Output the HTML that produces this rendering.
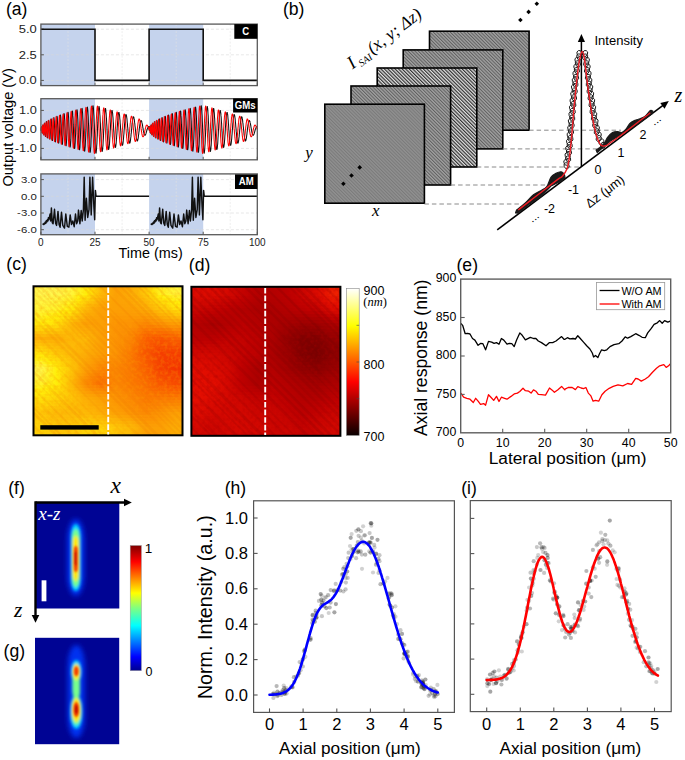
<!DOCTYPE html><html><head><meta charset="utf-8"><style>html,body{margin:0;padding:0;background:#fff;}svg{display:block;}</style></head><body><svg width="685" height="760" viewBox="0 0 685 760"><text x="5.9" y="15.3" font-size="17.6" font-family="Liberation Sans, sans-serif">(a)</text>
<rect x="40.9" y="24.1" width="54.1" height="61.5" fill="#c5d3ed"/>
<rect x="149.1" y="24.1" width="54.1" height="61.5" fill="#c5d3ed"/>
<line x1="68" y1="24.1" x2="68" y2="85.6" stroke="#e2e2e2" stroke-width="0.6" stroke-dasharray="2,1.5"/>
<line x1="122.1" y1="24.1" x2="122.1" y2="85.6" stroke="#e2e2e2" stroke-width="0.6" stroke-dasharray="2,1.5"/>
<line x1="176.2" y1="24.1" x2="176.2" y2="85.6" stroke="#e2e2e2" stroke-width="0.6" stroke-dasharray="2,1.5"/>
<line x1="230.2" y1="24.1" x2="230.2" y2="85.6" stroke="#e2e2e2" stroke-width="0.6" stroke-dasharray="2,1.5"/>
<line x1="40.9" y1="29.2" x2="257.3" y2="29.2" stroke="#d6d6d6" stroke-width="0.6" stroke-dasharray="3,2"/>
<line x1="40.9" y1="29.2" x2="43.9" y2="29.2" stroke="#555" stroke-width="1"/>
<text transform="translate(36.8,29.2) scale(1.1,0.96)" y="4.2" font-size="11.8" text-anchor="end" font-family="Liberation Sans, sans-serif" fill="#222">5.0</text>
<line x1="40.9" y1="54.8" x2="257.3" y2="54.8" stroke="#d6d6d6" stroke-width="0.6" stroke-dasharray="3,2"/>
<line x1="40.9" y1="54.8" x2="43.9" y2="54.8" stroke="#555" stroke-width="1"/>
<text transform="translate(36.8,54.8) scale(1.1,0.96)" y="4.2" font-size="11.8" text-anchor="end" font-family="Liberation Sans, sans-serif" fill="#222">2.5</text>
<line x1="40.9" y1="80.4" x2="257.3" y2="80.4" stroke="#d6d6d6" stroke-width="0.6" stroke-dasharray="3,2"/>
<line x1="40.9" y1="80.4" x2="43.9" y2="80.4" stroke="#555" stroke-width="1"/>
<text transform="translate(36.8,80.4) scale(1.1,0.96)" y="4.2" font-size="11.8" text-anchor="end" font-family="Liberation Sans, sans-serif" fill="#222">0.0</text>
<polyline points="40.9,29.2 95,29.2 95,80.4 149.1,80.4 149.1,29.2 203.2,29.2 203.2,80.4 257.3,80.4" fill="none" stroke="#111" stroke-width="1.6"/>
<rect x="40.9" y="24.1" width="216.4" height="61.5" fill="none" stroke="#5a5a5a" stroke-width="1.3"/>
<line x1="40.9" y1="85.6" x2="40.9" y2="82.6" stroke="#555" stroke-width="1"/>
<line x1="95" y1="85.6" x2="95" y2="82.6" stroke="#555" stroke-width="1"/>
<line x1="149.1" y1="85.6" x2="149.1" y2="82.6" stroke="#555" stroke-width="1"/>
<line x1="203.2" y1="85.6" x2="203.2" y2="82.6" stroke="#555" stroke-width="1"/>
<line x1="257.3" y1="85.6" x2="257.3" y2="82.6" stroke="#555" stroke-width="1"/>
<rect x="234.3" y="24.1" width="23" height="14.7" fill="#000"/>
<text transform="translate(245.8,30.8) scale(1,1.17)" y="3.5" font-size="9.6" font-weight="bold" fill="#fff" text-anchor="middle" font-family="Liberation Sans, sans-serif">C</text>
<rect x="40.9" y="98.7" width="54.1" height="61.1" fill="#c5d3ed"/>
<rect x="149.1" y="98.7" width="54.1" height="61.1" fill="#c5d3ed"/>
<line x1="68" y1="98.7" x2="68" y2="159.8" stroke="#e2e2e2" stroke-width="0.6" stroke-dasharray="2,1.5"/>
<line x1="122.1" y1="98.7" x2="122.1" y2="159.8" stroke="#e2e2e2" stroke-width="0.6" stroke-dasharray="2,1.5"/>
<line x1="176.2" y1="98.7" x2="176.2" y2="159.8" stroke="#e2e2e2" stroke-width="0.6" stroke-dasharray="2,1.5"/>
<line x1="230.2" y1="98.7" x2="230.2" y2="159.8" stroke="#e2e2e2" stroke-width="0.6" stroke-dasharray="2,1.5"/>
<line x1="40.9" y1="110.4" x2="257.3" y2="110.4" stroke="#d6d6d6" stroke-width="0.6" stroke-dasharray="3,2"/>
<line x1="40.9" y1="110.4" x2="43.9" y2="110.4" stroke="#555" stroke-width="1"/>
<text transform="translate(36.8,110.4) scale(1.08,0.92)" y="4.2" font-size="11.8" text-anchor="end" font-family="Liberation Sans, sans-serif" fill="#222">1.0</text>
<line x1="40.9" y1="129.4" x2="257.3" y2="129.4" stroke="#d6d6d6" stroke-width="0.6" stroke-dasharray="3,2"/>
<line x1="40.9" y1="129.4" x2="43.9" y2="129.4" stroke="#555" stroke-width="1"/>
<text transform="translate(36.8,129.4) scale(1.08,0.92)" y="4.2" font-size="11.8" text-anchor="end" font-family="Liberation Sans, sans-serif" fill="#222">0.0</text>
<line x1="40.9" y1="148.4" x2="257.3" y2="148.4" stroke="#d6d6d6" stroke-width="0.6" stroke-dasharray="3,2"/>
<line x1="40.9" y1="148.4" x2="43.9" y2="148.4" stroke="#555" stroke-width="1"/>
<text transform="translate(36.8,148.4) scale(1.08,0.92)" y="4.2" font-size="11.8" text-anchor="end" font-family="Liberation Sans, sans-serif" fill="#222">-1.0</text>
<polyline points="40.9,129.4 41,130.4 41.2,129.9 41.3,128.8 41.4,127.6 41.5,126.8 41.7,126.9 41.8,128 41.9,129.8 42.1,131.6 42.2,132.9 42.3,133.2 42.5,132.3 42.6,130.4 42.7,128.1 42.8,126 43,124.8 43.1,124.8 43.2,126 43.4,128.2 43.5,130.8 43.6,133.2 43.8,134.7 43.9,135 44,133.9 44.1,131.7 44.3,129 44.4,126.2 44.5,124.1 44.7,123.1 44.8,123.4 44.9,124.9 45.1,127.5 45.2,130.4 45.3,133.3 45.4,135.4 45.6,136.5 45.7,136.2 45.8,134.7 46,132.2 46.1,129.1 46.2,126.1 46.4,123.5 46.5,122 46.6,121.6 46.7,122.5 46.9,124.6 47,127.4 47.1,130.6 47.3,133.6 47.4,136.1 47.5,137.6 47.7,137.9 47.8,136.9 47.9,134.9 48,132.1 48.2,128.9 48.3,125.7 48.4,123 48.6,121.1 48.7,120.3 48.8,120.6 49,122 49.1,124.4 49.2,127.4 49.3,130.7 49.5,133.8 49.6,136.5 49.7,138.4 49.9,139.2 50,138.9 50.1,137.6 50.2,135.4 50.4,132.5 50.5,129.2 50.6,125.9 50.8,123 50.9,120.7 51,119.3 51.2,118.9 51.3,119.5 51.4,121.1 51.5,123.5 51.7,126.5 51.8,129.8 51.9,133.1 52.1,136 52.2,138.4 52.3,139.9 52.5,140.5 52.6,140.2 52.7,138.9 52.8,136.8 53,134.1 53.1,130.9 53.2,127.6 53.4,124.5 53.5,121.7 53.6,119.5 53.8,118.1 53.9,117.6 54,118 54.1,119.2 54.3,121.3 54.4,123.9 54.5,127 54.7,130.3 54.8,133.5 54.9,136.4 55.1,138.9 55.2,140.7 55.3,141.7 55.4,141.9 55.6,141.2 55.7,139.7 55.8,137.6 56,134.8 56.1,131.8 56.2,128.5 56.4,125.3 56.5,122.4 56.6,119.9 56.7,117.9 56.9,116.7 57,116.2 57.1,116.6 57.3,117.7 57.4,119.5 57.5,121.9 57.6,124.8 57.8,127.9 57.9,131.2 58,134.4 58.2,137.3 58.3,139.7 58.4,141.6 58.6,142.8 58.7,143.2 58.8,142.9 58.9,141.8 59.1,139.9 59.2,137.5 59.3,134.7 59.5,131.5 59.6,128.2 59.7,124.9 59.9,121.9 60,119.3 60.1,117.2 60.2,115.7 60.4,115 60.5,115 60.6,115.8 60.8,117.3 60.9,119.4 61,122.1 61.2,125.2 61.3,128.5 61.4,131.8 61.5,135 61.7,138 61.8,140.5 61.9,142.5 62.1,143.9 62.2,144.5 62.3,144.4 62.5,143.5 62.6,142 62.7,139.8 62.8,137.2 63,134.1 63.1,130.8 63.2,127.4 63.4,124.2 63.5,121.1 63.6,118.4 63.8,116.3 63.9,114.7 64,113.8 64.1,113.6 64.3,114.2 64.4,115.4 64.5,117.3 64.7,119.7 64.8,122.6 64.9,125.8 65.1,129.2 65.2,132.6 65.3,135.8 65.4,138.8 65.6,141.4 65.7,143.5 65.8,144.9 66,145.7 66.1,145.8 66.2,145.2 66.3,143.9 66.5,142 66.6,139.6 66.7,136.7 66.9,133.5 67,130.2 67.1,126.7 67.3,123.4 67.4,120.4 67.5,117.7 67.6,115.4 67.8,113.7 67.9,112.7 68,112.3 68.2,112.6 68.3,113.6 68.4,115.2 68.6,117.3 68.7,120 68.8,123 68.9,126.2 69.1,129.6 69.2,133 69.3,136.3 69.5,139.3 69.6,141.9 69.7,144.1 69.9,145.7 70,146.7 70.1,147.1 70.2,146.9 70.4,146 70.5,144.5 70.6,142.5 70.8,139.9 70.9,137.1 71,133.9 71.2,130.6 71.3,127.2 71.4,123.9 71.5,120.8 71.7,117.9 71.8,115.5 71.9,113.5 72.1,112.1 72.2,111.3 72.3,111 72.5,111.4 72.6,112.4 72.7,113.9 72.8,115.9 73,118.4 73.1,121.3 73.2,124.4 73.4,127.7 73.5,131 73.6,134.3 73.7,137.5 73.9,140.4 74,142.9 74.1,145.1 74.3,146.7 74.4,147.8 74.5,148.4 74.7,148.4 74.8,147.7 74.9,146.6 75,144.9 75.2,142.8 75.3,140.2 75.4,137.3 75.6,134.2 75.7,131 75.8,127.7 76,124.4 76.1,121.3 76.2,118.4 76.3,115.8 76.5,113.6 76.6,111.9 76.7,110.6 76.9,109.9 77,109.7 77.1,110.1 77.3,111 77.4,112.4 77.5,114.3 77.6,116.6 77.8,119.2 77.9,122.2 78,125.3 78.2,128.6 78.3,131.9 78.4,135.1 78.6,138.2 78.7,141 78.8,143.6 78.9,145.8 79.1,147.5 79.2,148.8 79.3,149.5 79.5,149.8 79.6,149.5 79.7,148.6 79.9,147.3 80,145.5 80.1,143.3 80.2,140.7 80.4,137.8 80.5,134.7 80.6,131.4 80.8,128.1 80.9,124.9 81,121.7 81.2,118.7 81.3,116 81.4,113.6 81.5,111.6 81.7,110.1 81.8,109 81.9,108.5 82.1,108.4 82.2,108.9 82.3,109.9 82.4,111.4 82.6,113.3 82.7,115.6 82.8,118.3 83,121.2 83.1,124.4 83.2,127.6 83.4,131 83.5,134.2 83.6,137.4 83.7,140.4 83.9,143.1 84,145.6 84.1,147.6 84.3,149.2 84.4,150.3 84.5,150.9 84.7,151.1 84.8,150.7 84.9,149.8 85,148.5 85.2,146.7 85.3,144.5 85.4,141.9 85.6,139 85.7,136 85.8,132.7 86,129.4 86.1,126.1 86.2,122.8 86.3,119.7 86.5,116.8 86.6,114.2 86.7,111.9 86.9,110.1 87,108.6 87.1,107.6 87.3,107.1 87.4,107.1 87.5,107.6 87.6,108.6 87.8,110 87.9,111.9 88,114.1 88.2,116.7 88.3,119.6 88.4,122.6 88.6,125.9 88.7,129.2 88.8,132.5 88.9,135.8 89.1,138.9 89.2,141.8 89.3,144.5 89.5,146.8 89.6,148.8 89.7,150.4 89.8,151.5 90,152.2 90.1,152.4 90.2,152.1 90.4,151.4 90.5,150.2 90.6,148.6 90.8,146.6 90.9,144.2 91,141.5 91.1,138.6 91.3,135.5 91.4,132.2 91.5,128.9 91.7,125.7 91.8,122.4 91.9,119.3 92.1,116.5 92.2,113.8 92.3,111.5 92.4,109.5 92.6,107.9 92.7,106.7 92.8,106 93,105.7 93.1,105.9 93.2,106.5 93.4,107.6 93.5,109.1 93.6,111 93.7,113.2 93.9,115.7 94,118.5 94.1,121.5 94.3,124.7 94.4,127.9 94.5,131.2 94.7,134.5 94.8,137.6 94.9,140.6 95,143.4 95.2,145.9 95.3,148.1 95.4,149.9 95.6,151.4 95.7,152.4 95.8,153 96,153.2 96.1,153 96.2,152.4 96.3,151.3 96.5,149.8 96.6,148 96.7,145.9 96.9,143.5 97,140.9 97.1,138 97.3,135.1 97.4,132 97.5,128.9 97.6,125.9 97.8,122.9 97.9,120 98,117.3 98.2,114.8 98.3,112.6 98.4,110.7 98.5,109.1 98.7,107.9 98.8,107 98.9,106.6 99.1,106.5 99.2,106.8 99.3,107.5 99.5,108.6 99.6,110 99.7,111.7 99.8,113.7 100,116 100.1,118.5 100.2,121.2 100.4,124 100.5,126.9 100.6,129.8 100.8,132.7 100.9,135.5 101,138.2 101.1,140.8 101.3,143.1 101.4,145.2 101.5,147.1 101.7,148.6 101.8,149.8 101.9,150.7 102.1,151.2 102.2,151.4 102.3,151.2 102.4,150.6 102.6,149.7 102.7,148.5 102.8,146.9 103,145.1 103.1,143 103.2,140.8 103.4,138.3 103.5,135.7 103.6,133 103.7,130.3 103.9,127.6 104,124.9 104.1,122.3 104.3,119.8 104.4,117.5 104.5,115.4 104.7,113.5 104.8,111.9 104.9,110.5 105,109.5 105.2,108.8 105.3,108.4 105.4,108.4 105.6,108.7 105.7,109.3 105.8,110.2 105.9,111.5 106.1,113 106.2,114.7 106.3,116.7 106.5,118.9 106.6,121.2 106.7,123.7 106.9,126.2 107,128.7 107.1,131.3 107.2,133.8 107.4,136.2 107.5,138.6 107.6,140.7 107.8,142.7 107.9,144.5 108,146 108.2,147.3 108.3,148.3 108.4,149 108.5,149.4 108.7,149.4 108.8,149.2 108.9,148.7 109.1,147.9 109.2,146.8 109.3,145.5 109.5,143.9 109.6,142.1 109.7,140.1 109.8,138 110,135.8 110.1,133.4 110.2,131 110.4,128.7 110.5,126.3 110.6,124 110.8,121.8 110.9,119.7 111,117.7 111.1,116 111.3,114.4 111.4,113.1 111.5,112 111.7,111.2 111.8,110.6 111.9,110.4 112.1,110.4 112.2,110.7 112.3,111.2 112.4,112.1 112.6,113.1 112.7,114.4 112.8,115.9 113,117.6 113.1,119.5 113.2,121.5 113.4,123.6 113.5,125.8 113.6,128 113.7,130.2 113.9,132.4 114,134.6 114.1,136.6 114.3,138.6 114.4,140.4 114.5,142 114.6,143.5 114.8,144.7 114.9,145.8 115,146.6 115.2,147.1 115.3,147.4 115.4,147.4 115.6,147.2 115.7,146.7 115.8,146 115.9,145.1 116.1,144 116.2,142.6 116.3,141.1 116.5,139.4 116.6,137.6 116.7,135.7 116.9,133.7 117,131.7 117.1,129.6 117.2,127.5 117.4,125.5 117.5,123.6 117.6,121.7 117.8,120 117.9,118.4 118,116.9 118.2,115.6 118.3,114.6 118.4,113.7 118.5,113 118.7,112.6 118.8,112.4 118.9,112.4 119.1,112.7 119.2,113.2 119.3,113.9 119.5,114.8 119.6,115.9 119.7,117.2 119.8,118.6 120,120.1 120.1,121.8 120.2,123.6 120.4,125.4 120.5,127.3 120.6,129.2 120.8,131.1 120.9,133 121,134.8 121.1,136.5 121.3,138.1 121.4,139.6 121.5,140.9 121.7,142.1 121.8,143.2 121.9,144 122,144.6 122.2,145.1 122.3,145.3 122.4,145.3 122.6,145.2 122.7,144.8 122.8,144.2 123,143.4 123.1,142.5 123.2,141.4 123.3,140.1 123.5,138.7 123.6,137.2 123.7,135.6 123.9,134 124,132.3 124.1,130.5 124.3,128.8 124.4,127.1 124.5,125.4 124.6,123.8 124.8,122.2 124.9,120.8 125,119.4 125.2,118.3 125.3,117.2 125.4,116.3 125.6,115.6 125.7,115.1 125.8,114.7 125.9,114.5 126.1,114.6 126.2,114.8 126.3,115.1 126.5,115.7 126.6,116.4 126.7,117.3 126.9,118.3 127,119.5 127.1,120.7 127.2,122.1 127.4,123.6 127.5,125.1 127.6,126.6 127.8,128.2 127.9,129.8 128,131.4 128.2,132.9 128.3,134.4 128.4,135.8 128.5,137.1 128.7,138.4 128.8,139.5 128.9,140.5 129.1,141.3 129.2,142 129.3,142.5 129.5,142.9 129.6,143.1 129.7,143.2 129.8,143 130,142.8 130.1,142.3 130.2,141.7 130.4,141 130.5,140.1 130.6,139.1 130.7,138 130.9,136.9 131,135.6 131.1,134.2 131.3,132.9 131.4,131.4 131.5,130 131.7,128.6 131.8,127.2 131.9,125.8 132,124.5 132.2,123.2 132.3,122 132.4,120.9 132.6,120 132.7,119.1 132.8,118.4 133,117.7 133.1,117.3 133.2,117 133.3,116.8 133.5,116.8 133.6,116.9 133.7,117.1 133.9,117.5 134,118.1 134.1,118.7 134.3,119.5 134.4,120.4 134.5,121.4 134.6,122.4 134.8,123.6 134.9,124.7 135,126 135.2,127.3 135.3,128.5 135.4,129.8 135.6,131.1 135.7,132.3 135.8,133.5 135.9,134.7 136.1,135.8 136.2,136.8 136.3,137.7 136.5,138.5 136.6,139.2 136.7,139.8 136.9,140.2 137,140.6 137.1,140.8 137.2,140.9 137.4,140.9 137.5,140.7 137.6,140.4 137.8,140 137.9,139.5 138,138.9 138.2,138.1 138.3,137.3 138.4,136.4 138.5,135.4 138.7,134.3 138.8,133.3 138.9,132.2 139.1,131.1 139.2,129.9 139.3,128.9 139.4,127.8 139.6,126.8 139.7,125.8 139.8,124.9 140,124 140.1,123.3 140.2,122.6 140.4,122 140.5,121.5 140.6,121.1 140.7,120.8 140.9,120.6 141,120.5 141.1,120.5 141.3,120.6 141.4,120.7 141.5,121 141.7,121.4 141.8,121.8 141.9,122.4 142,122.9 142.2,123.6 142.3,124.3 142.4,125 142.6,125.7 142.7,126.5 142.8,127.3 143,128.1 143.1,128.8 143.2,129.6 143.3,130.4 143.5,131.1 143.6,131.7 143.7,132.4 143.9,132.9 144,133.4 144.1,133.9 144.3,134.3 144.4,134.6 144.5,134.9 144.6,135.1 144.8,135.2 144.9,135.3 145,135.2 145.2,135.2 145.3,135 145.4,134.8 145.6,134.6 145.7,134.3 145.8,134 145.9,133.6 146.1,133.2 146.2,132.7 146.3,132.3 146.5,131.8 146.6,131.4 146.7,130.9 146.8,130.4 147,130 147.1,129.5 147.2,129.1 147.4,128.7 147.5,128.3 147.6,128 147.8,127.7 147.9,127.4 148,127.2 148.1,127 148.3,126.8 148.4,126.7 148.5,126.6 148.7,126.6 148.8,126.6 148.9,126.6 149.1,126.7 149.1,129.4 149.2,130.4 149.4,129.9 149.5,128.8 149.6,127.6 149.7,126.8 149.9,126.9 150,128 150.1,129.8 150.3,131.6 150.4,132.9 150.5,133.2 150.7,132.3 150.8,130.4 150.9,128.1 151,126 151.2,124.8 151.3,124.8 151.4,126 151.6,128.2 151.7,130.8 151.8,133.2 152,134.7 152.1,135 152.2,133.9 152.3,131.7 152.5,129 152.6,126.2 152.7,124.1 152.9,123.1 153,123.4 153.1,124.9 153.3,127.5 153.4,130.4 153.5,133.3 153.6,135.4 153.8,136.5 153.9,136.2 154,134.7 154.2,132.2 154.3,129.1 154.4,126.1 154.6,123.5 154.7,122 154.8,121.6 154.9,122.5 155.1,124.6 155.2,127.4 155.3,130.6 155.5,133.6 155.6,136.1 155.7,137.6 155.9,137.9 156,136.9 156.1,134.9 156.2,132.1 156.4,128.9 156.5,125.7 156.6,123 156.8,121.1 156.9,120.3 157,120.6 157.2,122 157.3,124.4 157.4,127.4 157.5,130.7 157.7,133.8 157.8,136.5 157.9,138.4 158.1,139.2 158.2,138.9 158.3,137.6 158.4,135.4 158.6,132.5 158.7,129.2 158.8,125.9 159,123 159.1,120.7 159.2,119.3 159.4,118.9 159.5,119.5 159.6,121.1 159.7,123.5 159.9,126.5 160,129.8 160.1,133.1 160.3,136 160.4,138.4 160.5,139.9 160.7,140.5 160.8,140.2 160.9,138.9 161,136.8 161.2,134.1 161.3,130.9 161.4,127.6 161.6,124.5 161.7,121.7 161.8,119.5 162,118.1 162.1,117.6 162.2,118 162.3,119.2 162.5,121.3 162.6,123.9 162.7,127 162.9,130.3 163,133.5 163.1,136.4 163.3,138.9 163.4,140.7 163.5,141.7 163.6,141.9 163.8,141.2 163.9,139.7 164,137.6 164.2,134.8 164.3,131.8 164.4,128.5 164.6,125.3 164.7,122.4 164.8,119.9 164.9,117.9 165.1,116.7 165.2,116.2 165.3,116.6 165.5,117.7 165.6,119.5 165.7,121.9 165.8,124.8 166,127.9 166.1,131.2 166.2,134.4 166.4,137.3 166.5,139.7 166.6,141.6 166.8,142.8 166.9,143.2 167,142.9 167.1,141.8 167.3,139.9 167.4,137.5 167.5,134.7 167.7,131.5 167.8,128.2 167.9,124.9 168.1,121.9 168.2,119.3 168.3,117.2 168.4,115.7 168.6,115 168.7,115 168.8,115.8 169,117.3 169.1,119.4 169.2,122.1 169.4,125.2 169.5,128.5 169.6,131.8 169.7,135 169.9,138 170,140.5 170.1,142.5 170.3,143.9 170.4,144.5 170.5,144.4 170.7,143.5 170.8,142 170.9,139.8 171,137.2 171.2,134.1 171.3,130.8 171.4,127.4 171.6,124.2 171.7,121.1 171.8,118.4 172,116.3 172.1,114.7 172.2,113.8 172.3,113.6 172.5,114.2 172.6,115.4 172.7,117.3 172.9,119.7 173,122.6 173.1,125.8 173.3,129.2 173.4,132.6 173.5,135.8 173.6,138.8 173.8,141.4 173.9,143.5 174,144.9 174.2,145.7 174.3,145.8 174.4,145.2 174.5,143.9 174.7,142 174.8,139.6 174.9,136.7 175.1,133.5 175.2,130.2 175.3,126.7 175.5,123.4 175.6,120.4 175.7,117.7 175.8,115.4 176,113.7 176.1,112.7 176.2,112.3 176.4,112.6 176.5,113.6 176.6,115.2 176.8,117.3 176.9,120 177,123 177.1,126.2 177.3,129.6 177.4,133 177.5,136.3 177.7,139.3 177.8,141.9 177.9,144.1 178.1,145.7 178.2,146.7 178.3,147.1 178.4,146.9 178.6,146 178.7,144.5 178.8,142.5 179,139.9 179.1,137.1 179.2,133.9 179.4,130.6 179.5,127.2 179.6,123.9 179.7,120.8 179.9,117.9 180,115.5 180.1,113.5 180.3,112.1 180.4,111.3 180.5,111 180.7,111.4 180.8,112.4 180.9,113.9 181,115.9 181.2,118.4 181.3,121.3 181.4,124.4 181.6,127.7 181.7,131 181.8,134.3 181.9,137.5 182.1,140.4 182.2,142.9 182.3,145.1 182.5,146.7 182.6,147.8 182.7,148.4 182.9,148.4 183,147.7 183.1,146.6 183.2,144.9 183.4,142.8 183.5,140.2 183.6,137.3 183.8,134.2 183.9,131 184,127.7 184.2,124.4 184.3,121.3 184.4,118.4 184.5,115.8 184.7,113.6 184.8,111.9 184.9,110.6 185.1,109.9 185.2,109.7 185.3,110.1 185.5,111 185.6,112.4 185.7,114.3 185.8,116.6 186,119.2 186.1,122.2 186.2,125.3 186.4,128.6 186.5,131.9 186.6,135.1 186.8,138.2 186.9,141 187,143.6 187.1,145.8 187.3,147.5 187.4,148.8 187.5,149.5 187.7,149.8 187.8,149.5 187.9,148.6 188.1,147.3 188.2,145.5 188.3,143.3 188.4,140.7 188.6,137.8 188.7,134.7 188.8,131.4 189,128.1 189.1,124.9 189.2,121.7 189.4,118.7 189.5,116 189.6,113.6 189.7,111.6 189.9,110.1 190,109 190.1,108.5 190.3,108.4 190.4,108.9 190.5,109.9 190.6,111.4 190.8,113.3 190.9,115.6 191,118.3 191.2,121.2 191.3,124.4 191.4,127.6 191.6,131 191.7,134.2 191.8,137.4 191.9,140.4 192.1,143.1 192.2,145.6 192.3,147.6 192.5,149.2 192.6,150.3 192.7,150.9 192.9,151.1 193,150.7 193.1,149.8 193.2,148.5 193.4,146.7 193.5,144.5 193.6,141.9 193.8,139 193.9,136 194,132.7 194.2,129.4 194.3,126.1 194.4,122.8 194.5,119.7 194.7,116.8 194.8,114.2 194.9,111.9 195.1,110.1 195.2,108.6 195.3,107.6 195.5,107.1 195.6,107.1 195.7,107.6 195.8,108.6 196,110 196.1,111.9 196.2,114.1 196.4,116.7 196.5,119.6 196.6,122.6 196.8,125.9 196.9,129.2 197,132.5 197.1,135.8 197.3,138.9 197.4,141.8 197.5,144.5 197.7,146.8 197.8,148.8 197.9,150.4 198,151.5 198.2,152.2 198.3,152.4 198.4,152.1 198.6,151.4 198.7,150.2 198.8,148.6 199,146.6 199.1,144.2 199.2,141.5 199.3,138.6 199.5,135.5 199.6,132.2 199.7,128.9 199.9,125.7 200,122.4 200.1,119.3 200.3,116.5 200.4,113.8 200.5,111.5 200.6,109.5 200.8,107.9 200.9,106.7 201,106 201.2,105.7 201.3,105.9 201.4,106.5 201.6,107.6 201.7,109.1 201.8,111 201.9,113.2 202.1,115.7 202.2,118.5 202.3,121.5 202.5,124.7 202.6,127.9 202.7,131.2 202.9,134.5 203,137.6 203.1,140.6 203.2,143.4 203.4,145.9 203.5,148.1 203.6,149.9 203.8,151.4 203.9,152.4 204,153 204.2,153.2 204.3,153 204.4,152.4 204.5,151.3 204.7,149.8 204.8,148 204.9,145.9 205.1,143.5 205.2,140.9 205.3,138 205.5,135.1 205.6,132 205.7,128.9 205.8,125.9 206,122.9 206.1,120 206.2,117.3 206.4,114.8 206.5,112.6 206.6,110.7 206.7,109.1 206.9,107.9 207,107 207.1,106.6 207.3,106.5 207.4,106.8 207.5,107.5 207.7,108.6 207.8,110 207.9,111.7 208,113.7 208.2,116 208.3,118.5 208.4,121.2 208.6,124 208.7,126.9 208.8,129.8 209,132.7 209.1,135.5 209.2,138.2 209.3,140.8 209.5,143.1 209.6,145.2 209.7,147.1 209.9,148.6 210,149.8 210.1,150.7 210.3,151.2 210.4,151.4 210.5,151.2 210.6,150.6 210.8,149.7 210.9,148.5 211,146.9 211.2,145.1 211.3,143 211.4,140.8 211.6,138.3 211.7,135.7 211.8,133 211.9,130.3 212.1,127.6 212.2,124.9 212.3,122.3 212.5,119.8 212.6,117.5 212.7,115.4 212.9,113.5 213,111.9 213.1,110.5 213.2,109.5 213.4,108.8 213.5,108.4 213.6,108.4 213.8,108.7 213.9,109.3 214,110.2 214.1,111.5 214.3,113 214.4,114.7 214.5,116.7 214.7,118.9 214.8,121.2 214.9,123.7 215.1,126.2 215.2,128.7 215.3,131.3 215.4,133.8 215.6,136.2 215.7,138.6 215.8,140.7 216,142.7 216.1,144.5 216.2,146 216.4,147.3 216.5,148.3 216.6,149 216.7,149.4 216.9,149.4 217,149.2 217.1,148.7 217.3,147.9 217.4,146.8 217.5,145.5 217.7,143.9 217.8,142.1 217.9,140.1 218,138 218.2,135.8 218.3,133.4 218.4,131 218.6,128.7 218.7,126.3 218.8,124 219,121.8 219.1,119.7 219.2,117.7 219.3,116 219.5,114.4 219.6,113.1 219.7,112 219.9,111.2 220,110.6 220.1,110.4 220.3,110.4 220.4,110.7 220.5,111.2 220.6,112.1 220.8,113.1 220.9,114.4 221,115.9 221.2,117.6 221.3,119.5 221.4,121.5 221.6,123.6 221.7,125.8 221.8,128 221.9,130.2 222.1,132.4 222.2,134.6 222.3,136.6 222.5,138.6 222.6,140.4 222.7,142 222.8,143.5 223,144.7 223.1,145.8 223.2,146.6 223.4,147.1 223.5,147.4 223.6,147.4 223.8,147.2 223.9,146.7 224,146 224.1,145.1 224.3,144 224.4,142.6 224.5,141.1 224.7,139.4 224.8,137.6 224.9,135.7 225.1,133.7 225.2,131.7 225.3,129.6 225.4,127.5 225.6,125.5 225.7,123.6 225.8,121.7 226,120 226.1,118.4 226.2,116.9 226.4,115.6 226.5,114.6 226.6,113.7 226.7,113 226.9,112.6 227,112.4 227.1,112.4 227.3,112.7 227.4,113.2 227.5,113.9 227.7,114.8 227.8,115.9 227.9,117.2 228,118.6 228.2,120.1 228.3,121.8 228.4,123.6 228.6,125.4 228.7,127.3 228.8,129.2 229,131.1 229.1,133 229.2,134.8 229.3,136.5 229.5,138.1 229.6,139.6 229.7,140.9 229.9,142.1 230,143.2 230.1,144 230.2,144.6 230.4,145.1 230.5,145.3 230.6,145.3 230.8,145.2 230.9,144.8 231,144.2 231.2,143.4 231.3,142.5 231.4,141.4 231.5,140.1 231.7,138.7 231.8,137.2 231.9,135.6 232.1,134 232.2,132.3 232.3,130.5 232.5,128.8 232.6,127.1 232.7,125.4 232.8,123.8 233,122.2 233.1,120.8 233.2,119.4 233.4,118.3 233.5,117.2 233.6,116.3 233.8,115.6 233.9,115.1 234,114.7 234.1,114.5 234.3,114.6 234.4,114.8 234.5,115.1 234.7,115.7 234.8,116.4 234.9,117.3 235.1,118.3 235.2,119.5 235.3,120.7 235.4,122.1 235.6,123.6 235.7,125.1 235.8,126.6 236,128.2 236.1,129.8 236.2,131.4 236.4,132.9 236.5,134.4 236.6,135.8 236.7,137.1 236.9,138.4 237,139.5 237.1,140.5 237.3,141.3 237.4,142 237.5,142.5 237.7,142.9 237.8,143.1 237.9,143.2 238,143 238.2,142.8 238.3,142.3 238.4,141.7 238.6,141 238.7,140.1 238.8,139.1 238.9,138 239.1,136.9 239.2,135.6 239.3,134.2 239.5,132.9 239.6,131.4 239.7,130 239.9,128.6 240,127.2 240.1,125.8 240.2,124.5 240.4,123.2 240.5,122 240.6,120.9 240.8,120 240.9,119.1 241,118.4 241.2,117.7 241.3,117.3 241.4,117 241.5,116.8 241.7,116.8 241.8,116.9 241.9,117.1 242.1,117.5 242.2,118.1 242.3,118.7 242.5,119.5 242.6,120.4 242.7,121.4 242.8,122.4 243,123.6 243.1,124.7 243.2,126 243.4,127.3 243.5,128.5 243.6,129.8 243.8,131.1 243.9,132.3 244,133.5 244.1,134.7 244.3,135.8 244.4,136.8 244.5,137.7 244.7,138.5 244.8,139.2 244.9,139.8 245.1,140.2 245.2,140.6 245.3,140.8 245.4,140.9 245.6,140.9 245.7,140.7 245.8,140.4 246,140 246.1,139.5 246.2,138.9 246.4,138.1 246.5,137.3 246.6,136.4 246.7,135.4 246.9,134.3 247,133.3 247.1,132.2 247.3,131.1 247.4,129.9 247.5,128.9 247.6,127.8 247.8,126.8 247.9,125.8 248,124.9 248.2,124 248.3,123.3 248.4,122.6 248.6,122 248.7,121.5 248.8,121.1 248.9,120.8 249.1,120.6 249.2,120.5 249.3,120.5 249.5,120.6 249.6,120.7 249.7,121 249.9,121.4 250,121.8 250.1,122.4 250.2,122.9 250.4,123.6 250.5,124.3 250.6,125 250.8,125.7 250.9,126.5 251,127.3 251.2,128.1 251.3,128.8 251.4,129.6 251.5,130.4 251.7,131.1 251.8,131.7 251.9,132.4 252.1,132.9 252.2,133.4 252.3,133.9 252.5,134.3 252.6,134.6 252.7,134.9 252.8,135.1 253,135.2 253.1,135.3 253.2,135.2 253.4,135.2 253.5,135 253.6,134.8 253.8,134.6 253.9,134.3 254,134 254.1,133.6 254.3,133.2 254.4,132.7 254.5,132.3 254.7,131.8 254.8,131.4 254.9,130.9 255,130.4 255.2,130 255.3,129.5 255.4,129.1 255.6,128.7 255.7,128.3 255.8,128 256,127.7 256.1,127.4 256.2,127.2 256.3,127 256.5,126.8 256.6,126.7 256.7,126.6 256.9,126.6 257,126.6 257.1,126.6 257.3,126.7" fill="none" stroke="#111" stroke-width="1.05" stroke-linejoin="round"/>
<polyline points="40.9,129.4 41,128.7 41.2,127.8 41.3,127.4 41.4,127.9 41.5,129.2 41.7,130.8 41.8,132.2 41.9,132.7 42.1,132.2 42.2,130.6 42.3,128.5 42.5,126.5 42.6,125.3 42.7,125.2 42.8,126.3 43,128.4 43.1,130.9 43.2,133.1 43.4,134.4 43.5,134.5 43.6,133.3 43.8,131 43.9,128.3 44,125.7 44.1,124 44.3,123.4 44.4,124.2 44.5,126.1 44.7,128.8 44.8,131.7 44.9,134.2 45.1,135.8 45.2,136.1 45.3,135.1 45.4,133 45.6,130.1 45.7,127 45.8,124.4 46,122.5 46.1,121.9 46.2,122.6 46.4,124.5 46.5,127.2 46.6,130.3 46.7,133.4 46.9,135.8 47,137.3 47.1,137.5 47.3,136.5 47.4,134.4 47.5,131.6 47.7,128.3 47.8,125.2 47.9,122.7 48,121.1 48.2,120.6 48.3,121.3 48.4,123.1 48.6,125.7 48.7,128.9 48.8,132.1 49,135.1 49.1,137.3 49.2,138.6 49.3,138.8 49.5,137.9 49.6,136 49.7,133.3 49.9,130.1 50,126.8 50.1,123.8 50.2,121.3 50.4,119.8 50.5,119.2 50.6,119.8 50.8,121.3 50.9,123.7 51,126.7 51.2,130 51.3,133.2 51.4,136.1 51.5,138.4 51.7,139.8 51.8,140.2 51.9,139.7 52.1,138.2 52.2,135.8 52.3,132.9 52.5,129.7 52.6,126.4 52.7,123.4 52.8,120.8 53,119 53.1,118 53.2,118 53.4,118.9 53.5,120.7 53.6,123.2 53.8,126.1 53.9,129.4 54,132.6 54.1,135.7 54.3,138.2 54.4,140.1 54.5,141.3 54.7,141.5 54.8,140.9 54.9,139.5 55.1,137.3 55.2,134.6 55.3,131.5 55.4,128.2 55.6,125 55.7,122.1 55.8,119.7 56,117.9 56.1,116.8 56.2,116.6 56.4,117.2 56.5,118.5 56.6,120.5 56.7,123.1 56.9,126.1 57,129.3 57.1,132.5 57.3,135.6 57.4,138.3 57.5,140.5 57.6,142 57.8,142.8 57.9,142.8 58,142 58.2,140.5 58.3,138.4 58.4,135.7 58.6,132.6 58.7,129.3 58.8,126.1 58.9,123 59.1,120.2 59.2,118 59.3,116.3 59.5,115.4 59.6,115.3 59.7,115.9 59.9,117.2 60,119.3 60.1,121.8 60.2,124.8 60.4,128.1 60.5,131.4 60.6,134.6 60.8,137.6 60.9,140.2 61,142.2 61.2,143.5 61.3,144.2 61.4,144.1 61.5,143.2 61.7,141.6 61.8,139.5 61.9,136.8 62.1,133.7 62.2,130.4 62.3,127 62.5,123.8 62.6,120.8 62.7,118.2 62.8,116.1 63,114.7 63.1,114 63.2,114 63.4,114.8 63.5,116.2 63.6,118.3 63.8,120.9 63.9,123.8 64,127.1 64.1,130.5 64.3,133.8 64.4,137 64.5,139.8 64.7,142.2 64.8,143.9 64.9,145.1 65.1,145.5 65.2,145.3 65.3,144.3 65.4,142.6 65.6,140.4 65.7,137.7 65.8,134.7 66,131.4 66.1,128 66.2,124.6 66.3,121.4 66.5,118.6 66.6,116.2 66.7,114.4 66.9,113.2 67,112.7 67.1,112.8 67.3,113.6 67.4,115.1 67.5,117.2 67.6,119.8 67.8,122.8 67.9,126 68,129.4 68.2,132.8 68.3,136.1 68.4,139.1 68.6,141.7 68.7,143.9 68.8,145.5 68.9,146.5 69.1,146.8 69.2,146.5 69.3,145.5 69.5,143.9 69.6,141.7 69.7,139.1 69.9,136.2 70,132.9 70.1,129.6 70.2,126.2 70.4,122.9 70.5,119.9 70.6,117.2 70.8,114.9 70.9,113.1 71,112 71.2,111.4 71.3,111.5 71.4,112.1 71.5,113.4 71.7,115.3 71.8,117.6 71.9,120.3 72.1,123.4 72.2,126.6 72.3,130 72.5,133.3 72.6,136.5 72.7,139.5 72.8,142.2 73,144.4 73.1,146.2 73.2,147.4 73.4,148 73.5,148.1 73.6,147.5 73.7,146.4 73.9,144.7 74,142.6 74.1,140 74.3,137.1 74.4,134 74.5,130.7 74.7,127.4 74.8,124.1 74.9,121 75,118.1 75.2,115.6 75.3,113.5 75.4,111.8 75.6,110.7 75.7,110.1 75.8,110.1 76,110.6 76.1,111.7 76.2,113.3 76.3,115.4 76.5,117.8 76.6,120.6 76.7,123.7 76.9,126.9 77,130.2 77.1,133.4 77.3,136.6 77.4,139.6 77.5,142.3 77.6,144.6 77.8,146.5 77.9,148 78,149 78.2,149.4 78.3,149.3 78.4,148.7 78.6,147.5 78.7,145.9 78.8,143.8 78.9,141.3 79.1,138.5 79.2,135.5 79.3,132.2 79.5,129 79.6,125.7 79.7,122.5 79.9,119.5 80,116.7 80.1,114.2 80.2,112.2 80.4,110.6 80.5,109.4 80.6,108.8 80.8,108.7 80.9,109.2 81,110.1 81.2,111.5 81.3,113.4 81.4,115.7 81.5,118.4 81.7,121.3 81.8,124.5 81.9,127.7 82.1,131 82.2,134.3 82.3,137.5 82.4,140.5 82.6,143.2 82.7,145.5 82.8,147.5 83,149 83.1,150.1 83.2,150.7 83.4,150.7 83.5,150.3 83.6,149.3 83.7,147.8 83.9,145.9 84,143.7 84.1,141 84.3,138.1 84.4,135 84.5,131.7 84.7,128.4 84.8,125.1 84.9,121.9 85,118.8 85.2,116 85.3,113.6 85.4,111.4 85.6,109.7 85.7,108.4 85.8,107.7 86,107.4 86.1,107.6 86.2,108.3 86.3,109.5 86.5,111.2 86.6,113.2 86.7,115.7 86.9,118.4 87,121.4 87.1,124.6 87.3,127.9 87.4,131.2 87.5,134.5 87.6,137.7 87.8,140.7 87.9,143.5 88,145.9 88.2,148 88.3,149.7 88.4,151 88.6,151.8 88.7,152.1 88.8,151.9 88.9,151.2 89.1,150.1 89.2,148.5 89.3,146.5 89.5,144.2 89.6,141.5 89.7,138.6 89.8,135.5 90,132.3 90.1,129 90.2,125.7 90.4,122.4 90.5,119.3 90.6,116.5 90.8,113.8 90.9,111.5 91,109.6 91.1,108 91.3,106.9 91.4,106.3 91.5,106.1 91.7,106.3 91.8,107.1 91.9,108.2 92.1,109.8 92.2,111.8 92.3,114.1 92.4,116.8 92.6,119.7 92.7,122.7 92.8,125.9 93,129.2 93.1,132.5 93.2,135.7 93.4,138.8 93.5,141.8 93.6,144.5 93.7,146.9 93.9,149 94,150.7 94.1,152 94.3,152.9 94.4,153.3 94.5,153.4 94.7,152.9 94.8,152 94.9,150.7 95,149 95.2,146.9 95.3,144.5 95.4,141.8 95.6,138.9 95.7,135.9 95.8,132.7 96,129.5 96.1,126.4 96.2,123.2 96.3,120.3 96.5,117.4 96.6,114.8 96.7,112.5 96.9,110.5 97,108.9 97.1,107.6 97.3,106.6 97.4,106.1 97.5,106 97.6,106.3 97.8,107 97.9,108.1 98,109.6 98.2,111.4 98.3,113.4 98.4,115.8 98.5,118.4 98.7,121.1 98.8,124 98.9,127 99.1,130 99.2,133 99.3,135.9 99.5,138.7 99.6,141.3 99.7,143.7 99.8,145.8 100,147.7 100.1,149.2 100.2,150.4 100.4,151.3 100.5,151.7 100.6,151.8 100.8,151.6 100.9,150.9 101,149.9 101.1,148.6 101.3,146.9 101.4,145 101.5,142.8 101.7,140.4 101.8,137.8 101.9,135.1 102.1,132.3 102.2,129.5 102.3,126.7 102.4,123.9 102.6,121.3 102.7,118.8 102.8,116.5 103,114.4 103.1,112.5 103.2,110.9 103.4,109.7 103.5,108.7 103.6,108.1 103.7,107.9 103.9,108 104,108.4 104.1,109.2 104.3,110.3 104.4,111.7 104.5,113.4 104.7,115.3 104.8,117.5 104.9,119.8 105,122.3 105.2,124.8 105.3,127.5 105.4,130.1 105.6,132.7 105.7,135.3 105.8,137.8 105.9,140.1 106.1,142.2 106.2,144.1 106.3,145.8 106.5,147.2 106.6,148.4 106.7,149.2 106.9,149.7 107,149.9 107.1,149.8 107.2,149.4 107.4,148.7 107.5,147.6 107.6,146.3 107.8,144.7 107.9,143 108,141 108.2,138.8 108.3,136.5 108.4,134.1 108.5,131.7 108.7,129.2 108.8,126.7 108.9,124.3 109.1,122 109.2,119.8 109.3,117.7 109.5,115.9 109.6,114.2 109.7,112.8 109.8,111.7 110,110.8 110.1,110.2 110.2,109.9 110.4,109.9 110.5,110.1 110.6,110.7 110.8,111.5 110.9,112.6 111,114 111.1,115.5 111.3,117.3 111.4,119.2 111.5,121.3 111.7,123.5 111.8,125.7 111.9,128 112.1,130.3 112.2,132.6 112.3,134.8 112.4,137 112.6,139 112.7,140.9 112.8,142.5 113,144 113.1,145.3 113.2,146.3 113.4,147.1 113.5,147.7 113.6,147.9 113.7,147.9 113.9,147.6 114,147.1 114.1,146.3 114.3,145.3 114.4,144.1 114.5,142.6 114.6,141 114.8,139.2 114.9,137.3 115,135.3 115.2,133.2 115.3,131.1 115.4,129 115.6,126.8 115.7,124.8 115.8,122.8 115.9,120.9 116.1,119.1 116.2,117.5 116.3,116 116.5,114.8 116.6,113.7 116.7,112.9 116.9,112.3 117,112 117.1,111.9 117.2,112 117.4,112.4 117.5,113 117.6,113.8 117.8,114.9 117.9,116.1 118,117.5 118.2,119.1 118.3,120.7 118.4,122.5 118.5,124.4 118.7,126.4 118.8,128.4 118.9,130.3 119.1,132.3 119.2,134.2 119.3,136 119.5,137.8 119.6,139.4 119.7,140.8 119.8,142.1 120,143.3 120.1,144.2 120.2,144.9 120.4,145.5 120.5,145.8 120.6,145.9 120.8,145.8 120.9,145.4 121,144.9 121.1,144.1 121.3,143.2 121.4,142.1 121.5,140.8 121.7,139.4 121.8,137.8 121.9,136.2 122,134.4 122.2,132.7 122.3,130.9 122.4,129 122.6,127.2 122.7,125.5 122.8,123.8 123,122.1 123.1,120.6 123.2,119.2 123.3,118 123.5,116.9 123.6,115.9 123.7,115.2 123.9,114.6 124,114.2 124.1,114 124.3,114 124.4,114.2 124.5,114.6 124.6,115.2 124.8,116 124.9,116.9 125,118 125.2,119.2 125.3,120.5 125.4,122 125.6,123.5 125.7,125.1 125.8,126.7 125.9,128.4 126.1,130 126.2,131.7 126.3,133.3 126.5,134.8 126.6,136.3 126.7,137.7 126.9,138.9 127,140.1 127.1,141.1 127.2,141.9 127.4,142.6 127.5,143.2 127.6,143.5 127.8,143.7 127.9,143.7 128,143.5 128.2,143.2 128.3,142.7 128.4,142 128.5,141.2 128.7,140.3 128.8,139.2 128.9,138 129.1,136.7 129.2,135.3 129.3,133.9 129.5,132.4 129.6,130.9 129.7,129.4 129.8,127.9 130,126.4 130.1,125 130.2,123.6 130.4,122.4 130.5,121.2 130.6,120.1 130.7,119.1 130.9,118.2 131,117.5 131.1,117 131.3,116.6 131.4,116.3 131.5,116.2 131.7,116.2 131.8,116.4 131.9,116.8 132,117.3 132.2,117.9 132.3,118.7 132.4,119.6 132.6,120.6 132.7,121.7 132.8,122.9 133,124.1 133.1,125.4 133.2,126.7 133.3,128.1 133.5,129.4 133.6,130.8 133.7,132.1 133.9,133.4 134,134.6 134.1,135.8 134.3,136.9 134.4,137.9 134.5,138.7 134.6,139.5 134.8,140.2 134.9,140.7 135,141.1 135.2,141.3 135.3,141.5 135.4,141.5 135.6,141.3 135.7,141 135.8,140.6 135.9,140.1 136.1,139.4 136.2,138.7 136.3,137.8 136.5,136.9 136.6,135.8 136.7,134.7 136.9,133.6 137,132.4 137.1,131.2 137.2,130 137.4,128.8 137.5,127.6 137.6,126.5 137.8,125.3 137.9,124.3 138,123.2 138.2,122.3 138.3,121.5 138.4,120.8 138.5,120.2 138.7,119.7 138.8,119.3 138.9,119.1 139.1,118.9 139.2,118.9 139.3,119 139.4,119.2 139.6,119.6 139.7,120 139.8,120.5 140,121.1 140.1,121.8 140.2,122.5 140.4,123.4 140.5,124.2 140.6,125.1 140.7,126 140.9,127 141,127.9 141.1,128.9 141.3,129.8 141.4,130.7 141.5,131.6 141.7,132.4 141.8,133.1 141.9,133.9 142,134.5 142.2,135.1 142.3,135.6 142.4,136 142.6,136.3 142.7,136.6 142.8,136.7 143,136.8 143.1,136.8 143.2,136.7 143.3,136.5 143.5,136.3 143.6,136 143.7,135.6 143.9,135.2 144,134.7 144.1,134.2 144.3,133.7 144.4,133.1 144.5,132.5 144.6,131.8 144.8,131.2 144.9,130.6 145,130 145.2,129.4 145.3,128.8 145.4,128.2 145.6,127.7 145.7,127.2 145.8,126.8 145.9,126.4 146.1,126 146.2,125.8 146.3,125.5 146.5,125.3 146.6,125.2 146.7,125.1 146.8,125.1 147,125.1 147.1,125.2 147.2,125.3 147.4,125.4 147.5,125.6 147.6,125.9 147.8,126.1 147.9,126.4 148,126.7 148.1,127 148.3,127.3 148.4,127.7 148.5,128 148.7,128.3 148.8,128.6 148.9,128.9 149.1,129.2 149.1,129.4 149.2,128.7 149.4,127.8 149.5,127.4 149.6,127.9 149.7,129.2 149.9,130.8 150,132.2 150.1,132.7 150.3,132.2 150.4,130.6 150.5,128.5 150.7,126.5 150.8,125.3 150.9,125.2 151,126.3 151.2,128.4 151.3,130.9 151.4,133.1 151.6,134.4 151.7,134.5 151.8,133.3 152,131 152.1,128.3 152.2,125.7 152.3,124 152.5,123.4 152.6,124.2 152.7,126.1 152.9,128.8 153,131.7 153.1,134.2 153.3,135.8 153.4,136.1 153.5,135.1 153.6,133 153.8,130.1 153.9,127 154,124.4 154.2,122.5 154.3,121.9 154.4,122.6 154.6,124.5 154.7,127.2 154.8,130.3 154.9,133.4 155.1,135.8 155.2,137.3 155.3,137.5 155.5,136.5 155.6,134.4 155.7,131.6 155.9,128.3 156,125.2 156.1,122.7 156.2,121.1 156.4,120.6 156.5,121.3 156.6,123.1 156.8,125.7 156.9,128.9 157,132.1 157.2,135.1 157.3,137.3 157.4,138.6 157.5,138.8 157.7,137.9 157.8,136 157.9,133.3 158.1,130.1 158.2,126.8 158.3,123.8 158.4,121.3 158.6,119.8 158.7,119.2 158.8,119.8 159,121.3 159.1,123.7 159.2,126.7 159.4,130 159.5,133.2 159.6,136.1 159.7,138.4 159.9,139.8 160,140.2 160.1,139.7 160.3,138.2 160.4,135.8 160.5,132.9 160.7,129.7 160.8,126.4 160.9,123.4 161,120.8 161.2,119 161.3,118 161.4,118 161.6,118.9 161.7,120.7 161.8,123.2 162,126.1 162.1,129.4 162.2,132.6 162.3,135.7 162.5,138.2 162.6,140.1 162.7,141.3 162.9,141.5 163,140.9 163.1,139.5 163.3,137.3 163.4,134.6 163.5,131.5 163.6,128.2 163.8,125 163.9,122.1 164,119.7 164.2,117.9 164.3,116.8 164.4,116.6 164.6,117.2 164.7,118.5 164.8,120.5 164.9,123.1 165.1,126.1 165.2,129.3 165.3,132.5 165.5,135.6 165.6,138.3 165.7,140.5 165.8,142 166,142.8 166.1,142.8 166.2,142 166.4,140.5 166.5,138.4 166.6,135.7 166.8,132.6 166.9,129.3 167,126.1 167.1,123 167.3,120.2 167.4,118 167.5,116.3 167.7,115.4 167.8,115.3 167.9,115.9 168.1,117.2 168.2,119.3 168.3,121.8 168.4,124.8 168.6,128.1 168.7,131.4 168.8,134.6 169,137.6 169.1,140.2 169.2,142.2 169.4,143.5 169.5,144.2 169.6,144.1 169.7,143.2 169.9,141.6 170,139.5 170.1,136.8 170.3,133.7 170.4,130.4 170.5,127 170.7,123.8 170.8,120.8 170.9,118.2 171,116.1 171.2,114.7 171.3,114 171.4,114 171.6,114.8 171.7,116.2 171.8,118.3 172,120.9 172.1,123.8 172.2,127.1 172.3,130.5 172.5,133.8 172.6,137 172.7,139.8 172.9,142.2 173,143.9 173.1,145.1 173.3,145.5 173.4,145.3 173.5,144.3 173.6,142.6 173.8,140.4 173.9,137.7 174,134.7 174.2,131.4 174.3,128 174.4,124.6 174.5,121.4 174.7,118.6 174.8,116.2 174.9,114.4 175.1,113.2 175.2,112.7 175.3,112.8 175.5,113.6 175.6,115.1 175.7,117.2 175.8,119.8 176,122.8 176.1,126 176.2,129.4 176.4,132.8 176.5,136.1 176.6,139.1 176.8,141.7 176.9,143.9 177,145.5 177.1,146.5 177.3,146.8 177.4,146.5 177.5,145.5 177.7,143.9 177.8,141.7 177.9,139.1 178.1,136.2 178.2,132.9 178.3,129.6 178.4,126.2 178.6,122.9 178.7,119.9 178.8,117.2 179,114.9 179.1,113.1 179.2,112 179.4,111.4 179.5,111.5 179.6,112.1 179.7,113.4 179.9,115.3 180,117.6 180.1,120.3 180.3,123.4 180.4,126.6 180.5,130 180.7,133.3 180.8,136.5 180.9,139.5 181,142.2 181.2,144.4 181.3,146.2 181.4,147.4 181.6,148 181.7,148.1 181.8,147.5 181.9,146.4 182.1,144.7 182.2,142.6 182.3,140 182.5,137.1 182.6,134 182.7,130.7 182.9,127.4 183,124.1 183.1,121 183.2,118.1 183.4,115.6 183.5,113.5 183.6,111.8 183.8,110.7 183.9,110.1 184,110.1 184.2,110.6 184.3,111.7 184.4,113.3 184.5,115.4 184.7,117.8 184.8,120.6 184.9,123.7 185.1,126.9 185.2,130.2 185.3,133.4 185.5,136.6 185.6,139.6 185.7,142.3 185.8,144.6 186,146.5 186.1,148 186.2,149 186.4,149.4 186.5,149.3 186.6,148.7 186.8,147.5 186.9,145.9 187,143.8 187.1,141.3 187.3,138.5 187.4,135.5 187.5,132.2 187.7,129 187.8,125.7 187.9,122.5 188.1,119.5 188.2,116.7 188.3,114.2 188.4,112.2 188.6,110.6 188.7,109.4 188.8,108.8 189,108.7 189.1,109.2 189.2,110.1 189.4,111.5 189.5,113.4 189.6,115.7 189.7,118.4 189.9,121.3 190,124.5 190.1,127.7 190.3,131 190.4,134.3 190.5,137.5 190.6,140.5 190.8,143.2 190.9,145.5 191,147.5 191.2,149 191.3,150.1 191.4,150.7 191.6,150.7 191.7,150.3 191.8,149.3 191.9,147.8 192.1,145.9 192.2,143.7 192.3,141 192.5,138.1 192.6,135 192.7,131.7 192.9,128.4 193,125.1 193.1,121.9 193.2,118.8 193.4,116 193.5,113.6 193.6,111.4 193.8,109.7 193.9,108.4 194,107.7 194.2,107.4 194.3,107.6 194.4,108.3 194.5,109.5 194.7,111.2 194.8,113.2 194.9,115.7 195.1,118.4 195.2,121.4 195.3,124.6 195.5,127.9 195.6,131.2 195.7,134.5 195.8,137.7 196,140.7 196.1,143.5 196.2,145.9 196.4,148 196.5,149.7 196.6,151 196.8,151.8 196.9,152.1 197,151.9 197.1,151.2 197.3,150.1 197.4,148.5 197.5,146.5 197.7,144.2 197.8,141.5 197.9,138.6 198,135.5 198.2,132.3 198.3,129 198.4,125.7 198.6,122.4 198.7,119.3 198.8,116.5 199,113.8 199.1,111.5 199.2,109.6 199.3,108 199.5,106.9 199.6,106.3 199.7,106.1 199.9,106.3 200,107.1 200.1,108.2 200.3,109.8 200.4,111.8 200.5,114.1 200.6,116.8 200.8,119.7 200.9,122.7 201,125.9 201.2,129.2 201.3,132.5 201.4,135.7 201.6,138.8 201.7,141.8 201.8,144.5 201.9,146.9 202.1,149 202.2,150.7 202.3,152 202.5,152.9 202.6,153.3 202.7,153.4 202.9,152.9 203,152 203.1,150.7 203.2,149 203.4,146.9 203.5,144.5 203.6,141.8 203.8,138.9 203.9,135.9 204,132.7 204.2,129.5 204.3,126.4 204.4,123.2 204.5,120.3 204.7,117.4 204.8,114.8 204.9,112.5 205.1,110.5 205.2,108.9 205.3,107.6 205.5,106.6 205.6,106.1 205.7,106 205.8,106.3 206,107 206.1,108.1 206.2,109.6 206.4,111.4 206.5,113.4 206.6,115.8 206.7,118.4 206.9,121.1 207,124 207.1,127 207.3,130 207.4,133 207.5,135.9 207.7,138.7 207.8,141.3 207.9,143.7 208,145.8 208.2,147.7 208.3,149.2 208.4,150.4 208.6,151.3 208.7,151.7 208.8,151.8 209,151.6 209.1,150.9 209.2,149.9 209.3,148.6 209.5,146.9 209.6,145 209.7,142.8 209.9,140.4 210,137.8 210.1,135.1 210.3,132.3 210.4,129.5 210.5,126.7 210.6,123.9 210.8,121.3 210.9,118.8 211,116.5 211.2,114.4 211.3,112.5 211.4,110.9 211.6,109.7 211.7,108.7 211.8,108.1 211.9,107.9 212.1,108 212.2,108.4 212.3,109.2 212.5,110.3 212.6,111.7 212.7,113.4 212.9,115.3 213,117.5 213.1,119.8 213.2,122.3 213.4,124.8 213.5,127.5 213.6,130.1 213.8,132.7 213.9,135.3 214,137.8 214.1,140.1 214.3,142.2 214.4,144.1 214.5,145.8 214.7,147.2 214.8,148.4 214.9,149.2 215.1,149.7 215.2,149.9 215.3,149.8 215.4,149.4 215.6,148.7 215.7,147.6 215.8,146.3 216,144.7 216.1,143 216.2,141 216.4,138.8 216.5,136.5 216.6,134.1 216.7,131.7 216.9,129.2 217,126.7 217.1,124.3 217.3,122 217.4,119.8 217.5,117.7 217.7,115.9 217.8,114.2 217.9,112.8 218,111.7 218.2,110.8 218.3,110.2 218.4,109.9 218.6,109.9 218.7,110.1 218.8,110.7 219,111.5 219.1,112.6 219.2,114 219.3,115.5 219.5,117.3 219.6,119.2 219.7,121.3 219.9,123.5 220,125.7 220.1,128 220.3,130.3 220.4,132.6 220.5,134.8 220.6,137 220.8,139 220.9,140.9 221,142.5 221.2,144 221.3,145.3 221.4,146.3 221.6,147.1 221.7,147.7 221.8,147.9 221.9,147.9 222.1,147.6 222.2,147.1 222.3,146.3 222.5,145.3 222.6,144.1 222.7,142.6 222.8,141 223,139.2 223.1,137.3 223.2,135.3 223.4,133.2 223.5,131.1 223.6,129 223.8,126.8 223.9,124.8 224,122.8 224.1,120.9 224.3,119.1 224.4,117.5 224.5,116 224.7,114.8 224.8,113.7 224.9,112.9 225.1,112.3 225.2,112 225.3,111.9 225.4,112 225.6,112.4 225.7,113 225.8,113.8 226,114.9 226.1,116.1 226.2,117.5 226.4,119.1 226.5,120.7 226.6,122.5 226.7,124.4 226.9,126.4 227,128.4 227.1,130.3 227.3,132.3 227.4,134.2 227.5,136 227.7,137.8 227.8,139.4 227.9,140.8 228,142.1 228.2,143.3 228.3,144.2 228.4,144.9 228.6,145.5 228.7,145.8 228.8,145.9 229,145.8 229.1,145.4 229.2,144.9 229.3,144.1 229.5,143.2 229.6,142.1 229.7,140.8 229.9,139.4 230,137.8 230.1,136.2 230.2,134.4 230.4,132.7 230.5,130.9 230.6,129 230.8,127.2 230.9,125.5 231,123.8 231.2,122.1 231.3,120.6 231.4,119.2 231.5,118 231.7,116.9 231.8,115.9 231.9,115.2 232.1,114.6 232.2,114.2 232.3,114 232.5,114 232.6,114.2 232.7,114.6 232.8,115.2 233,116 233.1,116.9 233.2,118 233.4,119.2 233.5,120.5 233.6,122 233.8,123.5 233.9,125.1 234,126.7 234.1,128.4 234.3,130 234.4,131.7 234.5,133.3 234.7,134.8 234.8,136.3 234.9,137.7 235.1,138.9 235.2,140.1 235.3,141.1 235.4,141.9 235.6,142.6 235.7,143.2 235.8,143.5 236,143.7 236.1,143.7 236.2,143.5 236.4,143.2 236.5,142.7 236.6,142 236.7,141.2 236.9,140.3 237,139.2 237.1,138 237.3,136.7 237.4,135.3 237.5,133.9 237.7,132.4 237.8,130.9 237.9,129.4 238,127.9 238.2,126.4 238.3,125 238.4,123.6 238.6,122.4 238.7,121.2 238.8,120.1 238.9,119.1 239.1,118.2 239.2,117.5 239.3,117 239.5,116.6 239.6,116.3 239.7,116.2 239.9,116.2 240,116.4 240.1,116.8 240.2,117.3 240.4,117.9 240.5,118.7 240.6,119.6 240.8,120.6 240.9,121.7 241,122.9 241.2,124.1 241.3,125.4 241.4,126.7 241.5,128.1 241.7,129.4 241.8,130.8 241.9,132.1 242.1,133.4 242.2,134.6 242.3,135.8 242.5,136.9 242.6,137.9 242.7,138.7 242.8,139.5 243,140.2 243.1,140.7 243.2,141.1 243.4,141.3 243.5,141.5 243.6,141.5 243.8,141.3 243.9,141 244,140.6 244.1,140.1 244.3,139.4 244.4,138.7 244.5,137.8 244.7,136.9 244.8,135.8 244.9,134.7 245.1,133.6 245.2,132.4 245.3,131.2 245.4,130 245.6,128.8 245.7,127.6 245.8,126.5 246,125.3 246.1,124.3 246.2,123.2 246.4,122.3 246.5,121.5 246.6,120.8 246.7,120.2 246.9,119.7 247,119.3 247.1,119.1 247.3,118.9 247.4,118.9 247.5,119 247.6,119.2 247.8,119.6 247.9,120 248,120.5 248.2,121.1 248.3,121.8 248.4,122.5 248.6,123.4 248.7,124.2 248.8,125.1 248.9,126 249.1,127 249.2,127.9 249.3,128.9 249.5,129.8 249.6,130.7 249.7,131.6 249.9,132.4 250,133.1 250.1,133.9 250.2,134.5 250.4,135.1 250.5,135.6 250.6,136 250.8,136.3 250.9,136.6 251,136.7 251.2,136.8 251.3,136.8 251.4,136.7 251.5,136.5 251.7,136.3 251.8,136 251.9,135.6 252.1,135.2 252.2,134.7 252.3,134.2 252.5,133.7 252.6,133.1 252.7,132.5 252.8,131.8 253,131.2 253.1,130.6 253.2,130 253.4,129.4 253.5,128.8 253.6,128.2 253.8,127.7 253.9,127.2 254,126.8 254.1,126.4 254.3,126 254.4,125.8 254.5,125.5 254.7,125.3 254.8,125.2 254.9,125.1 255,125.1 255.2,125.1 255.3,125.2 255.4,125.3 255.6,125.4 255.7,125.6 255.8,125.9 256,126.1 256.1,126.4 256.2,126.7 256.3,127 256.5,127.3 256.6,127.7 256.7,128 256.9,128.3 257,128.6 257.1,128.9 257.3,129.2" fill="none" stroke="#ff0000" stroke-width="1.05" stroke-linejoin="round"/>
<rect x="40.9" y="98.7" width="216.4" height="61.1" fill="none" stroke="#5a5a5a" stroke-width="1.3"/>
<line x1="40.9" y1="159.8" x2="40.9" y2="156.8" stroke="#555" stroke-width="1"/>
<line x1="95" y1="159.8" x2="95" y2="156.8" stroke="#555" stroke-width="1"/>
<line x1="149.1" y1="159.8" x2="149.1" y2="156.8" stroke="#555" stroke-width="1"/>
<line x1="203.2" y1="159.8" x2="203.2" y2="156.8" stroke="#555" stroke-width="1"/>
<line x1="257.3" y1="159.8" x2="257.3" y2="156.8" stroke="#555" stroke-width="1"/>
<rect x="233.1" y="98.4" width="24.2" height="14.1" fill="#000"/>
<text transform="translate(245.2,104.8) scale(1,1.17)" y="3.5" font-size="9.6" font-weight="bold" fill="#fff" text-anchor="middle" font-family="Liberation Sans, sans-serif">GMs</text>
<rect x="40.9" y="173.9" width="54.1" height="60.8" fill="#c5d3ed"/>
<rect x="149.1" y="173.9" width="54.1" height="60.8" fill="#c5d3ed"/>
<line x1="68" y1="173.9" x2="68" y2="234.7" stroke="#e2e2e2" stroke-width="0.6" stroke-dasharray="2,1.5"/>
<line x1="122.1" y1="173.9" x2="122.1" y2="234.7" stroke="#e2e2e2" stroke-width="0.6" stroke-dasharray="2,1.5"/>
<line x1="176.2" y1="173.9" x2="176.2" y2="234.7" stroke="#e2e2e2" stroke-width="0.6" stroke-dasharray="2,1.5"/>
<line x1="230.2" y1="173.9" x2="230.2" y2="234.7" stroke="#e2e2e2" stroke-width="0.6" stroke-dasharray="2,1.5"/>
<line x1="40.9" y1="179.6" x2="257.3" y2="179.6" stroke="#d6d6d6" stroke-width="0.6" stroke-dasharray="3,2"/>
<line x1="40.9" y1="179.6" x2="43.9" y2="179.6" stroke="#555" stroke-width="1"/>
<text transform="translate(36.8,179.6) scale(1.06,0.82)" y="3.9" font-size="10.8" text-anchor="end" font-family="Liberation Sans, sans-serif" fill="#222">3.0</text>
<line x1="40.9" y1="196.3" x2="257.3" y2="196.3" stroke="#d6d6d6" stroke-width="0.6" stroke-dasharray="3,2"/>
<line x1="40.9" y1="196.3" x2="43.9" y2="196.3" stroke="#555" stroke-width="1"/>
<text transform="translate(36.8,196.3) scale(1.06,0.82)" y="3.9" font-size="10.8" text-anchor="end" font-family="Liberation Sans, sans-serif" fill="#222">0.0</text>
<line x1="40.9" y1="213" x2="257.3" y2="213" stroke="#d6d6d6" stroke-width="0.6" stroke-dasharray="3,2"/>
<line x1="40.9" y1="213" x2="43.9" y2="213" stroke="#555" stroke-width="1"/>
<text transform="translate(36.8,213) scale(1.06,0.82)" y="3.9" font-size="10.8" text-anchor="end" font-family="Liberation Sans, sans-serif" fill="#222">-3.0</text>
<line x1="40.9" y1="229.7" x2="257.3" y2="229.7" stroke="#d6d6d6" stroke-width="0.6" stroke-dasharray="3,2"/>
<line x1="40.9" y1="229.7" x2="43.9" y2="229.7" stroke="#555" stroke-width="1"/>
<text transform="translate(36.8,229.7) scale(1.06,0.82)" y="3.9" font-size="10.8" text-anchor="end" font-family="Liberation Sans, sans-serif" fill="#222">-6.0</text>
<polyline points="42.6,224.6 43.2,223.9 43.7,224.6 44.2,223.2 44.7,224 45.3,222.1 45.8,223.3 46.3,220.7 46.8,222.1 47.4,219.7 47.9,221 48.4,217.7 48.9,219.7 49.5,216.8 50.1,214 50.7,221 51.4,207.9 52.3,222.8 53.1,223.7 54.5,209.2 55.6,223.2 56.6,225.4 58,211.4 59.1,224.6 60.1,227.2 61.5,212.3 62.8,225.4 64.5,228.1 65.8,214 67.3,226.3 68.9,227.2 70.2,214.9 71.5,224.6 72.8,221 74.2,226.7 75.5,214 76.6,223.7 77.7,221 78.5,210.1 79.9,223.7 81.2,210.5 82.2,221 83.4,209.7 84.2,177.3 85.1,220.2 86.4,198.3 87.7,217.5 89,209.7 89.9,177.3 91.2,214.9 92.6,177.3 93.9,207 94.7,219.7 95.4,190.4 96.1,196.3 149.1,196.3" fill="none" stroke="#111" stroke-width="1.45" stroke-linejoin="round"/>
<polyline points="150.8,224.6 151.4,223.9 151.9,224.6 152.4,223.2 152.9,224 153.5,222.1 154,223.3 154.5,220.7 155,222.1 155.6,219.7 156.1,221 156.6,217.7 157.1,219.7 157.7,216.8 158.3,214 158.9,221 159.6,207.9 160.5,222.8 161.3,223.7 162.7,209.2 163.8,223.2 164.8,225.4 166.2,211.4 167.3,224.6 168.3,227.2 169.7,212.3 171,225.4 172.7,228.1 174,214 175.5,226.3 177.1,227.2 178.4,214.9 179.7,224.6 181,221 182.4,226.7 183.7,214 184.8,223.7 185.9,221 186.7,210.1 188.1,223.7 189.4,210.5 190.4,221 191.6,209.7 192.4,177.3 193.3,220.2 194.6,198.3 195.9,217.5 197.2,209.7 198.1,177.3 199.4,214.9 200.8,177.3 202.1,207 202.9,219.7 203.6,190.4 204.3,196.3 257.3,196.3" fill="none" stroke="#111" stroke-width="1.45" stroke-linejoin="round"/>
<rect x="40.9" y="173.9" width="216.4" height="60.8" fill="none" stroke="#5a5a5a" stroke-width="1.3"/>
<line x1="40.9" y1="234.7" x2="40.9" y2="231.7" stroke="#555" stroke-width="1"/>
<line x1="95" y1="234.7" x2="95" y2="231.7" stroke="#555" stroke-width="1"/>
<line x1="149.1" y1="234.7" x2="149.1" y2="231.7" stroke="#555" stroke-width="1"/>
<line x1="203.2" y1="234.7" x2="203.2" y2="231.7" stroke="#555" stroke-width="1"/>
<line x1="257.3" y1="234.7" x2="257.3" y2="231.7" stroke="#555" stroke-width="1"/>
<rect x="235" y="174.4" width="22.3" height="14.6" fill="#000"/>
<text transform="translate(246.2,181) scale(1,1.17)" y="3.5" font-size="9.6" font-weight="bold" fill="#fff" text-anchor="middle" font-family="Liberation Sans, sans-serif">AM</text>
<text x="40.9" y="246.4" font-size="10" text-anchor="middle" font-family="Liberation Sans, sans-serif" fill="#222">0</text>
<text x="95" y="246.4" font-size="10" text-anchor="middle" font-family="Liberation Sans, sans-serif" fill="#222">25</text>
<text x="149.1" y="246.4" font-size="10" text-anchor="middle" font-family="Liberation Sans, sans-serif" fill="#222">50</text>
<text x="203.2" y="246.4" font-size="10" text-anchor="middle" font-family="Liberation Sans, sans-serif" fill="#222">75</text>
<text x="257.3" y="246.4" font-size="10" text-anchor="middle" font-family="Liberation Sans, sans-serif" fill="#222">100</text>
<text x="150.7" y="258" font-size="14.4" text-anchor="middle" font-family="Liberation Sans, sans-serif">Time (ms)</text>
<text transform="translate(12.5,127.4) rotate(-90)" font-size="14.6" text-anchor="middle" font-family="Liberation Sans, sans-serif">Output voltage (V)</text>
<text x="282.9" y="15.3" font-size="17.6" font-family="Liberation Sans, sans-serif">(b)</text>
<defs><pattern id="hatchA" patternUnits="userSpaceOnUse" width="2.4" height="2.4" patternTransform="rotate(-45)"><rect width="2.4" height="2.4" fill="#a0a0a0"/><rect width="1.0" height="2.4" fill="#606060"/></pattern><pattern id="hatchB" patternUnits="userSpaceOnUse" width="2.5" height="2.5" patternTransform="rotate(-45)"><rect width="2.5" height="2.5" fill="#e0e0e0"/><rect width="1.2" height="2.5" fill="#333"/></pattern><pattern id="hatchC" patternUnits="userSpaceOnUse" width="2.4" height="2.4" patternTransform="rotate(-45)"><rect width="2.4" height="2.4" fill="#909090"/><rect width="1" height="2.4" fill="#7a7a7a"/></pattern></defs>
<rect x="429.5" y="31.2" width="99.6" height="99" fill="url(#hatchA)" stroke="#000" stroke-width="1.6"/>
<rect x="403.2" y="49.9" width="99.6" height="99" fill="url(#hatchA)" stroke="#000" stroke-width="1.6"/>
<rect x="377.2" y="68" width="99.6" height="99" fill="url(#hatchB)" stroke="#000" stroke-width="1.6"/>
<rect x="351" y="86" width="99.6" height="99" fill="url(#hatchA)" stroke="#000" stroke-width="1.6"/>
<rect x="324.8" y="104.2" width="99.6" height="99" fill="url(#hatchC)" stroke="#000" stroke-width="1.6"/>
<path d="M343.4,181.5 L345.7,183.8 L343.4,186.1 L341.1,183.8 Z" fill="#000"/>
<path d="M351.5,173.2 L353.8,175.5 L351.5,177.8 L349.2,175.5 Z" fill="#000"/>
<path d="M359.7,165.1 L362,167.4 L359.7,169.7 L357.4,167.4 Z" fill="#000"/>
<path d="M520.4,17.7 L522.7,20 L520.4,22.3 L518.1,20 Z" fill="#000"/>
<path d="M528.6,9.6 L530.9,11.9 L528.6,14.2 L526.3,11.9 Z" fill="#000"/>
<path d="M536.8,1.4 L539.1,3.7 L536.8,6 L534.5,3.7 Z" fill="#000"/>
<text x="309" y="157.5" font-size="17" font-style="italic" text-anchor="middle" font-family="Liberation Serif, serif">y</text>
<text x="375.8" y="216" font-size="17" font-style="italic" text-anchor="middle" font-family="Liberation Serif, serif">x</text>
<text transform="translate(352.5,69.5) rotate(-37)" font-style="italic" font-family="Liberation Serif, serif"><tspan font-size="18.5">I</tspan><tspan font-size="10" dy="3.5"> SAI</tspan><tspan font-size="17.5" dy="-3.5" dx="1.8">(x, y; &#916;z)</tspan></text>
<line x1="529.1" y1="130.2" x2="621" y2="130.2" stroke="#8a8a8a" stroke-width="1" stroke-dasharray="4.5,3"/>
<line x1="502.8" y1="148.9" x2="598" y2="148.9" stroke="#8a8a8a" stroke-width="1" stroke-dasharray="4.5,3"/>
<line x1="476.8" y1="167" x2="581.4" y2="167" stroke="#8a8a8a" stroke-width="1" stroke-dasharray="4.5,3"/>
<line x1="450.6" y1="185" x2="553" y2="185" stroke="#8a8a8a" stroke-width="1" stroke-dasharray="4.5,3"/>
<line x1="424.4" y1="204" x2="521" y2="204" stroke="#8a8a8a" stroke-width="1" stroke-dasharray="4.5,3"/>
<line x1="497.2" y1="229.8" x2="664" y2="104.6" stroke="#000" stroke-width="1.6"/>
<path d="M668.8,101.1 l-8.5,2 l4.2,5.6 Z" fill="#000"/>
<line x1="581.4" y1="166.6" x2="581.4" y2="40" stroke="#000" stroke-width="1.5"/>
<path d="M581.4,34 l-3.6,8 l7.2,0 Z" fill="#000"/>
<text x="594.5" y="45" font-size="13" font-family="Liberation Sans, sans-serif">Intensity</text>
<text x="674.5" y="101.5" font-size="20" font-style="italic" font-family="Liberation Serif, serif">z</text>
<path d="M516.6,210 C518,208.8 522.5,205.5 525.3,202.9 C528.1,200.3 530.9,196.7 533.5,194.7 C536.1,192.7 538.5,192 540.7,190.7 C542.9,189.3 545.1,188.8 546.8,186.6 C548.5,184.4 549.4,179.6 550.9,177.4 C552.4,175.2 554.3,174.2 556,173.3 C557.7,172.4 559.7,171.6 561.1,171.8 C562.5,172 563.6,173.3 564.2,174.3 C564.9,175.3 564.9,177.4 565,178 L561.1,180.9 550.9,186 540.7,196.8 530.4,203.4 518.2,213.1 515.5,213 Z" fill="#1a1a1a" stroke="#1a1a1a" stroke-width="1.2" stroke-linejoin="round"/>
<path d="M596.1,150 C597.3,149.2 601.4,147 603.3,144.9 C605.2,142.8 605.9,139.8 607.4,137.7 C608.9,135.6 610.8,133.6 612.5,132.6 C614.2,131.6 616.1,131.6 617.6,131.6 C619.1,131.6 620.3,132.9 621.7,132.6 C623.1,132.2 624.4,131 625.8,129.5 C627.2,128 628.4,124.9 629.9,123.4 C631.4,121.9 633.3,121.1 635,120.3 C636.7,119.5 638.4,119.5 640.1,118.8 C641.8,118.1 643.5,117.6 645.2,116.2 C646.9,114.8 649,111.4 650.3,110.6 C651.6,109.8 652.4,111.1 652.8,111.2 L652.3,113.5 645.2,118.6 630.9,128.8 620.7,134.9 610.4,141.1 604.3,146.2 597.2,152.5 Z" fill="#1a1a1a" stroke="#1a1a1a" stroke-width="1.2" stroke-linejoin="round"/>
<ellipse cx="579.5" cy="53.5" rx="2.5" ry="3.1" fill="none" stroke="#1a1a1a" stroke-width="0.9" transform="rotate(-20 579.5 53.5)"/><ellipse cx="585.1" cy="53.5" rx="2.5" ry="3.1" fill="none" stroke="#1a1a1a" stroke-width="0.9" transform="rotate(20 585.1 53.5)"/><ellipse cx="579.3" cy="56.9" rx="2.5" ry="3.1" fill="none" stroke="#1a1a1a" stroke-width="0.9" transform="rotate(-20 579.3 56.9)"/><ellipse cx="585.1" cy="56.9" rx="2.5" ry="3.1" fill="none" stroke="#1a1a1a" stroke-width="0.9" transform="rotate(20 585.1 56.9)"/><ellipse cx="577.5" cy="60.3" rx="2.5" ry="3.1" fill="none" stroke="#1a1a1a" stroke-width="0.9" transform="rotate(-20 577.5 60.3)"/><ellipse cx="586.8" cy="60.3" rx="2.5" ry="3.1" fill="none" stroke="#1a1a1a" stroke-width="0.9" transform="rotate(20 586.8 60.3)"/><ellipse cx="577.9" cy="63.7" rx="2.5" ry="3.1" fill="none" stroke="#1a1a1a" stroke-width="0.9" transform="rotate(-20 577.9 63.7)"/><ellipse cx="586.2" cy="63.7" rx="2.5" ry="3.1" fill="none" stroke="#1a1a1a" stroke-width="0.9" transform="rotate(20 586.2 63.7)"/><ellipse cx="576.4" cy="67.1" rx="2.5" ry="3.1" fill="none" stroke="#1a1a1a" stroke-width="0.9" transform="rotate(-20 576.4 67.1)"/><ellipse cx="587.6" cy="67.1" rx="2.5" ry="3.1" fill="none" stroke="#1a1a1a" stroke-width="0.9" transform="rotate(20 587.6 67.1)"/><ellipse cx="576.9" cy="70.5" rx="2.5" ry="3.1" fill="none" stroke="#1a1a1a" stroke-width="0.9" transform="rotate(-20 576.9 70.5)"/><ellipse cx="587" cy="70.5" rx="2.5" ry="3.1" fill="none" stroke="#1a1a1a" stroke-width="0.9" transform="rotate(20 587 70.5)"/><ellipse cx="575.5" cy="73.9" rx="2.5" ry="3.1" fill="none" stroke="#1a1a1a" stroke-width="0.9" transform="rotate(-20 575.5 73.9)"/><ellipse cx="588.5" cy="73.9" rx="2.5" ry="3.1" fill="none" stroke="#1a1a1a" stroke-width="0.9" transform="rotate(20 588.5 73.9)"/><ellipse cx="576.1" cy="77.3" rx="2.5" ry="3.1" fill="none" stroke="#1a1a1a" stroke-width="0.9" transform="rotate(-20 576.1 77.3)"/><ellipse cx="587.9" cy="77.3" rx="2.5" ry="3.1" fill="none" stroke="#1a1a1a" stroke-width="0.9" transform="rotate(20 587.9 77.3)"/><ellipse cx="574.8" cy="80.7" rx="2.5" ry="3.1" fill="none" stroke="#1a1a1a" stroke-width="0.9" transform="rotate(-20 574.8 80.7)"/><ellipse cx="589.3" cy="80.7" rx="2.5" ry="3.1" fill="none" stroke="#1a1a1a" stroke-width="0.9" transform="rotate(20 589.3 80.7)"/><ellipse cx="575.4" cy="84.1" rx="2.5" ry="3.1" fill="none" stroke="#1a1a1a" stroke-width="0.9" transform="rotate(-20 575.4 84.1)"/><ellipse cx="588.8" cy="84.1" rx="2.5" ry="3.1" fill="none" stroke="#1a1a1a" stroke-width="0.9" transform="rotate(20 588.8 84.1)"/><ellipse cx="574" cy="87.5" rx="2.5" ry="3.1" fill="none" stroke="#1a1a1a" stroke-width="0.9" transform="rotate(-20 574 87.5)"/><ellipse cx="590.2" cy="87.5" rx="2.5" ry="3.1" fill="none" stroke="#1a1a1a" stroke-width="0.9" transform="rotate(20 590.2 87.5)"/><ellipse cx="574.7" cy="90.9" rx="2.5" ry="3.1" fill="none" stroke="#1a1a1a" stroke-width="0.9" transform="rotate(-20 574.7 90.9)"/><ellipse cx="589.6" cy="90.9" rx="2.5" ry="3.1" fill="none" stroke="#1a1a1a" stroke-width="0.9" transform="rotate(20 589.6 90.9)"/><ellipse cx="573.3" cy="94.3" rx="2.5" ry="3.1" fill="none" stroke="#1a1a1a" stroke-width="0.9" transform="rotate(-20 573.3 94.3)"/><ellipse cx="591.1" cy="94.3" rx="2.5" ry="3.1" fill="none" stroke="#1a1a1a" stroke-width="0.9" transform="rotate(20 591.1 94.3)"/><ellipse cx="574" cy="97.7" rx="2.5" ry="3.1" fill="none" stroke="#1a1a1a" stroke-width="0.9" transform="rotate(-20 574 97.7)"/><ellipse cx="590.6" cy="97.7" rx="2.5" ry="3.1" fill="none" stroke="#1a1a1a" stroke-width="0.9" transform="rotate(20 590.6 97.7)"/><ellipse cx="572.6" cy="101.1" rx="2.5" ry="3.1" fill="none" stroke="#1a1a1a" stroke-width="0.9" transform="rotate(-20 572.6 101.1)"/><ellipse cx="592.1" cy="101.1" rx="2.5" ry="3.1" fill="none" stroke="#1a1a1a" stroke-width="0.9" transform="rotate(20 592.1 101.1)"/><ellipse cx="573.3" cy="104.5" rx="2.5" ry="3.1" fill="none" stroke="#1a1a1a" stroke-width="0.9" transform="rotate(-20 573.3 104.5)"/><ellipse cx="591.6" cy="104.5" rx="2.5" ry="3.1" fill="none" stroke="#1a1a1a" stroke-width="0.9" transform="rotate(20 591.6 104.5)"/><ellipse cx="572" cy="107.9" rx="2.5" ry="3.1" fill="none" stroke="#1a1a1a" stroke-width="0.9" transform="rotate(-20 572 107.9)"/><ellipse cx="593.1" cy="107.9" rx="2.5" ry="3.1" fill="none" stroke="#1a1a1a" stroke-width="0.9" transform="rotate(20 593.1 107.9)"/><ellipse cx="572.7" cy="111.3" rx="2.5" ry="3.1" fill="none" stroke="#1a1a1a" stroke-width="0.9" transform="rotate(-20 572.7 111.3)"/><ellipse cx="592.6" cy="111.3" rx="2.5" ry="3.1" fill="none" stroke="#1a1a1a" stroke-width="0.9" transform="rotate(20 592.6 111.3)"/><ellipse cx="571.5" cy="114.7" rx="2.5" ry="3.1" fill="none" stroke="#1a1a1a" stroke-width="0.9" transform="rotate(-20 571.5 114.7)"/><ellipse cx="594.2" cy="114.7" rx="2.5" ry="3.1" fill="none" stroke="#1a1a1a" stroke-width="0.9" transform="rotate(20 594.2 114.7)"/><ellipse cx="572.2" cy="118.1" rx="2.5" ry="3.1" fill="none" stroke="#1a1a1a" stroke-width="0.9" transform="rotate(-20 572.2 118.1)"/><ellipse cx="593.9" cy="118.1" rx="2.5" ry="3.1" fill="none" stroke="#1a1a1a" stroke-width="0.9" transform="rotate(20 593.9 118.1)"/><ellipse cx="570.9" cy="121.5" rx="2.5" ry="3.1" fill="none" stroke="#1a1a1a" stroke-width="0.9" transform="rotate(-20 570.9 121.5)"/><ellipse cx="595.5" cy="121.5" rx="2.5" ry="3.1" fill="none" stroke="#1a1a1a" stroke-width="0.9" transform="rotate(20 595.5 121.5)"/><ellipse cx="571.6" cy="124.9" rx="2.5" ry="3.1" fill="none" stroke="#1a1a1a" stroke-width="0.9" transform="rotate(-20 571.6 124.9)"/><ellipse cx="595.2" cy="124.9" rx="2.5" ry="3.1" fill="none" stroke="#1a1a1a" stroke-width="0.9" transform="rotate(20 595.2 124.9)"/><ellipse cx="570.3" cy="128.3" rx="2.5" ry="3.1" fill="none" stroke="#1a1a1a" stroke-width="0.9" transform="rotate(-20 570.3 128.3)"/><ellipse cx="596.8" cy="128.3" rx="2.5" ry="3.1" fill="none" stroke="#1a1a1a" stroke-width="0.9" transform="rotate(20 596.8 128.3)"/><ellipse cx="571" cy="131.7" rx="2.5" ry="3.1" fill="none" stroke="#1a1a1a" stroke-width="0.9" transform="rotate(-20 571 131.7)"/><ellipse cx="596.8" cy="131.7" rx="2.5" ry="3.1" fill="none" stroke="#1a1a1a" stroke-width="0.9" transform="rotate(20 596.8 131.7)"/><ellipse cx="569.7" cy="135.1" rx="2.5" ry="3.1" fill="none" stroke="#1a1a1a" stroke-width="0.9" transform="rotate(-20 569.7 135.1)"/><ellipse cx="598.7" cy="135.1" rx="2.5" ry="3.1" fill="none" stroke="#1a1a1a" stroke-width="0.9" transform="rotate(20 598.7 135.1)"/><ellipse cx="570.4" cy="138.5" rx="2.5" ry="3.1" fill="none" stroke="#1a1a1a" stroke-width="0.9" transform="rotate(-20 570.4 138.5)"/><ellipse cx="598.7" cy="138.5" rx="2.5" ry="3.1" fill="none" stroke="#1a1a1a" stroke-width="0.9" transform="rotate(20 598.7 138.5)"/><ellipse cx="569.1" cy="141.9" rx="2.5" ry="3.1" fill="none" stroke="#1a1a1a" stroke-width="0.9" transform="rotate(-20 569.1 141.9)"/><ellipse cx="601.4" cy="141.9" rx="2.5" ry="3.1" fill="none" stroke="#1a1a1a" stroke-width="0.9" transform="rotate(20 601.4 141.9)"/><ellipse cx="569.7" cy="145.3" rx="2.5" ry="3.1" fill="none" stroke="#1a1a1a" stroke-width="0.9" transform="rotate(-20 569.7 145.3)"/><ellipse cx="603" cy="145.3" rx="2.5" ry="3.1" fill="none" stroke="#1a1a1a" stroke-width="0.9" transform="rotate(20 603 145.3)"/><ellipse cx="568.3" cy="148.7" rx="2.5" ry="3.1" fill="none" stroke="#1a1a1a" stroke-width="0.9" transform="rotate(-20 568.3 148.7)"/><ellipse cx="569" cy="152.1" rx="2.5" ry="3.1" fill="none" stroke="#1a1a1a" stroke-width="0.9" transform="rotate(-20 569 152.1)"/><ellipse cx="567.6" cy="155.5" rx="2.5" ry="3.1" fill="none" stroke="#1a1a1a" stroke-width="0.9" transform="rotate(-20 567.6 155.5)"/><ellipse cx="568.1" cy="158.9" rx="2.5" ry="3.1" fill="none" stroke="#1a1a1a" stroke-width="0.9" transform="rotate(-20 568.1 158.9)"/><ellipse cx="566.4" cy="162.3" rx="2.5" ry="3.1" fill="none" stroke="#1a1a1a" stroke-width="0.9" transform="rotate(-20 566.4 162.3)"/><ellipse cx="566.6" cy="165.7" rx="2.5" ry="3.1" fill="none" stroke="#1a1a1a" stroke-width="0.9" transform="rotate(-20 566.6 165.7)"/>
<path d="M518.2,210 C520.2,208.5 525.5,204.3 530,200.9 C534.5,197.5 540.4,192.9 545,189.3 C549.6,185.7 554.9,181.6 557.8,179.4 C560.7,177.2 560.9,178 562.4,176.2 C563.9,174.4 565.9,171.9 567,168.8 C568.1,165.7 568.6,162.4 569.3,157.8 C570,153.2 570.6,147 571.2,141.2 C571.8,135.4 572.3,128.9 572.8,122.8 C573.3,116.7 573.7,110.5 574.3,104.4 C574.9,98.3 575.6,91.8 576.2,86 C576.8,80.2 577.4,74.1 578,69.5 C578.6,64.9 579.1,61.4 579.8,58.4 C580.5,55.4 581.4,51.4 582.2,51.4 C583,51.4 583.7,54.2 584.4,58.4 C585.1,62.6 585.8,70.7 586.6,76.8 C587.4,82.9 588.1,89.1 589,95.2 C589.9,101.3 590.9,108.1 591.8,113.6 C592.7,119.1 593.6,124 594.6,128.3 C595.6,132.6 596.6,136.5 597.7,139.3 C598.8,142.1 599.7,144.1 601,145.2 C602.3,146.3 604.1,146.2 605.6,145.8 C607.1,145.4 607.6,144.6 610,143 C612.4,141.4 615.8,139.1 620,136 C624.2,132.9 630,128.4 635,124.5 C640,120.6 647.8,114.7 650.3,112.7" fill="none" stroke="#ee1c24" stroke-width="1.4"/>
<text x="598" y="174" font-size="12.5" text-anchor="middle" font-family="Liberation Sans, sans-serif">0</text>
<text x="621" y="156.5" font-size="12.5" text-anchor="middle" font-family="Liberation Sans, sans-serif">1</text>
<text x="643" y="138.5" font-size="12.5" text-anchor="middle" font-family="Liberation Sans, sans-serif">2</text>
<text x="573.5" y="194" font-size="12.5" text-anchor="middle" font-family="Liberation Sans, sans-serif">-1</text>
<text x="549.5" y="212.5" font-size="12.5" text-anchor="middle" font-family="Liberation Sans, sans-serif">-2</text>
<text transform="translate(532,223) rotate(-37)" font-size="12" font-family="Liberation Sans, sans-serif">...</text>
<text transform="translate(654,126) rotate(-37)" font-size="12" font-family="Liberation Sans, sans-serif">...</text>
<text transform="translate(589.5,208.5) rotate(-37)" font-size="12.8" font-family="Liberation Sans, sans-serif">&#916;z (μm)</text>
<text x="6.3" y="270.4" font-size="17.6" font-family="Liberation Sans, sans-serif">(c)</text>
<text x="188.8" y="270.6" font-size="17.6" font-family="Liberation Sans, sans-serif">(d)</text>
<defs><linearGradient id="gc0"><stop offset="0.000" stop-color="#fff74d"/><stop offset="0.050" stop-color="#fff74d"/><stop offset="0.100" stop-color="#fff74d"/><stop offset="0.150" stop-color="#fff74d"/><stop offset="0.200" stop-color="#fff643"/><stop offset="0.250" stop-color="#fff539"/><stop offset="0.300" stop-color="#fff121"/><stop offset="0.350" stop-color="#ffee0a"/><stop offset="0.400" stop-color="#fed408"/><stop offset="0.450" stop-color="#fdba07"/><stop offset="0.500" stop-color="#fcad06"/><stop offset="0.550" stop-color="#fca005"/><stop offset="0.600" stop-color="#fca605"/><stop offset="0.650" stop-color="#fcad06"/><stop offset="0.700" stop-color="#fdba07"/><stop offset="0.750" stop-color="#fec708"/><stop offset="0.800" stop-color="#fede09"/><stop offset="0.850" stop-color="#fff11e"/><stop offset="0.900" stop-color="#fff32b"/><stop offset="0.950" stop-color="#fff539"/><stop offset="1.000" stop-color="#fff539"/></linearGradient><linearGradient id="gc1"><stop offset="0.000" stop-color="#fff74d"/><stop offset="0.050" stop-color="#fff74d"/><stop offset="0.100" stop-color="#fff74d"/><stop offset="0.150" stop-color="#fff74d"/><stop offset="0.200" stop-color="#fff643"/><stop offset="0.250" stop-color="#fff539"/><stop offset="0.300" stop-color="#fff121"/><stop offset="0.350" stop-color="#ffee0a"/><stop offset="0.400" stop-color="#fed408"/><stop offset="0.450" stop-color="#fdba07"/><stop offset="0.500" stop-color="#fcad06"/><stop offset="0.550" stop-color="#fca005"/><stop offset="0.600" stop-color="#fca605"/><stop offset="0.650" stop-color="#fcad06"/><stop offset="0.700" stop-color="#fdba07"/><stop offset="0.750" stop-color="#fec708"/><stop offset="0.800" stop-color="#fede09"/><stop offset="0.850" stop-color="#fff11e"/><stop offset="0.900" stop-color="#fff32b"/><stop offset="0.950" stop-color="#fff539"/><stop offset="1.000" stop-color="#fff539"/></linearGradient><linearGradient id="gc2"><stop offset="0.000" stop-color="#fff74d"/><stop offset="0.050" stop-color="#fff74d"/><stop offset="0.100" stop-color="#fff74d"/><stop offset="0.150" stop-color="#fff74d"/><stop offset="0.200" stop-color="#fff643"/><stop offset="0.250" stop-color="#fff539"/><stop offset="0.300" stop-color="#fff121"/><stop offset="0.350" stop-color="#ffee0a"/><stop offset="0.400" stop-color="#fed408"/><stop offset="0.450" stop-color="#fdba07"/><stop offset="0.500" stop-color="#fcad06"/><stop offset="0.550" stop-color="#fca005"/><stop offset="0.600" stop-color="#fca605"/><stop offset="0.650" stop-color="#fcad06"/><stop offset="0.700" stop-color="#fdba07"/><stop offset="0.750" stop-color="#fdc707"/><stop offset="0.800" stop-color="#fede09"/><stop offset="0.850" stop-color="#fff11e"/><stop offset="0.900" stop-color="#fff32b"/><stop offset="0.950" stop-color="#fff438"/><stop offset="1.000" stop-color="#fff438"/></linearGradient><linearGradient id="gc3"><stop offset="0.000" stop-color="#fff749"/><stop offset="0.050" stop-color="#fff749"/><stop offset="0.100" stop-color="#fff747"/><stop offset="0.150" stop-color="#fff646"/><stop offset="0.200" stop-color="#fff53a"/><stop offset="0.250" stop-color="#fff32f"/><stop offset="0.300" stop-color="#ffef0f"/><stop offset="0.350" stop-color="#ffe309"/><stop offset="0.400" stop-color="#fecc08"/><stop offset="0.450" stop-color="#fdb506"/><stop offset="0.500" stop-color="#fcaa06"/><stop offset="0.550" stop-color="#fca005"/><stop offset="0.600" stop-color="#fca505"/><stop offset="0.650" stop-color="#fcaa06"/><stop offset="0.700" stop-color="#fdb606"/><stop offset="0.750" stop-color="#fdc207"/><stop offset="0.800" stop-color="#fed709"/><stop offset="0.850" stop-color="#ffec0a"/><stop offset="0.900" stop-color="#fff017"/><stop offset="0.950" stop-color="#fff228"/><stop offset="1.000" stop-color="#fff228"/></linearGradient><linearGradient id="gc4"><stop offset="0.000" stop-color="#fff645"/><stop offset="0.050" stop-color="#fff645"/><stop offset="0.100" stop-color="#fff642"/><stop offset="0.150" stop-color="#fff53f"/><stop offset="0.200" stop-color="#fff432"/><stop offset="0.250" stop-color="#fff226"/><stop offset="0.300" stop-color="#ffe90a"/><stop offset="0.350" stop-color="#fed909"/><stop offset="0.400" stop-color="#fdc407"/><stop offset="0.450" stop-color="#fdaf06"/><stop offset="0.500" stop-color="#fca805"/><stop offset="0.550" stop-color="#fca005"/><stop offset="0.600" stop-color="#fca405"/><stop offset="0.650" stop-color="#fca805"/><stop offset="0.700" stop-color="#fdb206"/><stop offset="0.750" stop-color="#fdbc07"/><stop offset="0.800" stop-color="#fed008"/><stop offset="0.850" stop-color="#ffe309"/><stop offset="0.900" stop-color="#ffeb0a"/><stop offset="0.950" stop-color="#fff018"/><stop offset="1.000" stop-color="#fff018"/></linearGradient><linearGradient id="gc5"><stop offset="0.000" stop-color="#fff641"/><stop offset="0.050" stop-color="#fff641"/><stop offset="0.100" stop-color="#fff53c"/><stop offset="0.150" stop-color="#fff438"/><stop offset="0.200" stop-color="#fff32a"/><stop offset="0.250" stop-color="#fff11c"/><stop offset="0.300" stop-color="#ffe209"/><stop offset="0.350" stop-color="#fece08"/><stop offset="0.400" stop-color="#fdbc07"/><stop offset="0.450" stop-color="#fcaa06"/><stop offset="0.500" stop-color="#fca505"/><stop offset="0.550" stop-color="#fca005"/><stop offset="0.600" stop-color="#fca305"/><stop offset="0.650" stop-color="#fca505"/><stop offset="0.700" stop-color="#fdae06"/><stop offset="0.750" stop-color="#fdb706"/><stop offset="0.800" stop-color="#fec808"/><stop offset="0.850" stop-color="#fed909"/><stop offset="0.900" stop-color="#ffe309"/><stop offset="0.950" stop-color="#ffed0a"/><stop offset="1.000" stop-color="#ffed0a"/></linearGradient><linearGradient id="gc6"><stop offset="0.000" stop-color="#fff53c"/><stop offset="0.050" stop-color="#fff53c"/><stop offset="0.100" stop-color="#fff437"/><stop offset="0.150" stop-color="#fff432"/><stop offset="0.200" stop-color="#fff122"/><stop offset="0.250" stop-color="#ffef13"/><stop offset="0.300" stop-color="#fedb09"/><stop offset="0.350" stop-color="#fdc407"/><stop offset="0.400" stop-color="#fdb406"/><stop offset="0.450" stop-color="#fca505"/><stop offset="0.500" stop-color="#fca205"/><stop offset="0.550" stop-color="#fca005"/><stop offset="0.600" stop-color="#fca105"/><stop offset="0.650" stop-color="#fca205"/><stop offset="0.700" stop-color="#fcaa06"/><stop offset="0.750" stop-color="#fdb206"/><stop offset="0.800" stop-color="#fdc107"/><stop offset="0.850" stop-color="#fed008"/><stop offset="0.900" stop-color="#fedb09"/><stop offset="0.950" stop-color="#ffe70a"/><stop offset="1.000" stop-color="#ffe70a"/></linearGradient><linearGradient id="gc7"><stop offset="0.000" stop-color="#fff438"/><stop offset="0.050" stop-color="#fff438"/><stop offset="0.100" stop-color="#fff431"/><stop offset="0.150" stop-color="#fff32b"/><stop offset="0.200" stop-color="#fff01a"/><stop offset="0.250" stop-color="#ffed0a"/><stop offset="0.300" stop-color="#fed408"/><stop offset="0.350" stop-color="#fdba07"/><stop offset="0.400" stop-color="#fcad06"/><stop offset="0.450" stop-color="#fca005"/><stop offset="0.500" stop-color="#fca005"/><stop offset="0.550" stop-color="#fca005"/><stop offset="0.600" stop-color="#fca005"/><stop offset="0.650" stop-color="#fca005"/><stop offset="0.700" stop-color="#fca605"/><stop offset="0.750" stop-color="#fcad06"/><stop offset="0.800" stop-color="#fdba07"/><stop offset="0.850" stop-color="#fdc607"/><stop offset="0.900" stop-color="#fed308"/><stop offset="0.950" stop-color="#fee009"/><stop offset="1.000" stop-color="#fee009"/></linearGradient><linearGradient id="gc8"><stop offset="0.000" stop-color="#fff32f"/><stop offset="0.050" stop-color="#fff32f"/><stop offset="0.100" stop-color="#fff226"/><stop offset="0.150" stop-color="#fff11d"/><stop offset="0.200" stop-color="#ffec0a"/><stop offset="0.250" stop-color="#ffe309"/><stop offset="0.300" stop-color="#fecc08"/><stop offset="0.350" stop-color="#fdb506"/><stop offset="0.400" stop-color="#fcaa06"/><stop offset="0.450" stop-color="#fca005"/><stop offset="0.500" stop-color="#fc9f05"/><stop offset="0.550" stop-color="#fc9d05"/><stop offset="0.600" stop-color="#fc9d05"/><stop offset="0.650" stop-color="#fc9d05"/><stop offset="0.700" stop-color="#fca105"/><stop offset="0.750" stop-color="#fca505"/><stop offset="0.800" stop-color="#fdb006"/><stop offset="0.850" stop-color="#fdbc07"/><stop offset="0.900" stop-color="#fec808"/><stop offset="0.950" stop-color="#fed308"/><stop offset="1.000" stop-color="#fed308"/></linearGradient><linearGradient id="gc9"><stop offset="0.000" stop-color="#fff225"/><stop offset="0.050" stop-color="#fff225"/><stop offset="0.100" stop-color="#fff01b"/><stop offset="0.150" stop-color="#ffef10"/><stop offset="0.200" stop-color="#ffe409"/><stop offset="0.250" stop-color="#fed909"/><stop offset="0.300" stop-color="#fdc407"/><stop offset="0.350" stop-color="#fdaf06"/><stop offset="0.400" stop-color="#fca805"/><stop offset="0.450" stop-color="#fca005"/><stop offset="0.500" stop-color="#fc9d05"/><stop offset="0.550" stop-color="#fc9b05"/><stop offset="0.600" stop-color="#fc9b05"/><stop offset="0.650" stop-color="#fc9b05"/><stop offset="0.700" stop-color="#fc9c05"/><stop offset="0.750" stop-color="#fc9d05"/><stop offset="0.800" stop-color="#fca705"/><stop offset="0.850" stop-color="#fdb206"/><stop offset="0.900" stop-color="#fdbc07"/><stop offset="0.950" stop-color="#fdc607"/><stop offset="1.000" stop-color="#fdc607"/></linearGradient><linearGradient id="gc10"><stop offset="0.000" stop-color="#fff11c"/><stop offset="0.050" stop-color="#fff11c"/><stop offset="0.100" stop-color="#ffef0f"/><stop offset="0.150" stop-color="#ffeb0a"/><stop offset="0.200" stop-color="#fedd09"/><stop offset="0.250" stop-color="#fece08"/><stop offset="0.300" stop-color="#fdbc07"/><stop offset="0.350" stop-color="#fcaa06"/><stop offset="0.400" stop-color="#fca505"/><stop offset="0.450" stop-color="#fca005"/><stop offset="0.500" stop-color="#fc9c05"/><stop offset="0.550" stop-color="#fc9804"/><stop offset="0.600" stop-color="#fc9804"/><stop offset="0.650" stop-color="#fc9804"/><stop offset="0.700" stop-color="#fc9704"/><stop offset="0.750" stop-color="#fc9504"/><stop offset="0.800" stop-color="#fc9e05"/><stop offset="0.850" stop-color="#fca705"/><stop offset="0.900" stop-color="#fdb006"/><stop offset="0.950" stop-color="#fdb907"/><stop offset="1.000" stop-color="#fdb907"/></linearGradient><linearGradient id="gc11"><stop offset="0.000" stop-color="#ffef13"/><stop offset="0.050" stop-color="#ffef13"/><stop offset="0.100" stop-color="#ffec0a"/><stop offset="0.150" stop-color="#ffe609"/><stop offset="0.200" stop-color="#fed508"/><stop offset="0.250" stop-color="#fdc407"/><stop offset="0.300" stop-color="#fdb406"/><stop offset="0.350" stop-color="#fca505"/><stop offset="0.400" stop-color="#fca205"/><stop offset="0.450" stop-color="#fca005"/><stop offset="0.500" stop-color="#fc9b05"/><stop offset="0.550" stop-color="#fc9504"/><stop offset="0.600" stop-color="#fc9504"/><stop offset="0.650" stop-color="#fc9504"/><stop offset="0.700" stop-color="#fc9104"/><stop offset="0.750" stop-color="#fb8d04"/><stop offset="0.800" stop-color="#fc9504"/><stop offset="0.850" stop-color="#fc9d05"/><stop offset="0.900" stop-color="#fca405"/><stop offset="0.950" stop-color="#fcac06"/><stop offset="1.000" stop-color="#fcac06"/></linearGradient><linearGradient id="gc12"><stop offset="0.000" stop-color="#ffed0a"/><stop offset="0.050" stop-color="#ffed0a"/><stop offset="0.100" stop-color="#ffe70a"/><stop offset="0.150" stop-color="#fee009"/><stop offset="0.200" stop-color="#fecd08"/><stop offset="0.250" stop-color="#fdba07"/><stop offset="0.300" stop-color="#fdad06"/><stop offset="0.350" stop-color="#fca005"/><stop offset="0.400" stop-color="#fca005"/><stop offset="0.450" stop-color="#fca005"/><stop offset="0.500" stop-color="#fc9a05"/><stop offset="0.550" stop-color="#fc9304"/><stop offset="0.600" stop-color="#fc9304"/><stop offset="0.650" stop-color="#fc9304"/><stop offset="0.700" stop-color="#fb8c03"/><stop offset="0.750" stop-color="#fb8503"/><stop offset="0.800" stop-color="#fb8c03"/><stop offset="0.850" stop-color="#fc9204"/><stop offset="0.900" stop-color="#fc9804"/><stop offset="0.950" stop-color="#fc9f05"/><stop offset="1.000" stop-color="#fc9f05"/></linearGradient><linearGradient id="gc13"><stop offset="0.000" stop-color="#fee009"/><stop offset="0.050" stop-color="#fee009"/><stop offset="0.100" stop-color="#fedb09"/><stop offset="0.150" stop-color="#fed608"/><stop offset="0.200" stop-color="#fec808"/><stop offset="0.250" stop-color="#fdba07"/><stop offset="0.300" stop-color="#fdb006"/><stop offset="0.350" stop-color="#fca605"/><stop offset="0.400" stop-color="#fca305"/><stop offset="0.450" stop-color="#fca005"/><stop offset="0.500" stop-color="#fc9a05"/><stop offset="0.550" stop-color="#fc9304"/><stop offset="0.600" stop-color="#fc9204"/><stop offset="0.650" stop-color="#fc9004"/><stop offset="0.700" stop-color="#fb8703"/><stop offset="0.750" stop-color="#fb7d02"/><stop offset="0.800" stop-color="#fb8103"/><stop offset="0.850" stop-color="#fb8503"/><stop offset="0.900" stop-color="#fb8b03"/><stop offset="0.950" stop-color="#fc9204"/><stop offset="1.000" stop-color="#fc9204"/></linearGradient><linearGradient id="gc14"><stop offset="0.000" stop-color="#fed308"/><stop offset="0.050" stop-color="#fed308"/><stop offset="0.100" stop-color="#fecf08"/><stop offset="0.150" stop-color="#fecb08"/><stop offset="0.200" stop-color="#fdc307"/><stop offset="0.250" stop-color="#fdba07"/><stop offset="0.300" stop-color="#fdb206"/><stop offset="0.350" stop-color="#fcab06"/><stop offset="0.400" stop-color="#fca505"/><stop offset="0.450" stop-color="#fca005"/><stop offset="0.500" stop-color="#fc9a05"/><stop offset="0.550" stop-color="#fc9304"/><stop offset="0.600" stop-color="#fc9004"/><stop offset="0.650" stop-color="#fb8e04"/><stop offset="0.700" stop-color="#fb8203"/><stop offset="0.750" stop-color="#fb7602"/><stop offset="0.800" stop-color="#fb7702"/><stop offset="0.850" stop-color="#fb7802"/><stop offset="0.900" stop-color="#fb7e02"/><stop offset="0.950" stop-color="#fb8503"/><stop offset="1.000" stop-color="#fb8503"/></linearGradient><linearGradient id="gc15"><stop offset="0.000" stop-color="#fdc607"/><stop offset="0.050" stop-color="#fdc607"/><stop offset="0.100" stop-color="#fdc307"/><stop offset="0.150" stop-color="#fdc107"/><stop offset="0.200" stop-color="#fdbd07"/><stop offset="0.250" stop-color="#fdba07"/><stop offset="0.300" stop-color="#fdb506"/><stop offset="0.350" stop-color="#fdb006"/><stop offset="0.400" stop-color="#fca806"/><stop offset="0.450" stop-color="#fca005"/><stop offset="0.500" stop-color="#fc9a05"/><stop offset="0.550" stop-color="#fc9304"/><stop offset="0.600" stop-color="#fb8f04"/><stop offset="0.650" stop-color="#fb8b03"/><stop offset="0.700" stop-color="#fb7c02"/><stop offset="0.750" stop-color="#fa6e01"/><stop offset="0.800" stop-color="#fa6c01"/><stop offset="0.850" stop-color="#fa6b01"/><stop offset="0.900" stop-color="#fb7101"/><stop offset="0.950" stop-color="#fb7802"/><stop offset="1.000" stop-color="#fb7802"/></linearGradient><linearGradient id="gc16"><stop offset="0.000" stop-color="#fdb907"/><stop offset="0.050" stop-color="#fdb907"/><stop offset="0.100" stop-color="#fdb707"/><stop offset="0.150" stop-color="#fdb606"/><stop offset="0.200" stop-color="#fdb807"/><stop offset="0.250" stop-color="#fdba07"/><stop offset="0.300" stop-color="#fdb807"/><stop offset="0.350" stop-color="#fdb506"/><stop offset="0.400" stop-color="#fcab06"/><stop offset="0.450" stop-color="#fca005"/><stop offset="0.500" stop-color="#fc9a05"/><stop offset="0.550" stop-color="#fc9304"/><stop offset="0.600" stop-color="#fb8e04"/><stop offset="0.650" stop-color="#fb8803"/><stop offset="0.700" stop-color="#fb7702"/><stop offset="0.750" stop-color="#fa6601"/><stop offset="0.800" stop-color="#fa6200"/><stop offset="0.850" stop-color="#fa5e00"/><stop offset="0.900" stop-color="#fa6400"/><stop offset="0.950" stop-color="#fa6b01"/><stop offset="1.000" stop-color="#fa6b01"/></linearGradient><linearGradient id="gc17"><stop offset="0.000" stop-color="#fdae06"/><stop offset="0.050" stop-color="#fdae06"/><stop offset="0.100" stop-color="#fdae06"/><stop offset="0.150" stop-color="#fdae06"/><stop offset="0.200" stop-color="#fdb406"/><stop offset="0.250" stop-color="#fdba07"/><stop offset="0.300" stop-color="#fdba07"/><stop offset="0.350" stop-color="#fdba07"/><stop offset="0.400" stop-color="#fcad06"/><stop offset="0.450" stop-color="#fca005"/><stop offset="0.500" stop-color="#fc9a05"/><stop offset="0.550" stop-color="#fc9304"/><stop offset="0.600" stop-color="#fb8c03"/><stop offset="0.650" stop-color="#fb8603"/><stop offset="0.700" stop-color="#fb7201"/><stop offset="0.750" stop-color="#fa5f00"/><stop offset="0.800" stop-color="#f95900"/><stop offset="0.850" stop-color="#f85400"/><stop offset="0.900" stop-color="#f95900"/><stop offset="0.950" stop-color="#fa5e00"/><stop offset="1.000" stop-color="#fa5e00"/></linearGradient><linearGradient id="gc18"><stop offset="0.000" stop-color="#fdb907"/><stop offset="0.050" stop-color="#fdb907"/><stop offset="0.100" stop-color="#fdb606"/><stop offset="0.150" stop-color="#fdb306"/><stop offset="0.200" stop-color="#fdb606"/><stop offset="0.250" stop-color="#fdba07"/><stop offset="0.300" stop-color="#fdb907"/><stop offset="0.350" stop-color="#fdb706"/><stop offset="0.400" stop-color="#fcac06"/><stop offset="0.450" stop-color="#fca005"/><stop offset="0.500" stop-color="#fc9a05"/><stop offset="0.550" stop-color="#fc9304"/><stop offset="0.600" stop-color="#fb8b03"/><stop offset="0.650" stop-color="#fb8303"/><stop offset="0.700" stop-color="#fb7001"/><stop offset="0.750" stop-color="#fa5d00"/><stop offset="0.800" stop-color="#f95600"/><stop offset="0.850" stop-color="#f84f00"/><stop offset="0.900" stop-color="#f85300"/><stop offset="0.950" stop-color="#f95800"/><stop offset="1.000" stop-color="#f95800"/></linearGradient><linearGradient id="gc19"><stop offset="0.000" stop-color="#fdc307"/><stop offset="0.050" stop-color="#fdc307"/><stop offset="0.100" stop-color="#fdbe07"/><stop offset="0.150" stop-color="#fdb807"/><stop offset="0.200" stop-color="#fdb907"/><stop offset="0.250" stop-color="#fdba07"/><stop offset="0.300" stop-color="#fdb706"/><stop offset="0.350" stop-color="#fdb406"/><stop offset="0.400" stop-color="#fcaa06"/><stop offset="0.450" stop-color="#fca005"/><stop offset="0.500" stop-color="#fc9a05"/><stop offset="0.550" stop-color="#fc9304"/><stop offset="0.600" stop-color="#fb8a03"/><stop offset="0.650" stop-color="#fb8003"/><stop offset="0.700" stop-color="#fa6d01"/><stop offset="0.750" stop-color="#f95a00"/><stop offset="0.800" stop-color="#f85300"/><stop offset="0.850" stop-color="#f74b00"/><stop offset="0.900" stop-color="#f74e00"/><stop offset="0.950" stop-color="#f85100"/><stop offset="1.000" stop-color="#f85100"/></linearGradient><linearGradient id="gc20"><stop offset="0.000" stop-color="#fece08"/><stop offset="0.050" stop-color="#fece08"/><stop offset="0.100" stop-color="#fdc507"/><stop offset="0.150" stop-color="#fdbd07"/><stop offset="0.200" stop-color="#fdbc07"/><stop offset="0.250" stop-color="#fdba07"/><stop offset="0.300" stop-color="#fdb606"/><stop offset="0.350" stop-color="#fdb206"/><stop offset="0.400" stop-color="#fca906"/><stop offset="0.450" stop-color="#fca005"/><stop offset="0.500" stop-color="#fc9a05"/><stop offset="0.550" stop-color="#fc9304"/><stop offset="0.600" stop-color="#fb8803"/><stop offset="0.650" stop-color="#fb7e02"/><stop offset="0.700" stop-color="#fa6a01"/><stop offset="0.750" stop-color="#f95800"/><stop offset="0.800" stop-color="#f84f00"/><stop offset="0.850" stop-color="#f64700"/><stop offset="0.900" stop-color="#f74900"/><stop offset="0.950" stop-color="#f74b00"/><stop offset="1.000" stop-color="#f74b00"/></linearGradient><linearGradient id="gc21"><stop offset="0.000" stop-color="#fed809"/><stop offset="0.050" stop-color="#fed809"/><stop offset="0.100" stop-color="#fecd08"/><stop offset="0.150" stop-color="#fdc307"/><stop offset="0.200" stop-color="#fdbe07"/><stop offset="0.250" stop-color="#fdba07"/><stop offset="0.300" stop-color="#fdb506"/><stop offset="0.350" stop-color="#fdaf06"/><stop offset="0.400" stop-color="#fca805"/><stop offset="0.450" stop-color="#fca005"/><stop offset="0.500" stop-color="#fc9a05"/><stop offset="0.550" stop-color="#fc9304"/><stop offset="0.600" stop-color="#fb8703"/><stop offset="0.650" stop-color="#fb7b02"/><stop offset="0.700" stop-color="#fa6801"/><stop offset="0.750" stop-color="#f95600"/><stop offset="0.800" stop-color="#f74c00"/><stop offset="0.850" stop-color="#f64200"/><stop offset="0.900" stop-color="#f64300"/><stop offset="0.950" stop-color="#f64400"/><stop offset="1.000" stop-color="#f64400"/></linearGradient><linearGradient id="gc22"><stop offset="0.000" stop-color="#ffe209"/><stop offset="0.050" stop-color="#ffe209"/><stop offset="0.100" stop-color="#fed508"/><stop offset="0.150" stop-color="#fec808"/><stop offset="0.200" stop-color="#fdc107"/><stop offset="0.250" stop-color="#fdba07"/><stop offset="0.300" stop-color="#fdb406"/><stop offset="0.350" stop-color="#fcad06"/><stop offset="0.400" stop-color="#fca605"/><stop offset="0.450" stop-color="#fc9f05"/><stop offset="0.500" stop-color="#fc9904"/><stop offset="0.550" stop-color="#fc9304"/><stop offset="0.600" stop-color="#fb8603"/><stop offset="0.650" stop-color="#fb7902"/><stop offset="0.700" stop-color="#fa6601"/><stop offset="0.750" stop-color="#f85400"/><stop offset="0.800" stop-color="#f74900"/><stop offset="0.850" stop-color="#f53e00"/><stop offset="0.900" stop-color="#f53e00"/><stop offset="0.950" stop-color="#f53e00"/><stop offset="1.000" stop-color="#f53e00"/></linearGradient><linearGradient id="gc23"><stop offset="0.000" stop-color="#ffea0a"/><stop offset="0.050" stop-color="#ffea0a"/><stop offset="0.100" stop-color="#fedd09"/><stop offset="0.150" stop-color="#fed008"/><stop offset="0.200" stop-color="#fdc707"/><stop offset="0.250" stop-color="#fdbd07"/><stop offset="0.300" stop-color="#fdb406"/><stop offset="0.350" stop-color="#fcaa06"/><stop offset="0.400" stop-color="#fca205"/><stop offset="0.450" stop-color="#fc9a05"/><stop offset="0.500" stop-color="#fc9504"/><stop offset="0.550" stop-color="#fc9004"/><stop offset="0.600" stop-color="#fb8403"/><stop offset="0.650" stop-color="#fb7902"/><stop offset="0.700" stop-color="#fa6701"/><stop offset="0.750" stop-color="#f95700"/><stop offset="0.800" stop-color="#f74b00"/><stop offset="0.850" stop-color="#f53e00"/><stop offset="0.900" stop-color="#f53d00"/><stop offset="0.950" stop-color="#f53c00"/><stop offset="1.000" stop-color="#f53c00"/></linearGradient><linearGradient id="gc24"><stop offset="0.000" stop-color="#ffef14"/><stop offset="0.050" stop-color="#ffef14"/><stop offset="0.100" stop-color="#ffe509"/><stop offset="0.150" stop-color="#fed809"/><stop offset="0.200" stop-color="#fecc08"/><stop offset="0.250" stop-color="#fdc007"/><stop offset="0.300" stop-color="#fdb406"/><stop offset="0.350" stop-color="#fca705"/><stop offset="0.400" stop-color="#fc9e05"/><stop offset="0.450" stop-color="#fc9504"/><stop offset="0.500" stop-color="#fc9104"/><stop offset="0.550" stop-color="#fb8d04"/><stop offset="0.600" stop-color="#fb8303"/><stop offset="0.650" stop-color="#fb7902"/><stop offset="0.700" stop-color="#fa6801"/><stop offset="0.750" stop-color="#f95900"/><stop offset="0.800" stop-color="#f74c00"/><stop offset="0.850" stop-color="#f53e00"/><stop offset="0.900" stop-color="#f53c00"/><stop offset="0.950" stop-color="#f43a00"/><stop offset="1.000" stop-color="#f43a00"/></linearGradient><linearGradient id="gc25"><stop offset="0.000" stop-color="#fff228"/><stop offset="0.050" stop-color="#fff228"/><stop offset="0.100" stop-color="#ffed0a"/><stop offset="0.150" stop-color="#fee009"/><stop offset="0.200" stop-color="#fed108"/><stop offset="0.250" stop-color="#fdc207"/><stop offset="0.300" stop-color="#fdb406"/><stop offset="0.350" stop-color="#fca505"/><stop offset="0.400" stop-color="#fc9a05"/><stop offset="0.450" stop-color="#fb9004"/><stop offset="0.500" stop-color="#fb8d04"/><stop offset="0.550" stop-color="#fb8b03"/><stop offset="0.600" stop-color="#fb8203"/><stop offset="0.650" stop-color="#fb7902"/><stop offset="0.700" stop-color="#fa6a01"/><stop offset="0.750" stop-color="#f95b00"/><stop offset="0.800" stop-color="#f74d00"/><stop offset="0.850" stop-color="#f53e00"/><stop offset="0.900" stop-color="#f43b00"/><stop offset="0.950" stop-color="#f43800"/><stop offset="1.000" stop-color="#f43800"/></linearGradient><linearGradient id="gc26"><stop offset="0.000" stop-color="#fff53c"/><stop offset="0.050" stop-color="#fff53c"/><stop offset="0.100" stop-color="#fff01b"/><stop offset="0.150" stop-color="#ffe80a"/><stop offset="0.200" stop-color="#fed608"/><stop offset="0.250" stop-color="#fdc507"/><stop offset="0.300" stop-color="#fdb406"/><stop offset="0.350" stop-color="#fca205"/><stop offset="0.400" stop-color="#fc9604"/><stop offset="0.450" stop-color="#fb8a03"/><stop offset="0.500" stop-color="#fb8903"/><stop offset="0.550" stop-color="#fb8803"/><stop offset="0.600" stop-color="#fb8103"/><stop offset="0.650" stop-color="#fb7902"/><stop offset="0.700" stop-color="#fa6b01"/><stop offset="0.750" stop-color="#fa5d00"/><stop offset="0.800" stop-color="#f74e00"/><stop offset="0.850" stop-color="#f53e00"/><stop offset="0.900" stop-color="#f43a00"/><stop offset="0.950" stop-color="#f43500"/><stop offset="1.000" stop-color="#f43500"/></linearGradient><linearGradient id="gc27"><stop offset="0.000" stop-color="#fff74b"/><stop offset="0.050" stop-color="#fff74b"/><stop offset="0.100" stop-color="#fff32b"/><stop offset="0.150" stop-color="#ffee0a"/><stop offset="0.200" stop-color="#feda09"/><stop offset="0.250" stop-color="#fdc707"/><stop offset="0.300" stop-color="#fdb306"/><stop offset="0.350" stop-color="#fc9f05"/><stop offset="0.400" stop-color="#fc9204"/><stop offset="0.450" stop-color="#fb8503"/><stop offset="0.500" stop-color="#fb8603"/><stop offset="0.550" stop-color="#fb8603"/><stop offset="0.600" stop-color="#fb8003"/><stop offset="0.650" stop-color="#fb7902"/><stop offset="0.700" stop-color="#fa6c01"/><stop offset="0.750" stop-color="#fa5f00"/><stop offset="0.800" stop-color="#f84f00"/><stop offset="0.850" stop-color="#f53f00"/><stop offset="0.900" stop-color="#f43a00"/><stop offset="0.950" stop-color="#f33400"/><stop offset="1.000" stop-color="#f33400"/></linearGradient><linearGradient id="gc28"><stop offset="0.000" stop-color="#fff645"/><stop offset="0.050" stop-color="#fff645"/><stop offset="0.100" stop-color="#fff227"/><stop offset="0.150" stop-color="#ffee0a"/><stop offset="0.200" stop-color="#fed909"/><stop offset="0.250" stop-color="#fdc407"/><stop offset="0.300" stop-color="#fdaf06"/><stop offset="0.350" stop-color="#fc9a05"/><stop offset="0.400" stop-color="#fb8d04"/><stop offset="0.450" stop-color="#fb8003"/><stop offset="0.500" stop-color="#fb8303"/><stop offset="0.550" stop-color="#fb8603"/><stop offset="0.600" stop-color="#fb8003"/><stop offset="0.650" stop-color="#fb7902"/><stop offset="0.700" stop-color="#fa6e01"/><stop offset="0.750" stop-color="#fa6200"/><stop offset="0.800" stop-color="#f85300"/><stop offset="0.850" stop-color="#f64400"/><stop offset="0.900" stop-color="#f53e00"/><stop offset="0.950" stop-color="#f43900"/><stop offset="1.000" stop-color="#f43900"/></linearGradient><linearGradient id="gc29"><stop offset="0.000" stop-color="#fff53e"/><stop offset="0.050" stop-color="#fff53e"/><stop offset="0.100" stop-color="#fff224"/><stop offset="0.150" stop-color="#ffee0a"/><stop offset="0.200" stop-color="#fed809"/><stop offset="0.250" stop-color="#fdc107"/><stop offset="0.300" stop-color="#fcab06"/><stop offset="0.350" stop-color="#fc9504"/><stop offset="0.400" stop-color="#fb8803"/><stop offset="0.450" stop-color="#fb7b02"/><stop offset="0.500" stop-color="#fb8003"/><stop offset="0.550" stop-color="#fb8603"/><stop offset="0.600" stop-color="#fb8003"/><stop offset="0.650" stop-color="#fb7902"/><stop offset="0.700" stop-color="#fa6f01"/><stop offset="0.750" stop-color="#fa6500"/><stop offset="0.800" stop-color="#f95600"/><stop offset="0.850" stop-color="#f64800"/><stop offset="0.900" stop-color="#f64300"/><stop offset="0.950" stop-color="#f53d00"/><stop offset="1.000" stop-color="#f53d00"/></linearGradient><linearGradient id="gc30"><stop offset="0.000" stop-color="#fff437"/><stop offset="0.050" stop-color="#fff437"/><stop offset="0.100" stop-color="#fff121"/><stop offset="0.150" stop-color="#ffee0a"/><stop offset="0.200" stop-color="#fed608"/><stop offset="0.250" stop-color="#fdbf07"/><stop offset="0.300" stop-color="#fca705"/><stop offset="0.350" stop-color="#fb8f04"/><stop offset="0.400" stop-color="#fb8203"/><stop offset="0.450" stop-color="#fb7502"/><stop offset="0.500" stop-color="#fb7e02"/><stop offset="0.550" stop-color="#fb8603"/><stop offset="0.600" stop-color="#fb8003"/><stop offset="0.650" stop-color="#fb7902"/><stop offset="0.700" stop-color="#fb7001"/><stop offset="0.750" stop-color="#fa6701"/><stop offset="0.800" stop-color="#f95900"/><stop offset="0.850" stop-color="#f74c00"/><stop offset="0.900" stop-color="#f64700"/><stop offset="0.950" stop-color="#f54200"/><stop offset="1.000" stop-color="#f54200"/></linearGradient><linearGradient id="gc31"><stop offset="0.000" stop-color="#fff331"/><stop offset="0.050" stop-color="#fff331"/><stop offset="0.100" stop-color="#fff11d"/><stop offset="0.150" stop-color="#ffee0a"/><stop offset="0.200" stop-color="#fed508"/><stop offset="0.250" stop-color="#fdbc07"/><stop offset="0.300" stop-color="#fca305"/><stop offset="0.350" stop-color="#fb8a03"/><stop offset="0.400" stop-color="#fb7d02"/><stop offset="0.450" stop-color="#fb7001"/><stop offset="0.500" stop-color="#fb7b02"/><stop offset="0.550" stop-color="#fb8603"/><stop offset="0.600" stop-color="#fb8003"/><stop offset="0.650" stop-color="#fb7902"/><stop offset="0.700" stop-color="#fb7101"/><stop offset="0.750" stop-color="#fa6a01"/><stop offset="0.800" stop-color="#fa5c00"/><stop offset="0.850" stop-color="#f85100"/><stop offset="0.900" stop-color="#f74b00"/><stop offset="0.950" stop-color="#f64600"/><stop offset="1.000" stop-color="#f64600"/></linearGradient><linearGradient id="gc32"><stop offset="0.000" stop-color="#fff228"/><stop offset="0.050" stop-color="#fff228"/><stop offset="0.100" stop-color="#fff018"/><stop offset="0.150" stop-color="#ffed0a"/><stop offset="0.200" stop-color="#fed408"/><stop offset="0.250" stop-color="#fdbb07"/><stop offset="0.300" stop-color="#fca105"/><stop offset="0.350" stop-color="#fb8803"/><stop offset="0.400" stop-color="#fb7b02"/><stop offset="0.450" stop-color="#fa6e01"/><stop offset="0.500" stop-color="#fb7a02"/><stop offset="0.550" stop-color="#fb8703"/><stop offset="0.600" stop-color="#fb8003"/><stop offset="0.650" stop-color="#fb7a02"/><stop offset="0.700" stop-color="#fb7302"/><stop offset="0.750" stop-color="#fa6d01"/><stop offset="0.800" stop-color="#fa6000"/><stop offset="0.850" stop-color="#f95600"/><stop offset="0.900" stop-color="#f85000"/><stop offset="0.950" stop-color="#f74b00"/><stop offset="1.000" stop-color="#f74b00"/></linearGradient><linearGradient id="gc33"><stop offset="0.000" stop-color="#fff01b"/><stop offset="0.050" stop-color="#fff01b"/><stop offset="0.100" stop-color="#ffee0a"/><stop offset="0.150" stop-color="#ffe80a"/><stop offset="0.200" stop-color="#fed208"/><stop offset="0.250" stop-color="#fdbd07"/><stop offset="0.300" stop-color="#fca605"/><stop offset="0.350" stop-color="#fb9004"/><stop offset="0.400" stop-color="#fb8403"/><stop offset="0.450" stop-color="#fb7902"/><stop offset="0.500" stop-color="#fb8103"/><stop offset="0.550" stop-color="#fb8903"/><stop offset="0.600" stop-color="#fb8303"/><stop offset="0.650" stop-color="#fb7c02"/><stop offset="0.700" stop-color="#fb7602"/><stop offset="0.750" stop-color="#fa6f01"/><stop offset="0.800" stop-color="#fa6500"/><stop offset="0.850" stop-color="#fa5c00"/><stop offset="0.900" stop-color="#f95800"/><stop offset="0.950" stop-color="#f85400"/><stop offset="1.000" stop-color="#f85400"/></linearGradient><linearGradient id="gc34"><stop offset="0.000" stop-color="#ffef0e"/><stop offset="0.050" stop-color="#ffef0e"/><stop offset="0.100" stop-color="#ffe90a"/><stop offset="0.150" stop-color="#ffe209"/><stop offset="0.200" stop-color="#fed108"/><stop offset="0.250" stop-color="#fdc007"/><stop offset="0.300" stop-color="#fcac06"/><stop offset="0.350" stop-color="#fc9704"/><stop offset="0.400" stop-color="#fb8d04"/><stop offset="0.450" stop-color="#fb8303"/><stop offset="0.500" stop-color="#fb8803"/><stop offset="0.550" stop-color="#fb8c03"/><stop offset="0.600" stop-color="#fb8503"/><stop offset="0.650" stop-color="#fb7f02"/><stop offset="0.700" stop-color="#fb7802"/><stop offset="0.750" stop-color="#fb7201"/><stop offset="0.800" stop-color="#fa6b01"/><stop offset="0.850" stop-color="#fa6300"/><stop offset="0.900" stop-color="#fa6000"/><stop offset="0.950" stop-color="#fa5d00"/><stop offset="1.000" stop-color="#fa5d00"/></linearGradient><linearGradient id="gc35"><stop offset="0.000" stop-color="#ffea0a"/><stop offset="0.050" stop-color="#ffea0a"/><stop offset="0.100" stop-color="#ffe409"/><stop offset="0.150" stop-color="#fedd09"/><stop offset="0.200" stop-color="#fed008"/><stop offset="0.250" stop-color="#fdc207"/><stop offset="0.300" stop-color="#fdb106"/><stop offset="0.350" stop-color="#fc9f05"/><stop offset="0.400" stop-color="#fc9604"/><stop offset="0.450" stop-color="#fb8e04"/><stop offset="0.500" stop-color="#fb8e04"/><stop offset="0.550" stop-color="#fb8e04"/><stop offset="0.600" stop-color="#fb8803"/><stop offset="0.650" stop-color="#fb8103"/><stop offset="0.700" stop-color="#fb7b02"/><stop offset="0.750" stop-color="#fb7402"/><stop offset="0.800" stop-color="#fb7001"/><stop offset="0.850" stop-color="#fa6b01"/><stop offset="0.900" stop-color="#fa6901"/><stop offset="0.950" stop-color="#fa6701"/><stop offset="1.000" stop-color="#fa6701"/></linearGradient><linearGradient id="gc36"><stop offset="0.000" stop-color="#ffe509"/><stop offset="0.050" stop-color="#ffe509"/><stop offset="0.100" stop-color="#fede09"/><stop offset="0.150" stop-color="#fed809"/><stop offset="0.200" stop-color="#fece08"/><stop offset="0.250" stop-color="#fdc507"/><stop offset="0.300" stop-color="#fdb606"/><stop offset="0.350" stop-color="#fca705"/><stop offset="0.400" stop-color="#fca005"/><stop offset="0.450" stop-color="#fc9804"/><stop offset="0.500" stop-color="#fc9504"/><stop offset="0.550" stop-color="#fc9104"/><stop offset="0.600" stop-color="#fb8b03"/><stop offset="0.650" stop-color="#fb8403"/><stop offset="0.700" stop-color="#fb7e02"/><stop offset="0.750" stop-color="#fb7702"/><stop offset="0.800" stop-color="#fb7502"/><stop offset="0.850" stop-color="#fb7302"/><stop offset="0.900" stop-color="#fb7201"/><stop offset="0.950" stop-color="#fb7101"/><stop offset="1.000" stop-color="#fb7101"/></linearGradient><linearGradient id="gc37"><stop offset="0.000" stop-color="#fee009"/><stop offset="0.050" stop-color="#fee009"/><stop offset="0.100" stop-color="#fed909"/><stop offset="0.150" stop-color="#fed308"/><stop offset="0.200" stop-color="#fecd08"/><stop offset="0.250" stop-color="#fdc607"/><stop offset="0.300" stop-color="#fdba07"/><stop offset="0.350" stop-color="#fdae06"/><stop offset="0.400" stop-color="#fca705"/><stop offset="0.450" stop-color="#fca105"/><stop offset="0.500" stop-color="#fc9a05"/><stop offset="0.550" stop-color="#fc9404"/><stop offset="0.600" stop-color="#fb8d04"/><stop offset="0.650" stop-color="#fb8703"/><stop offset="0.700" stop-color="#fb8003"/><stop offset="0.750" stop-color="#fb7a02"/><stop offset="0.800" stop-color="#fb7a02"/><stop offset="0.850" stop-color="#fb7a02"/><stop offset="0.900" stop-color="#fb7b02"/><stop offset="0.950" stop-color="#fb7b02"/><stop offset="1.000" stop-color="#fb7b02"/></linearGradient><linearGradient id="gc38"><stop offset="0.000" stop-color="#feda09"/><stop offset="0.050" stop-color="#feda09"/><stop offset="0.100" stop-color="#fed408"/><stop offset="0.150" stop-color="#fecd08"/><stop offset="0.200" stop-color="#fec908"/><stop offset="0.250" stop-color="#fdc407"/><stop offset="0.300" stop-color="#fdba07"/><stop offset="0.350" stop-color="#fdb006"/><stop offset="0.400" stop-color="#fcaa06"/><stop offset="0.450" stop-color="#fca305"/><stop offset="0.500" stop-color="#fc9d05"/><stop offset="0.550" stop-color="#fc9604"/><stop offset="0.600" stop-color="#fc9004"/><stop offset="0.650" stop-color="#fb8903"/><stop offset="0.700" stop-color="#fb8303"/><stop offset="0.750" stop-color="#fb7c02"/><stop offset="0.800" stop-color="#fb7e02"/><stop offset="0.850" stop-color="#fb8003"/><stop offset="0.900" stop-color="#fb8103"/><stop offset="0.950" stop-color="#fb8303"/><stop offset="1.000" stop-color="#fb8303"/></linearGradient><linearGradient id="gc39"><stop offset="0.000" stop-color="#fed508"/><stop offset="0.050" stop-color="#fed508"/><stop offset="0.100" stop-color="#fecf08"/><stop offset="0.150" stop-color="#fec808"/><stop offset="0.200" stop-color="#fdc507"/><stop offset="0.250" stop-color="#fdc107"/><stop offset="0.300" stop-color="#fdba07"/><stop offset="0.350" stop-color="#fdb306"/><stop offset="0.400" stop-color="#fcac06"/><stop offset="0.450" stop-color="#fca605"/><stop offset="0.500" stop-color="#fc9f05"/><stop offset="0.550" stop-color="#fc9904"/><stop offset="0.600" stop-color="#fc9204"/><stop offset="0.650" stop-color="#fb8c03"/><stop offset="0.700" stop-color="#fb8503"/><stop offset="0.750" stop-color="#fb7f02"/><stop offset="0.800" stop-color="#fb8203"/><stop offset="0.850" stop-color="#fb8503"/><stop offset="0.900" stop-color="#fb8803"/><stop offset="0.950" stop-color="#fb8b03"/><stop offset="1.000" stop-color="#fb8b03"/></linearGradient><linearGradient id="gc40"><stop offset="0.000" stop-color="#fed008"/><stop offset="0.050" stop-color="#fed008"/><stop offset="0.100" stop-color="#fec908"/><stop offset="0.150" stop-color="#fdc307"/><stop offset="0.200" stop-color="#fdc107"/><stop offset="0.250" stop-color="#fdbe07"/><stop offset="0.300" stop-color="#fdba07"/><stop offset="0.350" stop-color="#fdb606"/><stop offset="0.400" stop-color="#fdaf06"/><stop offset="0.450" stop-color="#fca906"/><stop offset="0.500" stop-color="#fca205"/><stop offset="0.550" stop-color="#fc9c05"/><stop offset="0.600" stop-color="#fc9504"/><stop offset="0.650" stop-color="#fb8f04"/><stop offset="0.700" stop-color="#fb8803"/><stop offset="0.750" stop-color="#fb8203"/><stop offset="0.800" stop-color="#fb8603"/><stop offset="0.850" stop-color="#fb8a03"/><stop offset="0.900" stop-color="#fb8e04"/><stop offset="0.950" stop-color="#fc9304"/><stop offset="1.000" stop-color="#fc9304"/></linearGradient><linearGradient id="gc41"><stop offset="0.000" stop-color="#fecb08"/><stop offset="0.050" stop-color="#fecb08"/><stop offset="0.100" stop-color="#fdc407"/><stop offset="0.150" stop-color="#fdbe07"/><stop offset="0.200" stop-color="#fdbd07"/><stop offset="0.250" stop-color="#fdbc07"/><stop offset="0.300" stop-color="#fdba07"/><stop offset="0.350" stop-color="#fdb807"/><stop offset="0.400" stop-color="#fdb206"/><stop offset="0.450" stop-color="#fcab06"/><stop offset="0.500" stop-color="#fca505"/><stop offset="0.550" stop-color="#fc9e05"/><stop offset="0.600" stop-color="#fc9804"/><stop offset="0.650" stop-color="#fc9104"/><stop offset="0.700" stop-color="#fb8b03"/><stop offset="0.750" stop-color="#fb8403"/><stop offset="0.800" stop-color="#fb8a03"/><stop offset="0.850" stop-color="#fb8f04"/><stop offset="0.900" stop-color="#fc9504"/><stop offset="0.950" stop-color="#fc9a05"/><stop offset="1.000" stop-color="#fc9a05"/></linearGradient><linearGradient id="gc42"><stop offset="0.000" stop-color="#fec808"/><stop offset="0.050" stop-color="#fec808"/><stop offset="0.100" stop-color="#fdc107"/><stop offset="0.150" stop-color="#fdbb07"/><stop offset="0.200" stop-color="#fdbb07"/><stop offset="0.250" stop-color="#fdbb07"/><stop offset="0.300" stop-color="#fdbb07"/><stop offset="0.350" stop-color="#fdbb07"/><stop offset="0.400" stop-color="#fdb506"/><stop offset="0.450" stop-color="#fdaf06"/><stop offset="0.500" stop-color="#fca906"/><stop offset="0.550" stop-color="#fca205"/><stop offset="0.600" stop-color="#fc9c05"/><stop offset="0.650" stop-color="#fc9504"/><stop offset="0.700" stop-color="#fb8e04"/><stop offset="0.750" stop-color="#fb8703"/><stop offset="0.800" stop-color="#fb8e04"/><stop offset="0.850" stop-color="#fc9404"/><stop offset="0.900" stop-color="#fc9a05"/><stop offset="0.950" stop-color="#fca105"/><stop offset="1.000" stop-color="#fca105"/></linearGradient><linearGradient id="gc43"><stop offset="0.000" stop-color="#feca08"/><stop offset="0.050" stop-color="#feca08"/><stop offset="0.100" stop-color="#fdc407"/><stop offset="0.150" stop-color="#fdbd07"/><stop offset="0.200" stop-color="#fdbd07"/><stop offset="0.250" stop-color="#fdbd07"/><stop offset="0.300" stop-color="#fdbf07"/><stop offset="0.350" stop-color="#fdc107"/><stop offset="0.400" stop-color="#fdbc07"/><stop offset="0.450" stop-color="#fdb706"/><stop offset="0.500" stop-color="#fdb106"/><stop offset="0.550" stop-color="#fcaa06"/><stop offset="0.600" stop-color="#fca405"/><stop offset="0.650" stop-color="#fc9d05"/><stop offset="0.700" stop-color="#fc9504"/><stop offset="0.750" stop-color="#fb8d04"/><stop offset="0.800" stop-color="#fc9204"/><stop offset="0.850" stop-color="#fc9604"/><stop offset="0.900" stop-color="#fc9d05"/><stop offset="0.950" stop-color="#fca305"/><stop offset="1.000" stop-color="#fca305"/></linearGradient><linearGradient id="gc44"><stop offset="0.000" stop-color="#fecd08"/><stop offset="0.050" stop-color="#fecd08"/><stop offset="0.100" stop-color="#fdc607"/><stop offset="0.150" stop-color="#fdc007"/><stop offset="0.200" stop-color="#fdc007"/><stop offset="0.250" stop-color="#fdc007"/><stop offset="0.300" stop-color="#fdc307"/><stop offset="0.350" stop-color="#fdc607"/><stop offset="0.400" stop-color="#fdc207"/><stop offset="0.450" stop-color="#fdbf07"/><stop offset="0.500" stop-color="#fdb807"/><stop offset="0.550" stop-color="#fdb206"/><stop offset="0.600" stop-color="#fcab06"/><stop offset="0.650" stop-color="#fca505"/><stop offset="0.700" stop-color="#fc9b05"/><stop offset="0.750" stop-color="#fc9204"/><stop offset="0.800" stop-color="#fc9504"/><stop offset="0.850" stop-color="#fc9904"/><stop offset="0.900" stop-color="#fc9f05"/><stop offset="0.950" stop-color="#fca605"/><stop offset="1.000" stop-color="#fca605"/></linearGradient><linearGradient id="gc45"><stop offset="0.000" stop-color="#fed008"/><stop offset="0.050" stop-color="#fed008"/><stop offset="0.100" stop-color="#fec908"/><stop offset="0.150" stop-color="#fdc307"/><stop offset="0.200" stop-color="#fdc307"/><stop offset="0.250" stop-color="#fdc307"/><stop offset="0.300" stop-color="#fdc707"/><stop offset="0.350" stop-color="#fecb08"/><stop offset="0.400" stop-color="#fec908"/><stop offset="0.450" stop-color="#fdc707"/><stop offset="0.500" stop-color="#fdc007"/><stop offset="0.550" stop-color="#fdba07"/><stop offset="0.600" stop-color="#fdb306"/><stop offset="0.650" stop-color="#fcad06"/><stop offset="0.700" stop-color="#fca205"/><stop offset="0.750" stop-color="#fc9704"/><stop offset="0.800" stop-color="#fc9904"/><stop offset="0.850" stop-color="#fc9c05"/><stop offset="0.900" stop-color="#fca205"/><stop offset="0.950" stop-color="#fca906"/><stop offset="1.000" stop-color="#fca906"/></linearGradient><linearGradient id="gc46"><stop offset="0.000" stop-color="#fed208"/><stop offset="0.050" stop-color="#fed208"/><stop offset="0.100" stop-color="#fecc08"/><stop offset="0.150" stop-color="#fdc507"/><stop offset="0.200" stop-color="#fdc507"/><stop offset="0.250" stop-color="#fdc507"/><stop offset="0.300" stop-color="#fecb08"/><stop offset="0.350" stop-color="#fed008"/><stop offset="0.400" stop-color="#fed008"/><stop offset="0.450" stop-color="#fecf08"/><stop offset="0.500" stop-color="#fec808"/><stop offset="0.550" stop-color="#fdc207"/><stop offset="0.600" stop-color="#fdbb07"/><stop offset="0.650" stop-color="#fdb506"/><stop offset="0.700" stop-color="#fca906"/><stop offset="0.750" stop-color="#fc9c05"/><stop offset="0.800" stop-color="#fc9d05"/><stop offset="0.850" stop-color="#fc9e05"/><stop offset="0.900" stop-color="#fca505"/><stop offset="0.950" stop-color="#fcab06"/><stop offset="1.000" stop-color="#fcab06"/></linearGradient><linearGradient id="gc47"><stop offset="0.000" stop-color="#fed408"/><stop offset="0.050" stop-color="#fed408"/><stop offset="0.100" stop-color="#fece08"/><stop offset="0.150" stop-color="#fec708"/><stop offset="0.200" stop-color="#fec708"/><stop offset="0.250" stop-color="#fec708"/><stop offset="0.300" stop-color="#fece08"/><stop offset="0.350" stop-color="#fed408"/><stop offset="0.400" stop-color="#fed408"/><stop offset="0.450" stop-color="#fed408"/><stop offset="0.500" stop-color="#fece08"/><stop offset="0.550" stop-color="#fec708"/><stop offset="0.600" stop-color="#fdc007"/><stop offset="0.650" stop-color="#fdba07"/><stop offset="0.700" stop-color="#fcad06"/><stop offset="0.750" stop-color="#fca005"/><stop offset="0.800" stop-color="#fca005"/><stop offset="0.850" stop-color="#fca005"/><stop offset="0.900" stop-color="#fca605"/><stop offset="0.950" stop-color="#fcad06"/><stop offset="1.000" stop-color="#fcad06"/></linearGradient><linearGradient id="gc48"><stop offset="0.000" stop-color="#fed408"/><stop offset="0.050" stop-color="#fed408"/><stop offset="0.100" stop-color="#fece08"/><stop offset="0.150" stop-color="#fec708"/><stop offset="0.200" stop-color="#fec708"/><stop offset="0.250" stop-color="#fec708"/><stop offset="0.300" stop-color="#fece08"/><stop offset="0.350" stop-color="#fed408"/><stop offset="0.400" stop-color="#fed408"/><stop offset="0.450" stop-color="#fed408"/><stop offset="0.500" stop-color="#fece08"/><stop offset="0.550" stop-color="#fec708"/><stop offset="0.600" stop-color="#fdc007"/><stop offset="0.650" stop-color="#fdba07"/><stop offset="0.700" stop-color="#fcad06"/><stop offset="0.750" stop-color="#fca005"/><stop offset="0.800" stop-color="#fca005"/><stop offset="0.850" stop-color="#fca005"/><stop offset="0.900" stop-color="#fca605"/><stop offset="0.950" stop-color="#fcad06"/><stop offset="1.000" stop-color="#fcad06"/></linearGradient><linearGradient id="gc49"><stop offset="0.000" stop-color="#fed408"/><stop offset="0.050" stop-color="#fed408"/><stop offset="0.100" stop-color="#fece08"/><stop offset="0.150" stop-color="#fec708"/><stop offset="0.200" stop-color="#fec708"/><stop offset="0.250" stop-color="#fec708"/><stop offset="0.300" stop-color="#fece08"/><stop offset="0.350" stop-color="#fed408"/><stop offset="0.400" stop-color="#fed408"/><stop offset="0.450" stop-color="#fed408"/><stop offset="0.500" stop-color="#fece08"/><stop offset="0.550" stop-color="#fec708"/><stop offset="0.600" stop-color="#fdc007"/><stop offset="0.650" stop-color="#fdba07"/><stop offset="0.700" stop-color="#fcad06"/><stop offset="0.750" stop-color="#fca005"/><stop offset="0.800" stop-color="#fca005"/><stop offset="0.850" stop-color="#fca005"/><stop offset="0.900" stop-color="#fca605"/><stop offset="0.950" stop-color="#fcad06"/><stop offset="1.000" stop-color="#fcad06"/></linearGradient></defs><g shape-rendering="crispEdges"><rect x="34" y="286" width="149" height="4" fill="url(#gc0)"/><rect x="34" y="289" width="149" height="4" fill="url(#gc1)"/><rect x="34" y="292" width="149" height="4" fill="url(#gc2)"/><rect x="34" y="295" width="149" height="4" fill="url(#gc3)"/><rect x="34" y="298" width="149" height="4" fill="url(#gc4)"/><rect x="34" y="301" width="149" height="4" fill="url(#gc5)"/><rect x="34" y="304" width="149" height="4" fill="url(#gc6)"/><rect x="34" y="307" width="149" height="4" fill="url(#gc7)"/><rect x="34" y="310" width="149" height="4" fill="url(#gc8)"/><rect x="34" y="313" width="149" height="4" fill="url(#gc9)"/><rect x="34" y="316" width="149" height="4" fill="url(#gc10)"/><rect x="34" y="319" width="149" height="4" fill="url(#gc11)"/><rect x="34" y="322" width="149" height="4" fill="url(#gc12)"/><rect x="34" y="325" width="149" height="4" fill="url(#gc13)"/><rect x="34" y="328" width="149" height="4" fill="url(#gc14)"/><rect x="34" y="331" width="149" height="4" fill="url(#gc15)"/><rect x="34" y="334" width="149" height="4" fill="url(#gc16)"/><rect x="34" y="337" width="149" height="4" fill="url(#gc17)"/><rect x="34" y="340" width="149" height="4" fill="url(#gc18)"/><rect x="34" y="343" width="149" height="4" fill="url(#gc19)"/><rect x="34" y="346" width="149" height="4" fill="url(#gc20)"/><rect x="34" y="349" width="149" height="4" fill="url(#gc21)"/><rect x="34" y="352" width="149" height="4" fill="url(#gc22)"/><rect x="34" y="355" width="149" height="4" fill="url(#gc23)"/><rect x="34" y="358" width="149" height="4" fill="url(#gc24)"/><rect x="34" y="361" width="149" height="4" fill="url(#gc25)"/><rect x="34" y="364" width="149" height="4" fill="url(#gc26)"/><rect x="34" y="367" width="149" height="4" fill="url(#gc27)"/><rect x="34" y="370" width="149" height="4" fill="url(#gc28)"/><rect x="34" y="373" width="149" height="4" fill="url(#gc29)"/><rect x="34" y="376" width="149" height="4" fill="url(#gc30)"/><rect x="34" y="379" width="149" height="4" fill="url(#gc31)"/><rect x="34" y="382" width="149" height="4" fill="url(#gc32)"/><rect x="34" y="385" width="149" height="4" fill="url(#gc33)"/><rect x="34" y="388" width="149" height="4" fill="url(#gc34)"/><rect x="34" y="391" width="149" height="4" fill="url(#gc35)"/><rect x="34" y="394" width="149" height="4" fill="url(#gc36)"/><rect x="34" y="397" width="149" height="4" fill="url(#gc37)"/><rect x="34" y="400" width="149" height="4" fill="url(#gc38)"/><rect x="34" y="403" width="149" height="4" fill="url(#gc39)"/><rect x="34" y="406" width="149" height="4" fill="url(#gc40)"/><rect x="34" y="409" width="149" height="4" fill="url(#gc41)"/><rect x="34" y="412" width="149" height="4" fill="url(#gc42)"/><rect x="34" y="415" width="149" height="4" fill="url(#gc43)"/><rect x="34" y="418" width="149" height="4" fill="url(#gc44)"/><rect x="34" y="421" width="149" height="4" fill="url(#gc45)"/><rect x="34" y="424" width="149" height="4" fill="url(#gc46)"/><rect x="34" y="427" width="149" height="4" fill="url(#gc47)"/><rect x="34" y="430" width="149" height="4" fill="url(#gc48)"/><rect x="34" y="433" width="149" height="2" fill="url(#gc49)"/></g>
<defs><linearGradient id="gd0"><stop offset="0.000" stop-color="#dc0b00"/><stop offset="0.050" stop-color="#dc0b00"/><stop offset="0.100" stop-color="#dc0b00"/><stop offset="0.150" stop-color="#dc0b00"/><stop offset="0.200" stop-color="#d80a00"/><stop offset="0.250" stop-color="#d40800"/><stop offset="0.300" stop-color="#cc0600"/><stop offset="0.350" stop-color="#c40300"/><stop offset="0.400" stop-color="#bc0000"/><stop offset="0.450" stop-color="#b30000"/><stop offset="0.500" stop-color="#b30000"/><stop offset="0.550" stop-color="#b30000"/><stop offset="0.600" stop-color="#b80000"/><stop offset="0.650" stop-color="#bc0000"/><stop offset="0.700" stop-color="#c40300"/><stop offset="0.750" stop-color="#cc0600"/><stop offset="0.800" stop-color="#d40800"/><stop offset="0.850" stop-color="#dc0b00"/><stop offset="0.900" stop-color="#e71400"/><stop offset="0.950" stop-color="#ee1f00"/><stop offset="1.000" stop-color="#ee1f00"/></linearGradient><linearGradient id="gd1"><stop offset="0.000" stop-color="#dc0b00"/><stop offset="0.050" stop-color="#dc0b00"/><stop offset="0.100" stop-color="#dc0b00"/><stop offset="0.150" stop-color="#dc0b00"/><stop offset="0.200" stop-color="#d80a00"/><stop offset="0.250" stop-color="#d40800"/><stop offset="0.300" stop-color="#cc0600"/><stop offset="0.350" stop-color="#c40300"/><stop offset="0.400" stop-color="#bc0000"/><stop offset="0.450" stop-color="#b30000"/><stop offset="0.500" stop-color="#b30000"/><stop offset="0.550" stop-color="#b30000"/><stop offset="0.600" stop-color="#b80000"/><stop offset="0.650" stop-color="#bc0000"/><stop offset="0.700" stop-color="#c40300"/><stop offset="0.750" stop-color="#cc0600"/><stop offset="0.800" stop-color="#d40800"/><stop offset="0.850" stop-color="#dc0b00"/><stop offset="0.900" stop-color="#e71400"/><stop offset="0.950" stop-color="#ee1f00"/><stop offset="1.000" stop-color="#ee1f00"/></linearGradient><linearGradient id="gd2"><stop offset="0.000" stop-color="#dc0b00"/><stop offset="0.050" stop-color="#dc0b00"/><stop offset="0.100" stop-color="#dc0b00"/><stop offset="0.150" stop-color="#dc0b00"/><stop offset="0.200" stop-color="#d80a00"/><stop offset="0.250" stop-color="#d40800"/><stop offset="0.300" stop-color="#cc0600"/><stop offset="0.350" stop-color="#c40300"/><stop offset="0.400" stop-color="#bc0000"/><stop offset="0.450" stop-color="#b30000"/><stop offset="0.500" stop-color="#b30000"/><stop offset="0.550" stop-color="#b30000"/><stop offset="0.600" stop-color="#b80000"/><stop offset="0.650" stop-color="#bc0000"/><stop offset="0.700" stop-color="#c40300"/><stop offset="0.750" stop-color="#cc0600"/><stop offset="0.800" stop-color="#d40800"/><stop offset="0.850" stop-color="#dc0b00"/><stop offset="0.900" stop-color="#e71400"/><stop offset="0.950" stop-color="#ee1f00"/><stop offset="1.000" stop-color="#ee1f00"/></linearGradient><linearGradient id="gd3"><stop offset="0.000" stop-color="#d90a00"/><stop offset="0.050" stop-color="#d90a00"/><stop offset="0.100" stop-color="#d80a00"/><stop offset="0.150" stop-color="#d70900"/><stop offset="0.200" stop-color="#d30800"/><stop offset="0.250" stop-color="#cf0700"/><stop offset="0.300" stop-color="#c80400"/><stop offset="0.350" stop-color="#c10200"/><stop offset="0.400" stop-color="#b90000"/><stop offset="0.450" stop-color="#b20000"/><stop offset="0.500" stop-color="#b20000"/><stop offset="0.550" stop-color="#b20000"/><stop offset="0.600" stop-color="#b60000"/><stop offset="0.650" stop-color="#ba0000"/><stop offset="0.700" stop-color="#c20200"/><stop offset="0.750" stop-color="#c90400"/><stop offset="0.800" stop-color="#d00700"/><stop offset="0.850" stop-color="#d70900"/><stop offset="0.900" stop-color="#e51000"/><stop offset="0.950" stop-color="#eb1a00"/><stop offset="1.000" stop-color="#eb1a00"/></linearGradient><linearGradient id="gd4"><stop offset="0.000" stop-color="#d60900"/><stop offset="0.050" stop-color="#d60900"/><stop offset="0.100" stop-color="#d40800"/><stop offset="0.150" stop-color="#d20800"/><stop offset="0.200" stop-color="#ce0600"/><stop offset="0.250" stop-color="#ca0500"/><stop offset="0.300" stop-color="#c40300"/><stop offset="0.350" stop-color="#be0100"/><stop offset="0.400" stop-color="#b70000"/><stop offset="0.450" stop-color="#b00000"/><stop offset="0.500" stop-color="#b00000"/><stop offset="0.550" stop-color="#b00000"/><stop offset="0.600" stop-color="#b40000"/><stop offset="0.650" stop-color="#b90000"/><stop offset="0.700" stop-color="#bf0100"/><stop offset="0.750" stop-color="#c60300"/><stop offset="0.800" stop-color="#cc0600"/><stop offset="0.850" stop-color="#d20800"/><stop offset="0.900" stop-color="#e10d00"/><stop offset="0.950" stop-color="#e91600"/><stop offset="1.000" stop-color="#e91600"/></linearGradient><linearGradient id="gd5"><stop offset="0.000" stop-color="#d20800"/><stop offset="0.050" stop-color="#d20800"/><stop offset="0.100" stop-color="#d00700"/><stop offset="0.150" stop-color="#cd0600"/><stop offset="0.200" stop-color="#c90500"/><stop offset="0.250" stop-color="#c50300"/><stop offset="0.300" stop-color="#c00100"/><stop offset="0.350" stop-color="#ba0000"/><stop offset="0.400" stop-color="#b40000"/><stop offset="0.450" stop-color="#ae0000"/><stop offset="0.500" stop-color="#ae0000"/><stop offset="0.550" stop-color="#ae0000"/><stop offset="0.600" stop-color="#b20000"/><stop offset="0.650" stop-color="#b70000"/><stop offset="0.700" stop-color="#bd0000"/><stop offset="0.750" stop-color="#c20200"/><stop offset="0.800" stop-color="#c80400"/><stop offset="0.850" stop-color="#cd0600"/><stop offset="0.900" stop-color="#db0b00"/><stop offset="0.950" stop-color="#e61100"/><stop offset="1.000" stop-color="#e61100"/></linearGradient><linearGradient id="gd6"><stop offset="0.000" stop-color="#cf0700"/><stop offset="0.050" stop-color="#cf0700"/><stop offset="0.100" stop-color="#cc0600"/><stop offset="0.150" stop-color="#c90400"/><stop offset="0.200" stop-color="#c50300"/><stop offset="0.250" stop-color="#c10200"/><stop offset="0.300" stop-color="#bc0000"/><stop offset="0.350" stop-color="#b70000"/><stop offset="0.400" stop-color="#b20000"/><stop offset="0.450" stop-color="#ac0000"/><stop offset="0.500" stop-color="#ac0000"/><stop offset="0.550" stop-color="#ac0000"/><stop offset="0.600" stop-color="#b10000"/><stop offset="0.650" stop-color="#b50000"/><stop offset="0.700" stop-color="#ba0000"/><stop offset="0.750" stop-color="#bf0100"/><stop offset="0.800" stop-color="#c40300"/><stop offset="0.850" stop-color="#c90400"/><stop offset="0.900" stop-color="#d50900"/><stop offset="0.950" stop-color="#e20d00"/><stop offset="1.000" stop-color="#e20d00"/></linearGradient><linearGradient id="gd7"><stop offset="0.000" stop-color="#cc0600"/><stop offset="0.050" stop-color="#cc0600"/><stop offset="0.100" stop-color="#c80400"/><stop offset="0.150" stop-color="#c40300"/><stop offset="0.200" stop-color="#c00100"/><stop offset="0.250" stop-color="#bc0000"/><stop offset="0.300" stop-color="#b80000"/><stop offset="0.350" stop-color="#b30000"/><stop offset="0.400" stop-color="#af0000"/><stop offset="0.450" stop-color="#ab0000"/><stop offset="0.500" stop-color="#ab0000"/><stop offset="0.550" stop-color="#ab0000"/><stop offset="0.600" stop-color="#af0000"/><stop offset="0.650" stop-color="#b30000"/><stop offset="0.700" stop-color="#b70000"/><stop offset="0.750" stop-color="#bc0000"/><stop offset="0.800" stop-color="#c00100"/><stop offset="0.850" stop-color="#c40300"/><stop offset="0.900" stop-color="#d00700"/><stop offset="0.950" stop-color="#dc0b00"/><stop offset="1.000" stop-color="#dc0b00"/></linearGradient><linearGradient id="gd8"><stop offset="0.000" stop-color="#c70400"/><stop offset="0.050" stop-color="#c70400"/><stop offset="0.100" stop-color="#c30200"/><stop offset="0.150" stop-color="#bf0100"/><stop offset="0.200" stop-color="#bd0000"/><stop offset="0.250" stop-color="#ba0000"/><stop offset="0.300" stop-color="#b80000"/><stop offset="0.350" stop-color="#b50000"/><stop offset="0.400" stop-color="#b10000"/><stop offset="0.450" stop-color="#ad0000"/><stop offset="0.500" stop-color="#ac0000"/><stop offset="0.550" stop-color="#ab0000"/><stop offset="0.600" stop-color="#ad0000"/><stop offset="0.650" stop-color="#b00000"/><stop offset="0.700" stop-color="#b20000"/><stop offset="0.750" stop-color="#b50000"/><stop offset="0.800" stop-color="#b80000"/><stop offset="0.850" stop-color="#bc0000"/><stop offset="0.900" stop-color="#c70400"/><stop offset="0.950" stop-color="#d20800"/><stop offset="1.000" stop-color="#d20800"/></linearGradient><linearGradient id="gd9"><stop offset="0.000" stop-color="#c20200"/><stop offset="0.050" stop-color="#c20200"/><stop offset="0.100" stop-color="#be0100"/><stop offset="0.150" stop-color="#ba0000"/><stop offset="0.200" stop-color="#b90000"/><stop offset="0.250" stop-color="#b80000"/><stop offset="0.300" stop-color="#b80000"/><stop offset="0.350" stop-color="#b70000"/><stop offset="0.400" stop-color="#b30000"/><stop offset="0.450" stop-color="#ae0000"/><stop offset="0.500" stop-color="#ad0000"/><stop offset="0.550" stop-color="#ab0000"/><stop offset="0.600" stop-color="#ac0000"/><stop offset="0.650" stop-color="#ac0000"/><stop offset="0.700" stop-color="#ad0000"/><stop offset="0.750" stop-color="#ae0000"/><stop offset="0.800" stop-color="#b00000"/><stop offset="0.850" stop-color="#b30000"/><stop offset="0.900" stop-color="#be0100"/><stop offset="0.950" stop-color="#c80400"/><stop offset="1.000" stop-color="#c80400"/></linearGradient><linearGradient id="gd10"><stop offset="0.000" stop-color="#bd0000"/><stop offset="0.050" stop-color="#bd0000"/><stop offset="0.100" stop-color="#b90000"/><stop offset="0.150" stop-color="#b50000"/><stop offset="0.200" stop-color="#b60000"/><stop offset="0.250" stop-color="#b70000"/><stop offset="0.300" stop-color="#b80000"/><stop offset="0.350" stop-color="#b90000"/><stop offset="0.400" stop-color="#b40000"/><stop offset="0.450" stop-color="#b00000"/><stop offset="0.500" stop-color="#ad0000"/><stop offset="0.550" stop-color="#ab0000"/><stop offset="0.600" stop-color="#aa0000"/><stop offset="0.650" stop-color="#a90000"/><stop offset="0.700" stop-color="#a80000"/><stop offset="0.750" stop-color="#a70000"/><stop offset="0.800" stop-color="#a90000"/><stop offset="0.850" stop-color="#aa0000"/><stop offset="0.900" stop-color="#b40000"/><stop offset="0.950" stop-color="#bf0100"/><stop offset="1.000" stop-color="#bf0100"/></linearGradient><linearGradient id="gd11"><stop offset="0.000" stop-color="#b80000"/><stop offset="0.050" stop-color="#b80000"/><stop offset="0.100" stop-color="#b40000"/><stop offset="0.150" stop-color="#b00000"/><stop offset="0.200" stop-color="#b20000"/><stop offset="0.250" stop-color="#b50000"/><stop offset="0.300" stop-color="#b80000"/><stop offset="0.350" stop-color="#ba0000"/><stop offset="0.400" stop-color="#b60000"/><stop offset="0.450" stop-color="#b20000"/><stop offset="0.500" stop-color="#ae0000"/><stop offset="0.550" stop-color="#ab0000"/><stop offset="0.600" stop-color="#a80000"/><stop offset="0.650" stop-color="#a50000"/><stop offset="0.700" stop-color="#a30000"/><stop offset="0.750" stop-color="#a00000"/><stop offset="0.800" stop-color="#a10000"/><stop offset="0.850" stop-color="#a20000"/><stop offset="0.900" stop-color="#ab0000"/><stop offset="0.950" stop-color="#b40000"/><stop offset="1.000" stop-color="#b40000"/></linearGradient><linearGradient id="gd12"><stop offset="0.000" stop-color="#b40000"/><stop offset="0.050" stop-color="#b40000"/><stop offset="0.100" stop-color="#af0000"/><stop offset="0.150" stop-color="#ab0000"/><stop offset="0.200" stop-color="#af0000"/><stop offset="0.250" stop-color="#b40000"/><stop offset="0.300" stop-color="#b80000"/><stop offset="0.350" stop-color="#bc0000"/><stop offset="0.400" stop-color="#b80000"/><stop offset="0.450" stop-color="#b40000"/><stop offset="0.500" stop-color="#af0000"/><stop offset="0.550" stop-color="#ab0000"/><stop offset="0.600" stop-color="#a60000"/><stop offset="0.650" stop-color="#a20000"/><stop offset="0.700" stop-color="#9e0000"/><stop offset="0.750" stop-color="#990000"/><stop offset="0.800" stop-color="#990000"/><stop offset="0.850" stop-color="#990000"/><stop offset="0.900" stop-color="#a20000"/><stop offset="0.950" stop-color="#aa0000"/><stop offset="1.000" stop-color="#aa0000"/></linearGradient><linearGradient id="gd13"><stop offset="0.000" stop-color="#b50000"/><stop offset="0.050" stop-color="#b50000"/><stop offset="0.100" stop-color="#b20000"/><stop offset="0.150" stop-color="#af0000"/><stop offset="0.200" stop-color="#b30000"/><stop offset="0.250" stop-color="#b70000"/><stop offset="0.300" stop-color="#bb0000"/><stop offset="0.350" stop-color="#be0100"/><stop offset="0.400" stop-color="#ba0000"/><stop offset="0.450" stop-color="#b50000"/><stop offset="0.500" stop-color="#b00000"/><stop offset="0.550" stop-color="#ab0000"/><stop offset="0.600" stop-color="#a50000"/><stop offset="0.650" stop-color="#9e0000"/><stop offset="0.700" stop-color="#990000"/><stop offset="0.750" stop-color="#940000"/><stop offset="0.800" stop-color="#940000"/><stop offset="0.850" stop-color="#940000"/><stop offset="0.900" stop-color="#9d0000"/><stop offset="0.950" stop-color="#a50000"/><stop offset="1.000" stop-color="#a50000"/></linearGradient><linearGradient id="gd14"><stop offset="0.000" stop-color="#b70000"/><stop offset="0.050" stop-color="#b70000"/><stop offset="0.100" stop-color="#b50000"/><stop offset="0.150" stop-color="#b20000"/><stop offset="0.200" stop-color="#b60000"/><stop offset="0.250" stop-color="#bb0000"/><stop offset="0.300" stop-color="#bd0000"/><stop offset="0.350" stop-color="#bf0100"/><stop offset="0.400" stop-color="#bb0000"/><stop offset="0.450" stop-color="#b70000"/><stop offset="0.500" stop-color="#b10000"/><stop offset="0.550" stop-color="#ab0000"/><stop offset="0.600" stop-color="#a30000"/><stop offset="0.650" stop-color="#9b0000"/><stop offset="0.700" stop-color="#950000"/><stop offset="0.750" stop-color="#8f0000"/><stop offset="0.800" stop-color="#8f0000"/><stop offset="0.850" stop-color="#8f0000"/><stop offset="0.900" stop-color="#970000"/><stop offset="0.950" stop-color="#a00000"/><stop offset="1.000" stop-color="#a00000"/></linearGradient><linearGradient id="gd15"><stop offset="0.000" stop-color="#b90000"/><stop offset="0.050" stop-color="#b90000"/><stop offset="0.100" stop-color="#b70000"/><stop offset="0.150" stop-color="#b50000"/><stop offset="0.200" stop-color="#ba0000"/><stop offset="0.250" stop-color="#be0100"/><stop offset="0.300" stop-color="#bf0100"/><stop offset="0.350" stop-color="#c10200"/><stop offset="0.400" stop-color="#bd0000"/><stop offset="0.450" stop-color="#b90000"/><stop offset="0.500" stop-color="#b20000"/><stop offset="0.550" stop-color="#ab0000"/><stop offset="0.600" stop-color="#a10000"/><stop offset="0.650" stop-color="#980000"/><stop offset="0.700" stop-color="#910000"/><stop offset="0.750" stop-color="#8a0000"/><stop offset="0.800" stop-color="#8a0000"/><stop offset="0.850" stop-color="#8a0000"/><stop offset="0.900" stop-color="#920000"/><stop offset="0.950" stop-color="#9b0000"/><stop offset="1.000" stop-color="#9b0000"/></linearGradient><linearGradient id="gd16"><stop offset="0.000" stop-color="#ba0000"/><stop offset="0.050" stop-color="#ba0000"/><stop offset="0.100" stop-color="#ba0000"/><stop offset="0.150" stop-color="#b90000"/><stop offset="0.200" stop-color="#bd0000"/><stop offset="0.250" stop-color="#c10200"/><stop offset="0.300" stop-color="#c20200"/><stop offset="0.350" stop-color="#c30200"/><stop offset="0.400" stop-color="#bf0100"/><stop offset="0.450" stop-color="#ba0000"/><stop offset="0.500" stop-color="#b30000"/><stop offset="0.550" stop-color="#ab0000"/><stop offset="0.600" stop-color="#9f0000"/><stop offset="0.650" stop-color="#940000"/><stop offset="0.700" stop-color="#8d0000"/><stop offset="0.750" stop-color="#850000"/><stop offset="0.800" stop-color="#850000"/><stop offset="0.850" stop-color="#850000"/><stop offset="0.900" stop-color="#8d0000"/><stop offset="0.950" stop-color="#960000"/><stop offset="1.000" stop-color="#960000"/></linearGradient><linearGradient id="gd17"><stop offset="0.000" stop-color="#bd0000"/><stop offset="0.050" stop-color="#bd0000"/><stop offset="0.100" stop-color="#bd0000"/><stop offset="0.150" stop-color="#bd0000"/><stop offset="0.200" stop-color="#c00200"/><stop offset="0.250" stop-color="#c40300"/><stop offset="0.300" stop-color="#c40300"/><stop offset="0.350" stop-color="#c40300"/><stop offset="0.400" stop-color="#c00100"/><stop offset="0.450" stop-color="#bc0000"/><stop offset="0.500" stop-color="#b30000"/><stop offset="0.550" stop-color="#ab0000"/><stop offset="0.600" stop-color="#9e0000"/><stop offset="0.650" stop-color="#910000"/><stop offset="0.700" stop-color="#890000"/><stop offset="0.750" stop-color="#810000"/><stop offset="0.800" stop-color="#810000"/><stop offset="0.850" stop-color="#810000"/><stop offset="0.900" stop-color="#890000"/><stop offset="0.950" stop-color="#910000"/><stop offset="1.000" stop-color="#910000"/></linearGradient><linearGradient id="gd18"><stop offset="0.000" stop-color="#c10200"/><stop offset="0.050" stop-color="#c10200"/><stop offset="0.100" stop-color="#c10200"/><stop offset="0.150" stop-color="#c10200"/><stop offset="0.200" stop-color="#c40300"/><stop offset="0.250" stop-color="#c60300"/><stop offset="0.300" stop-color="#c50300"/><stop offset="0.350" stop-color="#c40300"/><stop offset="0.400" stop-color="#c00100"/><stop offset="0.450" stop-color="#bc0000"/><stop offset="0.500" stop-color="#b30000"/><stop offset="0.550" stop-color="#ab0000"/><stop offset="0.600" stop-color="#9f0000"/><stop offset="0.650" stop-color="#930000"/><stop offset="0.700" stop-color="#8a0000"/><stop offset="0.750" stop-color="#810000"/><stop offset="0.800" stop-color="#800000"/><stop offset="0.850" stop-color="#7f0000"/><stop offset="0.900" stop-color="#870000"/><stop offset="0.950" stop-color="#8f0000"/><stop offset="1.000" stop-color="#8f0000"/></linearGradient><linearGradient id="gd19"><stop offset="0.000" stop-color="#c60400"/><stop offset="0.050" stop-color="#c60400"/><stop offset="0.100" stop-color="#c60400"/><stop offset="0.150" stop-color="#c60400"/><stop offset="0.200" stop-color="#c70400"/><stop offset="0.250" stop-color="#c70400"/><stop offset="0.300" stop-color="#c60300"/><stop offset="0.350" stop-color="#c40300"/><stop offset="0.400" stop-color="#c00100"/><stop offset="0.450" stop-color="#bc0000"/><stop offset="0.500" stop-color="#b30000"/><stop offset="0.550" stop-color="#ab0000"/><stop offset="0.600" stop-color="#a00000"/><stop offset="0.650" stop-color="#950000"/><stop offset="0.700" stop-color="#8b0000"/><stop offset="0.750" stop-color="#810000"/><stop offset="0.800" stop-color="#7f0000"/><stop offset="0.850" stop-color="#7e0000"/><stop offset="0.900" stop-color="#860000"/><stop offset="0.950" stop-color="#8e0000"/><stop offset="1.000" stop-color="#8e0000"/></linearGradient><linearGradient id="gd20"><stop offset="0.000" stop-color="#cb0500"/><stop offset="0.050" stop-color="#cb0500"/><stop offset="0.100" stop-color="#cb0500"/><stop offset="0.150" stop-color="#cb0500"/><stop offset="0.200" stop-color="#ca0500"/><stop offset="0.250" stop-color="#c90500"/><stop offset="0.300" stop-color="#c70400"/><stop offset="0.350" stop-color="#c40300"/><stop offset="0.400" stop-color="#c00100"/><stop offset="0.450" stop-color="#bc0000"/><stop offset="0.500" stop-color="#b30000"/><stop offset="0.550" stop-color="#ab0000"/><stop offset="0.600" stop-color="#a10000"/><stop offset="0.650" stop-color="#960000"/><stop offset="0.700" stop-color="#8c0000"/><stop offset="0.750" stop-color="#810000"/><stop offset="0.800" stop-color="#7e0000"/><stop offset="0.850" stop-color="#7c0000"/><stop offset="0.900" stop-color="#840000"/><stop offset="0.950" stop-color="#8c0000"/><stop offset="1.000" stop-color="#8c0000"/></linearGradient><linearGradient id="gd21"><stop offset="0.000" stop-color="#d00700"/><stop offset="0.050" stop-color="#d00700"/><stop offset="0.100" stop-color="#d00700"/><stop offset="0.150" stop-color="#d00700"/><stop offset="0.200" stop-color="#cd0600"/><stop offset="0.250" stop-color="#cb0500"/><stop offset="0.300" stop-color="#c70400"/><stop offset="0.350" stop-color="#c40300"/><stop offset="0.400" stop-color="#c00100"/><stop offset="0.450" stop-color="#bc0000"/><stop offset="0.500" stop-color="#b30000"/><stop offset="0.550" stop-color="#ab0000"/><stop offset="0.600" stop-color="#a10000"/><stop offset="0.650" stop-color="#980000"/><stop offset="0.700" stop-color="#8c0000"/><stop offset="0.750" stop-color="#810000"/><stop offset="0.800" stop-color="#7e0000"/><stop offset="0.850" stop-color="#7a0000"/><stop offset="0.900" stop-color="#820000"/><stop offset="0.950" stop-color="#8a0000"/><stop offset="1.000" stop-color="#8a0000"/></linearGradient><linearGradient id="gd22"><stop offset="0.000" stop-color="#d40900"/><stop offset="0.050" stop-color="#d40900"/><stop offset="0.100" stop-color="#d40900"/><stop offset="0.150" stop-color="#d40800"/><stop offset="0.200" stop-color="#d00700"/><stop offset="0.250" stop-color="#cc0600"/><stop offset="0.300" stop-color="#c80400"/><stop offset="0.350" stop-color="#c40300"/><stop offset="0.400" stop-color="#c00100"/><stop offset="0.450" stop-color="#bb0000"/><stop offset="0.500" stop-color="#b30000"/><stop offset="0.550" stop-color="#ab0000"/><stop offset="0.600" stop-color="#a20000"/><stop offset="0.650" stop-color="#9a0000"/><stop offset="0.700" stop-color="#8d0000"/><stop offset="0.750" stop-color="#810000"/><stop offset="0.800" stop-color="#7d0000"/><stop offset="0.850" stop-color="#790000"/><stop offset="0.900" stop-color="#810000"/><stop offset="0.950" stop-color="#890000"/><stop offset="1.000" stop-color="#890000"/></linearGradient><linearGradient id="gd23"><stop offset="0.000" stop-color="#d80a00"/><stop offset="0.050" stop-color="#d80a00"/><stop offset="0.100" stop-color="#d70900"/><stop offset="0.150" stop-color="#d60900"/><stop offset="0.200" stop-color="#d20800"/><stop offset="0.250" stop-color="#ce0600"/><stop offset="0.300" stop-color="#c80400"/><stop offset="0.350" stop-color="#c20200"/><stop offset="0.400" stop-color="#bd0000"/><stop offset="0.450" stop-color="#b80000"/><stop offset="0.500" stop-color="#b20000"/><stop offset="0.550" stop-color="#ad0000"/><stop offset="0.600" stop-color="#a40000"/><stop offset="0.650" stop-color="#9c0000"/><stop offset="0.700" stop-color="#900000"/><stop offset="0.750" stop-color="#850000"/><stop offset="0.800" stop-color="#810000"/><stop offset="0.850" stop-color="#7d0000"/><stop offset="0.900" stop-color="#850000"/><stop offset="0.950" stop-color="#8d0000"/><stop offset="1.000" stop-color="#8d0000"/></linearGradient><linearGradient id="gd24"><stop offset="0.000" stop-color="#db0b00"/><stop offset="0.050" stop-color="#db0b00"/><stop offset="0.100" stop-color="#d90a00"/><stop offset="0.150" stop-color="#d70a00"/><stop offset="0.200" stop-color="#d30800"/><stop offset="0.250" stop-color="#cf0700"/><stop offset="0.300" stop-color="#c80400"/><stop offset="0.350" stop-color="#c10200"/><stop offset="0.400" stop-color="#bb0000"/><stop offset="0.450" stop-color="#b50000"/><stop offset="0.500" stop-color="#b20000"/><stop offset="0.550" stop-color="#af0000"/><stop offset="0.600" stop-color="#a60000"/><stop offset="0.650" stop-color="#9d0000"/><stop offset="0.700" stop-color="#920000"/><stop offset="0.750" stop-color="#880000"/><stop offset="0.800" stop-color="#840000"/><stop offset="0.850" stop-color="#800000"/><stop offset="0.900" stop-color="#880000"/><stop offset="0.950" stop-color="#900000"/><stop offset="1.000" stop-color="#900000"/></linearGradient><linearGradient id="gd25"><stop offset="0.000" stop-color="#de0c00"/><stop offset="0.050" stop-color="#de0c00"/><stop offset="0.100" stop-color="#dc0b00"/><stop offset="0.150" stop-color="#d90a00"/><stop offset="0.200" stop-color="#d50900"/><stop offset="0.250" stop-color="#d10700"/><stop offset="0.300" stop-color="#c80400"/><stop offset="0.350" stop-color="#bf0100"/><stop offset="0.400" stop-color="#b80000"/><stop offset="0.450" stop-color="#b10000"/><stop offset="0.500" stop-color="#b10000"/><stop offset="0.550" stop-color="#b00000"/><stop offset="0.600" stop-color="#a80000"/><stop offset="0.650" stop-color="#9f0000"/><stop offset="0.700" stop-color="#950000"/><stop offset="0.750" stop-color="#8b0000"/><stop offset="0.800" stop-color="#870000"/><stop offset="0.850" stop-color="#830000"/><stop offset="0.900" stop-color="#8b0000"/><stop offset="0.950" stop-color="#930000"/><stop offset="1.000" stop-color="#930000"/></linearGradient><linearGradient id="gd26"><stop offset="0.000" stop-color="#e10d00"/><stop offset="0.050" stop-color="#e10d00"/><stop offset="0.100" stop-color="#de0c00"/><stop offset="0.150" stop-color="#db0b00"/><stop offset="0.200" stop-color="#d70900"/><stop offset="0.250" stop-color="#d30800"/><stop offset="0.300" stop-color="#c80400"/><stop offset="0.350" stop-color="#bd0000"/><stop offset="0.400" stop-color="#b60000"/><stop offset="0.450" stop-color="#ae0000"/><stop offset="0.500" stop-color="#b00000"/><stop offset="0.550" stop-color="#b20000"/><stop offset="0.600" stop-color="#a90000"/><stop offset="0.650" stop-color="#a10000"/><stop offset="0.700" stop-color="#970000"/><stop offset="0.750" stop-color="#8e0000"/><stop offset="0.800" stop-color="#8a0000"/><stop offset="0.850" stop-color="#860000"/><stop offset="0.900" stop-color="#8e0000"/><stop offset="0.950" stop-color="#970000"/><stop offset="1.000" stop-color="#970000"/></linearGradient><linearGradient id="gd27"><stop offset="0.000" stop-color="#e40e00"/><stop offset="0.050" stop-color="#e40e00"/><stop offset="0.100" stop-color="#e00d00"/><stop offset="0.150" stop-color="#dc0b00"/><stop offset="0.200" stop-color="#d80a00"/><stop offset="0.250" stop-color="#d40800"/><stop offset="0.300" stop-color="#c80400"/><stop offset="0.350" stop-color="#bc0000"/><stop offset="0.400" stop-color="#b30000"/><stop offset="0.450" stop-color="#ab0000"/><stop offset="0.500" stop-color="#af0000"/><stop offset="0.550" stop-color="#b40000"/><stop offset="0.600" stop-color="#ab0000"/><stop offset="0.650" stop-color="#a30000"/><stop offset="0.700" stop-color="#9a0000"/><stop offset="0.750" stop-color="#920000"/><stop offset="0.800" stop-color="#8e0000"/><stop offset="0.850" stop-color="#8a0000"/><stop offset="0.900" stop-color="#920000"/><stop offset="0.950" stop-color="#9a0000"/><stop offset="1.000" stop-color="#9a0000"/></linearGradient><linearGradient id="gd28"><stop offset="0.000" stop-color="#e40e00"/><stop offset="0.050" stop-color="#e40e00"/><stop offset="0.100" stop-color="#e10d00"/><stop offset="0.150" stop-color="#de0c00"/><stop offset="0.200" stop-color="#d90a00"/><stop offset="0.250" stop-color="#d40800"/><stop offset="0.300" stop-color="#c80400"/><stop offset="0.350" stop-color="#bc0000"/><stop offset="0.400" stop-color="#b30000"/><stop offset="0.450" stop-color="#ab0000"/><stop offset="0.500" stop-color="#b00000"/><stop offset="0.550" stop-color="#b50000"/><stop offset="0.600" stop-color="#ae0000"/><stop offset="0.650" stop-color="#a60000"/><stop offset="0.700" stop-color="#9f0000"/><stop offset="0.750" stop-color="#970000"/><stop offset="0.800" stop-color="#930000"/><stop offset="0.850" stop-color="#8f0000"/><stop offset="0.900" stop-color="#960000"/><stop offset="0.950" stop-color="#9e0000"/><stop offset="1.000" stop-color="#9e0000"/></linearGradient><linearGradient id="gd29"><stop offset="0.000" stop-color="#e40e00"/><stop offset="0.050" stop-color="#e40e00"/><stop offset="0.100" stop-color="#e20d00"/><stop offset="0.150" stop-color="#e00c00"/><stop offset="0.200" stop-color="#da0a00"/><stop offset="0.250" stop-color="#d40800"/><stop offset="0.300" stop-color="#c80400"/><stop offset="0.350" stop-color="#bc0000"/><stop offset="0.400" stop-color="#b30000"/><stop offset="0.450" stop-color="#ab0000"/><stop offset="0.500" stop-color="#b10000"/><stop offset="0.550" stop-color="#b70000"/><stop offset="0.600" stop-color="#b00000"/><stop offset="0.650" stop-color="#aa0000"/><stop offset="0.700" stop-color="#a30000"/><stop offset="0.750" stop-color="#9c0000"/><stop offset="0.800" stop-color="#980000"/><stop offset="0.850" stop-color="#940000"/><stop offset="0.900" stop-color="#9a0000"/><stop offset="0.950" stop-color="#a10000"/><stop offset="1.000" stop-color="#a10000"/></linearGradient><linearGradient id="gd30"><stop offset="0.000" stop-color="#e40e00"/><stop offset="0.050" stop-color="#e40e00"/><stop offset="0.100" stop-color="#e30d00"/><stop offset="0.150" stop-color="#e10d00"/><stop offset="0.200" stop-color="#db0b00"/><stop offset="0.250" stop-color="#d40800"/><stop offset="0.300" stop-color="#c80400"/><stop offset="0.350" stop-color="#bc0000"/><stop offset="0.400" stop-color="#b30000"/><stop offset="0.450" stop-color="#ab0000"/><stop offset="0.500" stop-color="#b20000"/><stop offset="0.550" stop-color="#b90000"/><stop offset="0.600" stop-color="#b30000"/><stop offset="0.650" stop-color="#ad0000"/><stop offset="0.700" stop-color="#a70000"/><stop offset="0.750" stop-color="#a20000"/><stop offset="0.800" stop-color="#9d0000"/><stop offset="0.850" stop-color="#990000"/><stop offset="0.900" stop-color="#9f0000"/><stop offset="0.950" stop-color="#a50000"/><stop offset="1.000" stop-color="#a50000"/></linearGradient><linearGradient id="gd31"><stop offset="0.000" stop-color="#e40e00"/><stop offset="0.050" stop-color="#e40e00"/><stop offset="0.100" stop-color="#e30e00"/><stop offset="0.150" stop-color="#e30e00"/><stop offset="0.200" stop-color="#db0b00"/><stop offset="0.250" stop-color="#d40800"/><stop offset="0.300" stop-color="#c80400"/><stop offset="0.350" stop-color="#bc0000"/><stop offset="0.400" stop-color="#b30000"/><stop offset="0.450" stop-color="#ab0000"/><stop offset="0.500" stop-color="#b30000"/><stop offset="0.550" stop-color="#bb0000"/><stop offset="0.600" stop-color="#b60000"/><stop offset="0.650" stop-color="#b10000"/><stop offset="0.700" stop-color="#ac0000"/><stop offset="0.750" stop-color="#a70000"/><stop offset="0.800" stop-color="#a20000"/><stop offset="0.850" stop-color="#9e0000"/><stop offset="0.900" stop-color="#a30000"/><stop offset="0.950" stop-color="#a80000"/><stop offset="1.000" stop-color="#a80000"/></linearGradient><linearGradient id="gd32"><stop offset="0.000" stop-color="#e40e00"/><stop offset="0.050" stop-color="#e40e00"/><stop offset="0.100" stop-color="#e40e00"/><stop offset="0.150" stop-color="#e40e00"/><stop offset="0.200" stop-color="#dc0b00"/><stop offset="0.250" stop-color="#d40800"/><stop offset="0.300" stop-color="#c80400"/><stop offset="0.350" stop-color="#bd0000"/><stop offset="0.400" stop-color="#b40000"/><stop offset="0.450" stop-color="#ac0000"/><stop offset="0.500" stop-color="#b40000"/><stop offset="0.550" stop-color="#bc0000"/><stop offset="0.600" stop-color="#b80000"/><stop offset="0.650" stop-color="#b40000"/><stop offset="0.700" stop-color="#af0000"/><stop offset="0.750" stop-color="#ab0000"/><stop offset="0.800" stop-color="#a70000"/><stop offset="0.850" stop-color="#a30000"/><stop offset="0.900" stop-color="#a70000"/><stop offset="0.950" stop-color="#ac0000"/><stop offset="1.000" stop-color="#ac0000"/></linearGradient><linearGradient id="gd33"><stop offset="0.000" stop-color="#e40e00"/><stop offset="0.050" stop-color="#e40e00"/><stop offset="0.100" stop-color="#e30e00"/><stop offset="0.150" stop-color="#e20d00"/><stop offset="0.200" stop-color="#db0b00"/><stop offset="0.250" stop-color="#d40800"/><stop offset="0.300" stop-color="#ca0500"/><stop offset="0.350" stop-color="#c00100"/><stop offset="0.400" stop-color="#b90000"/><stop offset="0.450" stop-color="#b10000"/><stop offset="0.500" stop-color="#b80000"/><stop offset="0.550" stop-color="#be0100"/><stop offset="0.600" stop-color="#ba0000"/><stop offset="0.650" stop-color="#b60000"/><stop offset="0.700" stop-color="#b10000"/><stop offset="0.750" stop-color="#ad0000"/><stop offset="0.800" stop-color="#aa0000"/><stop offset="0.850" stop-color="#a60000"/><stop offset="0.900" stop-color="#ab0000"/><stop offset="0.950" stop-color="#af0000"/><stop offset="1.000" stop-color="#af0000"/></linearGradient><linearGradient id="gd34"><stop offset="0.000" stop-color="#e40e00"/><stop offset="0.050" stop-color="#e40e00"/><stop offset="0.100" stop-color="#e20d00"/><stop offset="0.150" stop-color="#e00d00"/><stop offset="0.200" stop-color="#da0b00"/><stop offset="0.250" stop-color="#d40800"/><stop offset="0.300" stop-color="#cc0500"/><stop offset="0.350" stop-color="#c30200"/><stop offset="0.400" stop-color="#bd0000"/><stop offset="0.450" stop-color="#b60000"/><stop offset="0.500" stop-color="#bb0000"/><stop offset="0.550" stop-color="#c00100"/><stop offset="0.600" stop-color="#bc0000"/><stop offset="0.650" stop-color="#b70000"/><stop offset="0.700" stop-color="#b30000"/><stop offset="0.750" stop-color="#af0000"/><stop offset="0.800" stop-color="#ac0000"/><stop offset="0.850" stop-color="#aa0000"/><stop offset="0.900" stop-color="#ae0000"/><stop offset="0.950" stop-color="#b20000"/><stop offset="1.000" stop-color="#b20000"/></linearGradient><linearGradient id="gd35"><stop offset="0.000" stop-color="#e40e00"/><stop offset="0.050" stop-color="#e40e00"/><stop offset="0.100" stop-color="#e10d00"/><stop offset="0.150" stop-color="#df0c00"/><stop offset="0.200" stop-color="#d90a00"/><stop offset="0.250" stop-color="#d40800"/><stop offset="0.300" stop-color="#cd0600"/><stop offset="0.350" stop-color="#c60400"/><stop offset="0.400" stop-color="#c10200"/><stop offset="0.450" stop-color="#bc0000"/><stop offset="0.500" stop-color="#be0100"/><stop offset="0.550" stop-color="#c10200"/><stop offset="0.600" stop-color="#bd0000"/><stop offset="0.650" stop-color="#b90000"/><stop offset="0.700" stop-color="#b50000"/><stop offset="0.750" stop-color="#b00000"/><stop offset="0.800" stop-color="#af0000"/><stop offset="0.850" stop-color="#ad0000"/><stop offset="0.900" stop-color="#b20000"/><stop offset="0.950" stop-color="#b60000"/><stop offset="1.000" stop-color="#b60000"/></linearGradient><linearGradient id="gd36"><stop offset="0.000" stop-color="#e40e00"/><stop offset="0.050" stop-color="#e40e00"/><stop offset="0.100" stop-color="#e10d00"/><stop offset="0.150" stop-color="#dd0c00"/><stop offset="0.200" stop-color="#d90a00"/><stop offset="0.250" stop-color="#d40800"/><stop offset="0.300" stop-color="#cf0700"/><stop offset="0.350" stop-color="#ca0500"/><stop offset="0.400" stop-color="#c50300"/><stop offset="0.450" stop-color="#c00200"/><stop offset="0.500" stop-color="#c20200"/><stop offset="0.550" stop-color="#c30200"/><stop offset="0.600" stop-color="#bf0100"/><stop offset="0.650" stop-color="#bb0000"/><stop offset="0.700" stop-color="#b60000"/><stop offset="0.750" stop-color="#b20000"/><stop offset="0.800" stop-color="#b10000"/><stop offset="0.850" stop-color="#b10000"/><stop offset="0.900" stop-color="#b50000"/><stop offset="0.950" stop-color="#b90000"/><stop offset="1.000" stop-color="#b90000"/></linearGradient><linearGradient id="gd37"><stop offset="0.000" stop-color="#e40e00"/><stop offset="0.050" stop-color="#e40e00"/><stop offset="0.100" stop-color="#e00c00"/><stop offset="0.150" stop-color="#dc0b00"/><stop offset="0.200" stop-color="#d80a00"/><stop offset="0.250" stop-color="#d40800"/><stop offset="0.300" stop-color="#d00700"/><stop offset="0.350" stop-color="#cc0600"/><stop offset="0.400" stop-color="#c80400"/><stop offset="0.450" stop-color="#c40300"/><stop offset="0.500" stop-color="#c40300"/><stop offset="0.550" stop-color="#c40300"/><stop offset="0.600" stop-color="#c00200"/><stop offset="0.650" stop-color="#bc0000"/><stop offset="0.700" stop-color="#b80000"/><stop offset="0.750" stop-color="#b40000"/><stop offset="0.800" stop-color="#b40000"/><stop offset="0.850" stop-color="#b40000"/><stop offset="0.900" stop-color="#b90000"/><stop offset="0.950" stop-color="#bd0000"/><stop offset="1.000" stop-color="#bd0000"/></linearGradient><linearGradient id="gd38"><stop offset="0.000" stop-color="#e20d00"/><stop offset="0.050" stop-color="#e20d00"/><stop offset="0.100" stop-color="#de0c00"/><stop offset="0.150" stop-color="#da0a00"/><stop offset="0.200" stop-color="#d70900"/><stop offset="0.250" stop-color="#d40800"/><stop offset="0.300" stop-color="#d10700"/><stop offset="0.350" stop-color="#ce0600"/><stop offset="0.400" stop-color="#ca0500"/><stop offset="0.450" stop-color="#c60400"/><stop offset="0.500" stop-color="#c60400"/><stop offset="0.550" stop-color="#c60400"/><stop offset="0.600" stop-color="#c20200"/><stop offset="0.650" stop-color="#be0100"/><stop offset="0.700" stop-color="#ba0000"/><stop offset="0.750" stop-color="#b60000"/><stop offset="0.800" stop-color="#b70000"/><stop offset="0.850" stop-color="#b80000"/><stop offset="0.900" stop-color="#bc0000"/><stop offset="0.950" stop-color="#c00100"/><stop offset="1.000" stop-color="#c00100"/></linearGradient><linearGradient id="gd39"><stop offset="0.000" stop-color="#e00d00"/><stop offset="0.050" stop-color="#e00d00"/><stop offset="0.100" stop-color="#dc0b00"/><stop offset="0.150" stop-color="#d80a00"/><stop offset="0.200" stop-color="#d60900"/><stop offset="0.250" stop-color="#d40800"/><stop offset="0.300" stop-color="#d20800"/><stop offset="0.350" stop-color="#d00700"/><stop offset="0.400" stop-color="#cc0500"/><stop offset="0.450" stop-color="#c80400"/><stop offset="0.500" stop-color="#c80400"/><stop offset="0.550" stop-color="#c80400"/><stop offset="0.600" stop-color="#c40300"/><stop offset="0.650" stop-color="#c00100"/><stop offset="0.700" stop-color="#bc0000"/><stop offset="0.750" stop-color="#b70000"/><stop offset="0.800" stop-color="#b90000"/><stop offset="0.850" stop-color="#bb0000"/><stop offset="0.900" stop-color="#bf0100"/><stop offset="0.950" stop-color="#c30300"/><stop offset="1.000" stop-color="#c30300"/></linearGradient><linearGradient id="gd40"><stop offset="0.000" stop-color="#df0c00"/><stop offset="0.050" stop-color="#df0c00"/><stop offset="0.100" stop-color="#db0b00"/><stop offset="0.150" stop-color="#d70900"/><stop offset="0.200" stop-color="#d50900"/><stop offset="0.250" stop-color="#d40800"/><stop offset="0.300" stop-color="#d30800"/><stop offset="0.350" stop-color="#d10700"/><stop offset="0.400" stop-color="#cd0600"/><stop offset="0.450" stop-color="#c90500"/><stop offset="0.500" stop-color="#c90500"/><stop offset="0.550" stop-color="#c90500"/><stop offset="0.600" stop-color="#c50300"/><stop offset="0.650" stop-color="#c10200"/><stop offset="0.700" stop-color="#bd0000"/><stop offset="0.750" stop-color="#b90000"/><stop offset="0.800" stop-color="#bc0000"/><stop offset="0.850" stop-color="#be0100"/><stop offset="0.900" stop-color="#c20200"/><stop offset="0.950" stop-color="#c60400"/><stop offset="1.000" stop-color="#c60400"/></linearGradient><linearGradient id="gd41"><stop offset="0.000" stop-color="#dd0c00"/><stop offset="0.050" stop-color="#dd0c00"/><stop offset="0.100" stop-color="#d90a00"/><stop offset="0.150" stop-color="#d50900"/><stop offset="0.200" stop-color="#d50900"/><stop offset="0.250" stop-color="#d40800"/><stop offset="0.300" stop-color="#d30800"/><stop offset="0.350" stop-color="#d30800"/><stop offset="0.400" stop-color="#cf0700"/><stop offset="0.450" stop-color="#cb0500"/><stop offset="0.500" stop-color="#cb0500"/><stop offset="0.550" stop-color="#cb0500"/><stop offset="0.600" stop-color="#c70400"/><stop offset="0.650" stop-color="#c30200"/><stop offset="0.700" stop-color="#bf0100"/><stop offset="0.750" stop-color="#bb0000"/><stop offset="0.800" stop-color="#be0100"/><stop offset="0.850" stop-color="#c20200"/><stop offset="0.900" stop-color="#c60300"/><stop offset="0.950" stop-color="#ca0500"/><stop offset="1.000" stop-color="#ca0500"/></linearGradient><linearGradient id="gd42"><stop offset="0.000" stop-color="#dc0b00"/><stop offset="0.050" stop-color="#dc0b00"/><stop offset="0.100" stop-color="#d80a00"/><stop offset="0.150" stop-color="#d40800"/><stop offset="0.200" stop-color="#d40800"/><stop offset="0.250" stop-color="#d40800"/><stop offset="0.300" stop-color="#d40800"/><stop offset="0.350" stop-color="#d40800"/><stop offset="0.400" stop-color="#d00700"/><stop offset="0.450" stop-color="#cc0600"/><stop offset="0.500" stop-color="#cc0600"/><stop offset="0.550" stop-color="#cc0600"/><stop offset="0.600" stop-color="#c80400"/><stop offset="0.650" stop-color="#c40300"/><stop offset="0.700" stop-color="#c00200"/><stop offset="0.750" stop-color="#bc0000"/><stop offset="0.800" stop-color="#c00200"/><stop offset="0.850" stop-color="#c40300"/><stop offset="0.900" stop-color="#c80400"/><stop offset="0.950" stop-color="#cc0600"/><stop offset="1.000" stop-color="#cc0600"/></linearGradient><linearGradient id="gd43"><stop offset="0.000" stop-color="#da0a00"/><stop offset="0.050" stop-color="#da0a00"/><stop offset="0.100" stop-color="#d60900"/><stop offset="0.150" stop-color="#d20800"/><stop offset="0.200" stop-color="#d30800"/><stop offset="0.250" stop-color="#d40800"/><stop offset="0.300" stop-color="#d40800"/><stop offset="0.350" stop-color="#d40800"/><stop offset="0.400" stop-color="#d10700"/><stop offset="0.450" stop-color="#ce0600"/><stop offset="0.500" stop-color="#cd0600"/><stop offset="0.550" stop-color="#cc0600"/><stop offset="0.600" stop-color="#c90500"/><stop offset="0.650" stop-color="#c60400"/><stop offset="0.700" stop-color="#c20200"/><stop offset="0.750" stop-color="#be0100"/><stop offset="0.800" stop-color="#c20200"/><stop offset="0.850" stop-color="#c60400"/><stop offset="0.900" stop-color="#ca0500"/><stop offset="0.950" stop-color="#ce0600"/><stop offset="1.000" stop-color="#ce0600"/></linearGradient><linearGradient id="gd44"><stop offset="0.000" stop-color="#d80a00"/><stop offset="0.050" stop-color="#d80a00"/><stop offset="0.100" stop-color="#d40900"/><stop offset="0.150" stop-color="#d00700"/><stop offset="0.200" stop-color="#d20800"/><stop offset="0.250" stop-color="#d40800"/><stop offset="0.300" stop-color="#d40800"/><stop offset="0.350" stop-color="#d40800"/><stop offset="0.400" stop-color="#d20800"/><stop offset="0.450" stop-color="#d00700"/><stop offset="0.500" stop-color="#ce0600"/><stop offset="0.550" stop-color="#cc0600"/><stop offset="0.600" stop-color="#ca0500"/><stop offset="0.650" stop-color="#c80400"/><stop offset="0.700" stop-color="#c40300"/><stop offset="0.750" stop-color="#c00100"/><stop offset="0.800" stop-color="#c40300"/><stop offset="0.850" stop-color="#c80400"/><stop offset="0.900" stop-color="#cc0500"/><stop offset="0.950" stop-color="#d00700"/><stop offset="1.000" stop-color="#d00700"/></linearGradient><linearGradient id="gd45"><stop offset="0.000" stop-color="#d70900"/><stop offset="0.050" stop-color="#d70900"/><stop offset="0.100" stop-color="#d30800"/><stop offset="0.150" stop-color="#cf0700"/><stop offset="0.200" stop-color="#d10700"/><stop offset="0.250" stop-color="#d40800"/><stop offset="0.300" stop-color="#d40800"/><stop offset="0.350" stop-color="#d40800"/><stop offset="0.400" stop-color="#d30800"/><stop offset="0.450" stop-color="#d10700"/><stop offset="0.500" stop-color="#cf0700"/><stop offset="0.550" stop-color="#cc0600"/><stop offset="0.600" stop-color="#cb0500"/><stop offset="0.650" stop-color="#c90500"/><stop offset="0.700" stop-color="#c50300"/><stop offset="0.750" stop-color="#c10200"/><stop offset="0.800" stop-color="#c50300"/><stop offset="0.850" stop-color="#c90500"/><stop offset="0.900" stop-color="#cd0600"/><stop offset="0.950" stop-color="#d10700"/><stop offset="1.000" stop-color="#d10700"/></linearGradient><linearGradient id="gd46"><stop offset="0.000" stop-color="#d50900"/><stop offset="0.050" stop-color="#d50900"/><stop offset="0.100" stop-color="#d10700"/><stop offset="0.150" stop-color="#cd0600"/><stop offset="0.200" stop-color="#d10700"/><stop offset="0.250" stop-color="#d40800"/><stop offset="0.300" stop-color="#d40800"/><stop offset="0.350" stop-color="#d40800"/><stop offset="0.400" stop-color="#d30800"/><stop offset="0.450" stop-color="#d30800"/><stop offset="0.500" stop-color="#cf0700"/><stop offset="0.550" stop-color="#cc0600"/><stop offset="0.600" stop-color="#cb0500"/><stop offset="0.650" stop-color="#cb0500"/><stop offset="0.700" stop-color="#c70400"/><stop offset="0.750" stop-color="#c30200"/><stop offset="0.800" stop-color="#c70400"/><stop offset="0.850" stop-color="#cb0500"/><stop offset="0.900" stop-color="#cf0700"/><stop offset="0.950" stop-color="#d30800"/><stop offset="1.000" stop-color="#d30800"/></linearGradient><linearGradient id="gd47"><stop offset="0.000" stop-color="#d40800"/><stop offset="0.050" stop-color="#d40800"/><stop offset="0.100" stop-color="#d00700"/><stop offset="0.150" stop-color="#cc0600"/><stop offset="0.200" stop-color="#d00700"/><stop offset="0.250" stop-color="#d40800"/><stop offset="0.300" stop-color="#d40800"/><stop offset="0.350" stop-color="#d40800"/><stop offset="0.400" stop-color="#d40800"/><stop offset="0.450" stop-color="#d40800"/><stop offset="0.500" stop-color="#d00700"/><stop offset="0.550" stop-color="#cc0600"/><stop offset="0.600" stop-color="#cc0600"/><stop offset="0.650" stop-color="#cc0600"/><stop offset="0.700" stop-color="#c80400"/><stop offset="0.750" stop-color="#c40300"/><stop offset="0.800" stop-color="#c80400"/><stop offset="0.850" stop-color="#cc0600"/><stop offset="0.900" stop-color="#d00700"/><stop offset="0.950" stop-color="#d40800"/><stop offset="1.000" stop-color="#d40800"/></linearGradient><linearGradient id="gd48"><stop offset="0.000" stop-color="#d40800"/><stop offset="0.050" stop-color="#d40800"/><stop offset="0.100" stop-color="#d00700"/><stop offset="0.150" stop-color="#cc0600"/><stop offset="0.200" stop-color="#d00700"/><stop offset="0.250" stop-color="#d40800"/><stop offset="0.300" stop-color="#d40800"/><stop offset="0.350" stop-color="#d40800"/><stop offset="0.400" stop-color="#d40800"/><stop offset="0.450" stop-color="#d40800"/><stop offset="0.500" stop-color="#d00700"/><stop offset="0.550" stop-color="#cc0600"/><stop offset="0.600" stop-color="#cc0600"/><stop offset="0.650" stop-color="#cc0600"/><stop offset="0.700" stop-color="#c80400"/><stop offset="0.750" stop-color="#c40300"/><stop offset="0.800" stop-color="#c80400"/><stop offset="0.850" stop-color="#cc0600"/><stop offset="0.900" stop-color="#d00700"/><stop offset="0.950" stop-color="#d40800"/><stop offset="1.000" stop-color="#d40800"/></linearGradient><linearGradient id="gd49"><stop offset="0.000" stop-color="#d40800"/><stop offset="0.050" stop-color="#d40800"/><stop offset="0.100" stop-color="#d00700"/><stop offset="0.150" stop-color="#cc0600"/><stop offset="0.200" stop-color="#d00700"/><stop offset="0.250" stop-color="#d40800"/><stop offset="0.300" stop-color="#d40800"/><stop offset="0.350" stop-color="#d40800"/><stop offset="0.400" stop-color="#d40800"/><stop offset="0.450" stop-color="#d40800"/><stop offset="0.500" stop-color="#d00700"/><stop offset="0.550" stop-color="#cc0600"/><stop offset="0.600" stop-color="#cc0600"/><stop offset="0.650" stop-color="#cc0600"/><stop offset="0.700" stop-color="#c80400"/><stop offset="0.750" stop-color="#c40300"/><stop offset="0.800" stop-color="#c80400"/><stop offset="0.850" stop-color="#cc0600"/><stop offset="0.900" stop-color="#d00700"/><stop offset="0.950" stop-color="#d40800"/><stop offset="1.000" stop-color="#d40800"/></linearGradient></defs><g shape-rendering="crispEdges"><rect x="191" y="287" width="149" height="4" fill="url(#gd0)"/><rect x="191" y="290" width="149" height="4" fill="url(#gd1)"/><rect x="191" y="293" width="149" height="4" fill="url(#gd2)"/><rect x="191" y="296" width="149" height="4" fill="url(#gd3)"/><rect x="191" y="299" width="149" height="4" fill="url(#gd4)"/><rect x="191" y="302" width="149" height="4" fill="url(#gd5)"/><rect x="191" y="305" width="149" height="4" fill="url(#gd6)"/><rect x="191" y="308" width="149" height="4" fill="url(#gd7)"/><rect x="191" y="311" width="149" height="4" fill="url(#gd8)"/><rect x="191" y="314" width="149" height="4" fill="url(#gd9)"/><rect x="191" y="317" width="149" height="4" fill="url(#gd10)"/><rect x="191" y="320" width="149" height="4" fill="url(#gd11)"/><rect x="191" y="323" width="149" height="4" fill="url(#gd12)"/><rect x="191" y="326" width="149" height="4" fill="url(#gd13)"/><rect x="191" y="329" width="149" height="4" fill="url(#gd14)"/><rect x="191" y="332" width="149" height="4" fill="url(#gd15)"/><rect x="191" y="335" width="149" height="4" fill="url(#gd16)"/><rect x="191" y="338" width="149" height="4" fill="url(#gd17)"/><rect x="191" y="341" width="149" height="4" fill="url(#gd18)"/><rect x="191" y="344" width="149" height="4" fill="url(#gd19)"/><rect x="191" y="347" width="149" height="4" fill="url(#gd20)"/><rect x="191" y="350" width="149" height="4" fill="url(#gd21)"/><rect x="191" y="353" width="149" height="4" fill="url(#gd22)"/><rect x="191" y="356" width="149" height="4" fill="url(#gd23)"/><rect x="191" y="359" width="149" height="4" fill="url(#gd24)"/><rect x="191" y="362" width="149" height="4" fill="url(#gd25)"/><rect x="191" y="365" width="149" height="4" fill="url(#gd26)"/><rect x="191" y="368" width="149" height="4" fill="url(#gd27)"/><rect x="191" y="371" width="149" height="4" fill="url(#gd28)"/><rect x="191" y="374" width="149" height="4" fill="url(#gd29)"/><rect x="191" y="377" width="149" height="4" fill="url(#gd30)"/><rect x="191" y="380" width="149" height="4" fill="url(#gd31)"/><rect x="191" y="383" width="149" height="4" fill="url(#gd32)"/><rect x="191" y="386" width="149" height="4" fill="url(#gd33)"/><rect x="191" y="389" width="149" height="4" fill="url(#gd34)"/><rect x="191" y="392" width="149" height="4" fill="url(#gd35)"/><rect x="191" y="395" width="149" height="4" fill="url(#gd36)"/><rect x="191" y="398" width="149" height="4" fill="url(#gd37)"/><rect x="191" y="401" width="149" height="4" fill="url(#gd38)"/><rect x="191" y="404" width="149" height="4" fill="url(#gd39)"/><rect x="191" y="407" width="149" height="4" fill="url(#gd40)"/><rect x="191" y="410" width="149" height="4" fill="url(#gd41)"/><rect x="191" y="413" width="149" height="4" fill="url(#gd42)"/><rect x="191" y="416" width="149" height="4" fill="url(#gd43)"/><rect x="191" y="419" width="149" height="4" fill="url(#gd44)"/><rect x="191" y="422" width="149" height="4" fill="url(#gd45)"/><rect x="191" y="425" width="149" height="4" fill="url(#gd46)"/><rect x="191" y="428" width="149" height="4" fill="url(#gd47)"/><rect x="191" y="431" width="149" height="4" fill="url(#gd48)"/><rect x="191" y="434" width="149" height="2" fill="url(#gd49)"/></g>
<filter id="noiseC" x="0" y="0" width="100%" height="100%"><feTurbulence type="fractalNoise" baseFrequency="0.28" numOctaves="2" seed="3"/><feColorMatrix type="matrix" values="0 0 0 0 0.98  0 0 0 0 0.35  0 0 0 0 0  0 0 0 -1.6 0.95"/></filter>
<filter id="noiseD" x="0" y="0" width="100%" height="100%"><feTurbulence type="fractalNoise" baseFrequency="0.28" numOctaves="2" seed="5"/><feColorMatrix type="matrix" values="0 0 0 0 0.45  0 0 0 0 0  0 0 0 0 0  0 0 0 -1.6 0.95"/></filter>
<rect x="33.5" y="286.3" width="149" height="149" filter="url(#noiseC)" opacity="0.45"/>
<rect x="191.4" y="286.8" width="149" height="149" filter="url(#noiseD)" opacity="0.45"/>
<clipPath id="csc"><rect x="33.5" y="286.3" width="149" height="149"/></clipPath><g clip-path="url(#csc)" stroke="#e86a00" fill="none"><line x1="-105.5" y1="286.3" x2="43.5" y2="435.3" stroke-width="2.6" stroke-opacity="0.14"/><line x1="-93" y1="286.3" x2="56" y2="435.3" stroke-width="2.6" stroke-opacity="0.15"/><line x1="-87.7" y1="286.3" x2="61.3" y2="435.3" stroke-width="2.2" stroke-opacity="0.15"/><line x1="-77.6" y1="286.3" x2="71.4" y2="435.3" stroke-width="2.9" stroke-opacity="0.07"/><line x1="-68.8" y1="286.3" x2="80.2" y2="435.3" stroke-width="1.9" stroke-opacity="0.12"/><line x1="-59.2" y1="286.3" x2="89.8" y2="435.3" stroke-width="1.5" stroke-opacity="0.08"/><line x1="-52" y1="286.3" x2="97" y2="435.3" stroke-width="2.9" stroke-opacity="0.14"/><line x1="-45.7" y1="286.3" x2="103.3" y2="435.3" stroke-width="2.7" stroke-opacity="0.08"/><line x1="-35.8" y1="286.3" x2="113.2" y2="435.3" stroke-width="1.7" stroke-opacity="0.06"/><line x1="-23.8" y1="286.3" x2="125.2" y2="435.3" stroke-width="1.8" stroke-opacity="0.08"/><line x1="-10.9" y1="286.3" x2="138.1" y2="435.3" stroke-width="2.8" stroke-opacity="0.09"/><line x1="1.8" y1="286.3" x2="150.8" y2="435.3" stroke-width="2.3" stroke-opacity="0.13"/><line x1="8.4" y1="286.3" x2="157.4" y2="435.3" stroke-width="2.9" stroke-opacity="0.13"/><line x1="21.1" y1="286.3" x2="170.1" y2="435.3" stroke-width="2.8" stroke-opacity="0.09"/><line x1="29" y1="286.3" x2="178" y2="435.3" stroke-width="1.7" stroke-opacity="0.08"/><line x1="34.5" y1="286.3" x2="183.5" y2="435.3" stroke-width="2" stroke-opacity="0.12"/><line x1="39.6" y1="286.3" x2="188.6" y2="435.3" stroke-width="2.5" stroke-opacity="0.10"/><line x1="47.1" y1="286.3" x2="196.1" y2="435.3" stroke-width="2.7" stroke-opacity="0.11"/><line x1="54.6" y1="286.3" x2="203.6" y2="435.3" stroke-width="2.2" stroke-opacity="0.13"/><line x1="60" y1="286.3" x2="209" y2="435.3" stroke-width="3" stroke-opacity="0.07"/><line x1="71" y1="286.3" x2="220" y2="435.3" stroke-width="2.8" stroke-opacity="0.07"/><line x1="82.3" y1="286.3" x2="231.3" y2="435.3" stroke-width="2" stroke-opacity="0.12"/><line x1="87.4" y1="286.3" x2="236.4" y2="435.3" stroke-width="1.6" stroke-opacity="0.08"/><line x1="100.1" y1="286.3" x2="249.1" y2="435.3" stroke-width="1.8" stroke-opacity="0.14"/><line x1="112.5" y1="286.3" x2="261.5" y2="435.3" stroke-width="2.9" stroke-opacity="0.10"/><line x1="120.3" y1="286.3" x2="269.3" y2="435.3" stroke-width="2.3" stroke-opacity="0.14"/><line x1="126.2" y1="286.3" x2="275.2" y2="435.3" stroke-width="2.6" stroke-opacity="0.14"/><line x1="138.1" y1="286.3" x2="287.1" y2="435.3" stroke-width="1.6" stroke-opacity="0.15"/><line x1="143.8" y1="286.3" x2="292.8" y2="435.3" stroke-width="2" stroke-opacity="0.12"/><line x1="156.1" y1="286.3" x2="305.1" y2="435.3" stroke-width="2" stroke-opacity="0.15"/><line x1="165.5" y1="286.3" x2="314.5" y2="435.3" stroke-width="2" stroke-opacity="0.09"/><line x1="171.9" y1="286.3" x2="320.9" y2="435.3" stroke-width="1.6" stroke-opacity="0.08"/><line x1="182.4" y1="286.3" x2="331.4" y2="435.3" stroke-width="3" stroke-opacity="0.08"/><line x1="187.8" y1="286.3" x2="336.8" y2="435.3" stroke-width="3" stroke-opacity="0.12"/></g>
<clipPath id="csd"><rect x="191.4" y="286.8" width="149" height="149"/></clipPath><g clip-path="url(#csd)" stroke="#700000" fill="none"><line x1="50.6" y1="286.8" x2="199.6" y2="435.8" stroke-width="1.9" stroke-opacity="0.14"/><line x1="62.3" y1="286.8" x2="211.3" y2="435.8" stroke-width="2.2" stroke-opacity="0.12"/><line x1="67.7" y1="286.8" x2="216.7" y2="435.8" stroke-width="2.9" stroke-opacity="0.08"/><line x1="76.7" y1="286.8" x2="225.7" y2="435.8" stroke-width="2.8" stroke-opacity="0.09"/><line x1="87.5" y1="286.8" x2="236.5" y2="435.8" stroke-width="2.9" stroke-opacity="0.14"/><line x1="98.8" y1="286.8" x2="247.8" y2="435.8" stroke-width="1.7" stroke-opacity="0.12"/><line x1="105" y1="286.8" x2="254" y2="435.8" stroke-width="2.8" stroke-opacity="0.10"/><line x1="113.6" y1="286.8" x2="262.6" y2="435.8" stroke-width="3" stroke-opacity="0.16"/><line x1="126.4" y1="286.8" x2="275.4" y2="435.8" stroke-width="2.2" stroke-opacity="0.12"/><line x1="137.3" y1="286.8" x2="286.3" y2="435.8" stroke-width="2.2" stroke-opacity="0.10"/><line x1="145.5" y1="286.8" x2="294.5" y2="435.8" stroke-width="1.7" stroke-opacity="0.11"/><line x1="158.4" y1="286.8" x2="307.4" y2="435.8" stroke-width="2.9" stroke-opacity="0.14"/><line x1="167.4" y1="286.8" x2="316.4" y2="435.8" stroke-width="2" stroke-opacity="0.08"/><line x1="174.6" y1="286.8" x2="323.6" y2="435.8" stroke-width="2.7" stroke-opacity="0.17"/><line x1="182.5" y1="286.8" x2="331.5" y2="435.8" stroke-width="2.7" stroke-opacity="0.16"/><line x1="193" y1="286.8" x2="342" y2="435.8" stroke-width="2.5" stroke-opacity="0.15"/><line x1="200.9" y1="286.8" x2="349.9" y2="435.8" stroke-width="2.6" stroke-opacity="0.10"/><line x1="209.8" y1="286.8" x2="358.8" y2="435.8" stroke-width="2.7" stroke-opacity="0.15"/><line x1="217.2" y1="286.8" x2="366.2" y2="435.8" stroke-width="2.9" stroke-opacity="0.14"/><line x1="226.8" y1="286.8" x2="375.8" y2="435.8" stroke-width="1.5" stroke-opacity="0.13"/><line x1="233.8" y1="286.8" x2="382.8" y2="435.8" stroke-width="2.5" stroke-opacity="0.12"/><line x1="245.4" y1="286.8" x2="394.4" y2="435.8" stroke-width="2.5" stroke-opacity="0.16"/><line x1="253.1" y1="286.8" x2="402.1" y2="435.8" stroke-width="2.5" stroke-opacity="0.15"/><line x1="264.8" y1="286.8" x2="413.8" y2="435.8" stroke-width="2" stroke-opacity="0.16"/><line x1="276.7" y1="286.8" x2="425.7" y2="435.8" stroke-width="2.5" stroke-opacity="0.18"/><line x1="289.4" y1="286.8" x2="438.4" y2="435.8" stroke-width="2.3" stroke-opacity="0.13"/><line x1="295.7" y1="286.8" x2="444.7" y2="435.8" stroke-width="2.8" stroke-opacity="0.17"/><line x1="304.5" y1="286.8" x2="453.5" y2="435.8" stroke-width="2.5" stroke-opacity="0.15"/><line x1="315.4" y1="286.8" x2="464.4" y2="435.8" stroke-width="1.8" stroke-opacity="0.16"/><line x1="325" y1="286.8" x2="474" y2="435.8" stroke-width="2.5" stroke-opacity="0.12"/><line x1="335" y1="286.8" x2="484" y2="435.8" stroke-width="2.7" stroke-opacity="0.14"/><line x1="345.8" y1="286.8" x2="494.8" y2="435.8" stroke-width="1.5" stroke-opacity="0.09"/></g>
<rect x="33.5" y="286.3" width="149" height="149" fill="none" stroke="#000" stroke-width="2"/>
<rect x="191.4" y="286.8" width="149" height="149" fill="none" stroke="#000" stroke-width="2"/>
<line x1="108.2" y1="287.5" x2="108.2" y2="434.5" stroke="#fff" stroke-width="1.9" stroke-dasharray="5.6,2"/>
<line x1="265.2" y1="288" x2="265.2" y2="435" stroke="#fff" stroke-width="1.9" stroke-dasharray="5.6,2"/>
<rect x="40.3" y="425.2" width="58.4" height="4.4" fill="#000"/>
<defs><linearGradient id="hot" x1="0" y1="0" x2="0" y2="1"><stop offset="0" stop-color="#ffffff"/><stop offset="0.254" stop-color="#ffff00"/><stop offset="0.635" stop-color="#ff0000"/><stop offset="1" stop-color="#0a0000"/></linearGradient></defs>
<rect x="346.4" y="288.6" width="12.8" height="146.8" fill="url(#hot)" stroke="#888" stroke-width="0.6"/>
<line x1="356.5" y1="325.3" x2="359.2" y2="325.3" stroke="#444" stroke-width="0.6"/>
<line x1="356.5" y1="362.0" x2="359.2" y2="362.0" stroke="#444" stroke-width="0.6"/>
<line x1="356.5" y1="398.7" x2="359.2" y2="398.7" stroke="#444" stroke-width="0.6"/>
<text x="363.6" y="295" font-size="12.5" font-family="Liberation Sans, sans-serif">900</text>
<text x="363.3" y="306" font-size="12.5" font-family="Liberation Serif, serif">(<tspan font-style="italic">nm</tspan>)</text>
<text x="363.6" y="368.5" font-size="12.5" font-family="Liberation Sans, sans-serif">800</text>
<text x="363.6" y="441" font-size="12.5" font-family="Liberation Sans, sans-serif">700</text>
<text x="456.5" y="270.5" font-size="17.6" font-family="Liberation Sans, sans-serif">(e)</text>
<polyline points="460.9,323.3 462.8,325.7 465.2,333.7 467.6,333.4 470,334 472.5,338.5 474.9,340.1 478.1,345.3 480.5,343.4 482.9,343.7 485.6,349.8 488.5,341.4 491.7,342.1 494.1,343.4 496.5,342.6 499,344.2 501.4,338.5 503.8,340.1 507,344.2 509.4,343.4 511.8,343.7 514.2,346.6 516.6,340.1 519.8,332.9 522.2,335.3 525.4,339.8 530.3,337.3 533.5,338.5 535.9,338.5 538.3,341 541.5,342.6 546,345.8 549.5,342.6 552.7,342.6 556,341 561.6,336.6 564,339.3 565,339.3 567.4,337.7 569.8,338.9 573,338.5 575.4,339 577.8,335.7 580.3,338.5 583.5,342.1 586.7,345.8 589.9,349 592.3,353 593.6,357 595.5,355.4 597.9,357.5 599.5,353.8 601.6,349.8 604.3,350.6 606.8,349.8 610,346.6 614,344.6 618.8,343.7 622,341 625.2,336.9 627.6,338.2 630.8,336.6 635.7,333.7 638.9,335.3 642.1,337.3 645.3,337.7 647.7,332.9 650.9,328.9 654.1,324.4 657.3,322.8 659.7,320.6 662.2,323.3 664.6,320.6 667.8,322.2 670.2,321.2" fill="none" stroke="#000" stroke-width="1.3" stroke-linejoin="round"/>
<polyline points="460.9,393.1 463.6,397.2 466.8,398.3 470,399.2 473.3,402.5 475.7,398.3 478.1,401.2 480.5,404.4 483.7,403.6 485.6,405.2 488.5,394.7 490.9,397.2 493.7,400.4 496.5,396.4 499,401.5 501.4,397.2 504.6,398.3 507,399.2 511,396.4 514.2,393.9 517.4,393.1 519.8,391.5 523,388.3 525.4,390.7 528.7,391.2 531.1,393.1 533.5,389.9 535.9,391.2 538.3,394.4 541.5,394.7 545.5,395.1 549.5,388 551.9,389.9 554.4,392.3 557.6,389.9 561.6,386.4 564.8,389.9 565,389.1 568.2,387.5 572.2,387.5 575.4,389.6 577.8,386.7 581.1,388 583.5,388.6 585.9,387.5 588.3,393.1 590.7,395.6 593.1,401.2 595.5,400.4 598.7,401.2 601.9,394.7 605.1,391.2 609.2,388.3 613.2,386.4 618,384.8 622.8,385.9 627.6,383.5 631.6,384.3 635.7,378.4 638.1,379 641.3,381.1 645.3,379 648.5,376.8 652.5,372.3 656.5,368.3 659.7,365.8 663.8,364.6 666.2,367.4 668.6,365.8 670.2,363.9" fill="none" stroke="#ff0000" stroke-width="1.3" stroke-linejoin="round"/>
<rect x="460.7" y="279.1" width="210" height="153.7" fill="none" stroke="#5f5f5f" stroke-width="1.4"/>
<line x1="460.7" y1="394.4" x2="464.7" y2="394.4" stroke="#5f5f5f" stroke-width="1.1"/>
<line x1="460.7" y1="356" x2="464.7" y2="356" stroke="#5f5f5f" stroke-width="1.1"/>
<line x1="460.7" y1="317.5" x2="464.7" y2="317.5" stroke="#5f5f5f" stroke-width="1.1"/>
<line x1="502.7" y1="432.8" x2="502.7" y2="428.8" stroke="#5f5f5f" stroke-width="1.1"/>
<line x1="544.7" y1="432.8" x2="544.7" y2="428.8" stroke="#5f5f5f" stroke-width="1.1"/>
<line x1="586.7" y1="432.8" x2="586.7" y2="428.8" stroke="#5f5f5f" stroke-width="1.1"/>
<line x1="628.7" y1="432.8" x2="628.7" y2="428.8" stroke="#5f5f5f" stroke-width="1.1"/>
<text x="456.3" y="436" font-size="12.3" text-anchor="end" font-family="Liberation Sans, sans-serif">700</text>
<text x="456.3" y="397.6" font-size="12.3" text-anchor="end" font-family="Liberation Sans, sans-serif">750</text>
<text x="456.3" y="359.2" font-size="12.3" text-anchor="end" font-family="Liberation Sans, sans-serif">800</text>
<text x="456.3" y="320.7" font-size="12.3" text-anchor="end" font-family="Liberation Sans, sans-serif">850</text>
<text x="456.3" y="282.3" font-size="12.3" text-anchor="end" font-family="Liberation Sans, sans-serif">900</text>
<text x="460.7" y="447.2" font-size="12.3" text-anchor="middle" font-family="Liberation Sans, sans-serif">0</text>
<text x="502.7" y="447.2" font-size="12.3" text-anchor="middle" font-family="Liberation Sans, sans-serif">10</text>
<text x="544.7" y="447.2" font-size="12.3" text-anchor="middle" font-family="Liberation Sans, sans-serif">20</text>
<text x="586.7" y="447.2" font-size="12.3" text-anchor="middle" font-family="Liberation Sans, sans-serif">30</text>
<text x="628.7" y="447.2" font-size="12.3" text-anchor="middle" font-family="Liberation Sans, sans-serif">40</text>
<text x="670.7" y="447.2" font-size="12.3" text-anchor="middle" font-family="Liberation Sans, sans-serif">50</text>
<text x="567.6" y="464.2" font-size="17.3" text-anchor="middle" font-family="Liberation Sans, sans-serif">Lateral position (μm)</text>
<text transform="translate(427,357.8) rotate(-90)" font-size="17.6" text-anchor="middle" font-family="Liberation Sans, sans-serif">Axial response (nm)</text>
<rect x="596.4" y="282.5" width="68.3" height="27.2" fill="#fff" stroke="#999" stroke-width="0.8"/>
<line x1="599.6" y1="290.5" x2="619.5" y2="290.5" stroke="#000" stroke-width="1.3"/>
<line x1="599.6" y1="304" x2="619.5" y2="304" stroke="#ff0000" stroke-width="1.3"/>
<text x="621.4" y="294.5" font-size="10.8" font-family="Liberation Sans, sans-serif">W/O AM</text>
<text x="621.4" y="308" font-size="10.8" font-family="Liberation Sans, sans-serif">With AM</text>
<text x="8.2" y="493.8" font-size="17.6" font-family="Liberation Sans, sans-serif">(f)</text>
<text x="3.6" y="657.3" font-size="17.6" font-family="Liberation Sans, sans-serif">(g)</text>
<rect x="36" y="503" width="83.3" height="105.5" fill="rgb(0,4,148)"/>
<rect x="35" y="637.8" width="84.2" height="106.4" fill="rgb(0,4,148)"/>
<defs><filter id="bf1" x="-50%" y="-50%" width="200%" height="200%"><feGaussianBlur stdDeviation="2.6"/></filter><filter id="bf2" x="-50%" y="-50%" width="200%" height="200%"><feGaussianBlur stdDeviation="1.4"/></filter><filter id="bf3" x="-50%" y="-50%" width="200%" height="200%"><feGaussianBlur stdDeviation="0.9"/></filter><clipPath id="clipf"><rect x="36" y="503" width="83.3" height="105.5"/></clipPath><clipPath id="clipg"><rect x="35" y="637.8" width="84.2" height="106.4"/></clipPath></defs>
<g clip-path="url(#clipf)"><g filter="url(#bf1)"><rect x="67.3" y="519" width="17" height="77" rx="8.5" ry="21.2" fill="rgb(0,50,240)"/></g><g filter="url(#bf2)"><rect x="70.9" y="524" width="9.8" height="67" rx="4.9" ry="12.2" fill="rgb(0,210,255)"/><rect x="72" y="529" width="7.6" height="58" rx="3.8" ry="9.5" fill="rgb(120,255,140)"/><rect x="72.6" y="536" width="6.3" height="45" rx="3.1" ry="7.9" fill="rgb(255,230,0)"/></g><g filter="url(#bf3)"><rect x="73.9" y="546" width="3.8" height="26" rx="1.9" ry="4.8" fill="rgb(245,60,0)"/><rect x="74.5" y="551" width="2.2" height="15" rx="1.1" ry="2.8" fill="rgb(200,0,0)"/></g></g>
<g clip-path="url(#clipg)"><g filter="url(#bf1)"><rect x="67.8" y="645" width="17" height="93" rx="8.5" ry="21.2" fill="rgb(0,50,240)"/></g><g filter="url(#bf2)"><rect x="71" y="660" width="10.5" height="23" rx="5.2" ry="11.5" fill="rgb(0,210,255)"/><rect x="72.5" y="672" width="7.5" height="28" rx="3.8" ry="9.4" fill="rgb(0,210,255)"/><rect x="70.3" y="695" width="12" height="34" rx="6" ry="15" fill="rgb(0,210,255)"/><rect x="72.5" y="664" width="7.5" height="36" rx="3.8" ry="9.4" fill="rgb(120,255,140)"/><rect x="71.8" y="696" width="9" height="29" rx="4.5" ry="11.2" fill="rgb(120,255,140)"/><rect x="72.8" y="664" width="7" height="16" rx="3.5" ry="8" fill="rgb(255,230,0)"/><rect x="72" y="698" width="8.5" height="24" rx="4.2" ry="10.6" fill="rgb(255,230,0)"/></g><g filter="url(#bf3)"><rect x="74" y="666.5" width="4.6" height="9.5" rx="2.3" ry="4.8" fill="rgb(245,60,0)"/><rect x="73.5" y="702" width="5.5" height="15" rx="2.8" ry="6.9" fill="rgb(245,60,0)"/><rect x="74.8" y="705" width="3" height="9" rx="1.5" ry="3.8" fill="rgb(190,0,0)"/></g></g>
<line x1="35.5" y1="502.5" x2="125" y2="502.5" stroke="#000" stroke-width="2.4"/>
<path d="M131.8,502.5 L124,498.8 L124,506.2 Z" fill="#000"/>
<line x1="35.5" y1="501.3" x2="35.5" y2="616" stroke="#000" stroke-width="2.4"/>
<path d="M35.5,622.8 L31.7,615 L39.3,615 Z" fill="#000"/>
<text x="110.6" y="493" font-size="23.5" font-style="italic" font-family="Liberation Serif, serif">x</text>
<text x="14" y="616.5" font-size="21.5" font-style="italic" font-family="Liberation Serif, serif">z</text>
<text x="38.3" y="520" font-size="19" font-style="italic" fill="#fff" font-family="Liberation Serif, serif">x-z</text>
<rect x="41.6" y="580.3" width="4.8" height="21" fill="#fff"/>
<defs><linearGradient id="jet" x1="0" y1="1" x2="0" y2="0"><stop offset="0" stop-color="#00008f"/><stop offset="0.11" stop-color="#0000ff"/><stop offset="0.36" stop-color="#00ffff"/><stop offset="0.5" stop-color="#80ff80"/><stop offset="0.62" stop-color="#ffff00"/><stop offset="0.87" stop-color="#ff0000"/><stop offset="1" stop-color="#800000"/></linearGradient></defs>
<rect x="130.2" y="545.5" width="11.2" height="125.2" fill="url(#jet)" stroke="#9a9a9a" stroke-width="0.5"/>
<text x="144.8" y="552.6" font-size="13.5" font-family="Liberation Sans, sans-serif">1</text>
<text x="145.5" y="675.5" font-size="12.5" font-family="Liberation Sans, sans-serif">0</text>
<text x="224.7" y="493.8" font-size="17.6" font-family="Liberation Sans, sans-serif">(h)</text>
<circle cx="345.6" cy="589.4" r="2.1" fill="#000" fill-opacity="0.22"/><circle cx="300.6" cy="670.2" r="2.1" fill="#000" fill-opacity="0.22"/><circle cx="285.3" cy="692.2" r="2.1" fill="#000" fill-opacity="0.18"/><circle cx="369.7" cy="542.4" r="2.1" fill="#000" fill-opacity="0.35"/><circle cx="379.5" cy="570.2" r="2.1" fill="#000" fill-opacity="0.18"/><circle cx="279.5" cy="693" r="2.1" fill="#000" fill-opacity="0.35"/><circle cx="324.4" cy="606.3" r="2.1" fill="#000" fill-opacity="0.28"/><circle cx="353.6" cy="549.1" r="2.1" fill="#000" fill-opacity="0.18"/><circle cx="388.6" cy="598.3" r="2.1" fill="#000" fill-opacity="0.18"/><circle cx="364.2" cy="535.3" r="2.1" fill="#000" fill-opacity="0.18"/><circle cx="430.7" cy="689.7" r="2.1" fill="#000" fill-opacity="0.18"/><circle cx="348.6" cy="552.7" r="2.1" fill="#000" fill-opacity="0.22"/><circle cx="400.5" cy="639.2" r="2.1" fill="#000" fill-opacity="0.35"/><circle cx="397" cy="624.1" r="2.1" fill="#000" fill-opacity="0.18"/><circle cx="347.7" cy="577.9" r="2.1" fill="#000" fill-opacity="0.22"/><circle cx="435.3" cy="691.4" r="2.1" fill="#000" fill-opacity="0.35"/><circle cx="340.3" cy="590.6" r="2.1" fill="#000" fill-opacity="0.28"/><circle cx="437.4" cy="684.9" r="2.1" fill="#000" fill-opacity="0.18"/><circle cx="276.6" cy="686.1" r="2.1" fill="#000" fill-opacity="0.28"/><circle cx="409.2" cy="662.8" r="2.1" fill="#000" fill-opacity="0.18"/><circle cx="284.7" cy="694" r="2.1" fill="#000" fill-opacity="0.28"/><circle cx="374.2" cy="544.9" r="2.1" fill="#000" fill-opacity="0.22"/><circle cx="415.3" cy="676.6" r="2.1" fill="#000" fill-opacity="0.22"/><circle cx="391.5" cy="593.7" r="2.1" fill="#000" fill-opacity="0.35"/><circle cx="417.9" cy="681.6" r="2.1" fill="#000" fill-opacity="0.35"/><circle cx="277.5" cy="691.6" r="2.1" fill="#000" fill-opacity="0.35"/><circle cx="312.7" cy="615.4" r="2.1" fill="#000" fill-opacity="0.22"/><circle cx="425.8" cy="685.1" r="2.1" fill="#000" fill-opacity="0.18"/><circle cx="316.6" cy="614.5" r="2.1" fill="#000" fill-opacity="0.22"/><circle cx="395.5" cy="616.7" r="2.1" fill="#000" fill-opacity="0.18"/><circle cx="299.2" cy="673" r="2.1" fill="#000" fill-opacity="0.28"/><circle cx="292.8" cy="687.3" r="2.1" fill="#000" fill-opacity="0.22"/><circle cx="368.7" cy="542.5" r="2.1" fill="#000" fill-opacity="0.35"/><circle cx="422.6" cy="684.7" r="2.1" fill="#000" fill-opacity="0.18"/><circle cx="350.6" cy="558.9" r="2.1" fill="#000" fill-opacity="0.18"/><circle cx="345.7" cy="578.1" r="2.1" fill="#000" fill-opacity="0.18"/><circle cx="421" cy="682.5" r="2.1" fill="#000" fill-opacity="0.28"/><circle cx="328.7" cy="613" r="2.1" fill="#000" fill-opacity="0.18"/><circle cx="416.1" cy="681.2" r="2.1" fill="#000" fill-opacity="0.18"/><circle cx="374.6" cy="547.6" r="2.1" fill="#000" fill-opacity="0.18"/><circle cx="371.9" cy="537.9" r="2.1" fill="#000" fill-opacity="0.35"/><circle cx="392" cy="607.5" r="2.1" fill="#000" fill-opacity="0.35"/><circle cx="343.6" cy="574" r="2.1" fill="#000" fill-opacity="0.18"/><circle cx="321.7" cy="595.6" r="2.1" fill="#000" fill-opacity="0.18"/><circle cx="353.2" cy="549" r="2.1" fill="#000" fill-opacity="0.35"/><circle cx="312.5" cy="619.6" r="2.1" fill="#000" fill-opacity="0.22"/><circle cx="356.7" cy="545.7" r="2.1" fill="#000" fill-opacity="0.28"/><circle cx="380.5" cy="584.2" r="2.1" fill="#000" fill-opacity="0.28"/><circle cx="302.9" cy="666.5" r="2.1" fill="#000" fill-opacity="0.22"/><circle cx="334.2" cy="590.4" r="2.1" fill="#000" fill-opacity="0.28"/><circle cx="304.8" cy="649.4" r="2.1" fill="#000" fill-opacity="0.18"/><circle cx="389.2" cy="596.9" r="2.1" fill="#000" fill-opacity="0.28"/><circle cx="407.8" cy="656" r="2.1" fill="#000" fill-opacity="0.35"/><circle cx="333.9" cy="591" r="2.1" fill="#000" fill-opacity="0.28"/><circle cx="390" cy="593.2" r="2.1" fill="#000" fill-opacity="0.18"/><circle cx="316.3" cy="618" r="2.1" fill="#000" fill-opacity="0.28"/><circle cx="321.5" cy="605.2" r="2.1" fill="#000" fill-opacity="0.35"/><circle cx="301.5" cy="663.6" r="2.1" fill="#000" fill-opacity="0.18"/><circle cx="435.1" cy="693.7" r="2.1" fill="#000" fill-opacity="0.28"/><circle cx="430.8" cy="687.5" r="2.1" fill="#000" fill-opacity="0.22"/><circle cx="408.1" cy="660.9" r="2.1" fill="#000" fill-opacity="0.18"/><circle cx="299.6" cy="662" r="2.1" fill="#000" fill-opacity="0.22"/><circle cx="335.7" cy="583.9" r="2.1" fill="#000" fill-opacity="0.22"/><circle cx="284.2" cy="688.2" r="2.1" fill="#000" fill-opacity="0.35"/><circle cx="302.6" cy="659.7" r="2.1" fill="#000" fill-opacity="0.28"/><circle cx="347.5" cy="566.3" r="2.1" fill="#000" fill-opacity="0.22"/><circle cx="286.2" cy="688" r="2.1" fill="#000" fill-opacity="0.18"/><circle cx="305.4" cy="656.8" r="2.1" fill="#000" fill-opacity="0.18"/><circle cx="433.9" cy="696.1" r="2.1" fill="#000" fill-opacity="0.18"/><circle cx="328.1" cy="595.2" r="2.1" fill="#000" fill-opacity="0.28"/><circle cx="351.5" cy="549.6" r="2.1" fill="#000" fill-opacity="0.18"/><circle cx="298.6" cy="673.6" r="2.1" fill="#000" fill-opacity="0.22"/><circle cx="437.7" cy="694" r="2.1" fill="#000" fill-opacity="0.35"/><circle cx="428.6" cy="695.8" r="2.1" fill="#000" fill-opacity="0.22"/><circle cx="343.4" cy="591.5" r="2.1" fill="#000" fill-opacity="0.22"/><circle cx="357.5" cy="552.3" r="2.1" fill="#000" fill-opacity="0.28"/><circle cx="321.9" cy="616.2" r="2.1" fill="#000" fill-opacity="0.22"/><circle cx="320.7" cy="594.1" r="2.1" fill="#000" fill-opacity="0.35"/><circle cx="303.3" cy="658.7" r="2.1" fill="#000" fill-opacity="0.18"/><circle cx="371.3" cy="523.3" r="2.1" fill="#000" fill-opacity="0.35"/><circle cx="361" cy="537.6" r="2.1" fill="#000" fill-opacity="0.18"/><circle cx="352.1" cy="555.9" r="2.1" fill="#000" fill-opacity="0.35"/><circle cx="424.4" cy="686.6" r="2.1" fill="#000" fill-opacity="0.35"/><circle cx="314.8" cy="621.7" r="2.1" fill="#000" fill-opacity="0.35"/><circle cx="357.8" cy="542.1" r="2.1" fill="#000" fill-opacity="0.28"/><circle cx="291.3" cy="686.4" r="2.1" fill="#000" fill-opacity="0.18"/><circle cx="275.5" cy="694.2" r="2.1" fill="#000" fill-opacity="0.28"/><circle cx="310.6" cy="638" r="2.1" fill="#000" fill-opacity="0.28"/><circle cx="390.3" cy="605.8" r="2.1" fill="#000" fill-opacity="0.35"/><circle cx="273.4" cy="697.9" r="2.1" fill="#000" fill-opacity="0.22"/><circle cx="414.8" cy="678.9" r="2.1" fill="#000" fill-opacity="0.22"/><circle cx="358.6" cy="535.8" r="2.1" fill="#000" fill-opacity="0.22"/><circle cx="423.4" cy="688.1" r="2.1" fill="#000" fill-opacity="0.28"/><circle cx="421.4" cy="683.7" r="2.1" fill="#000" fill-opacity="0.22"/><circle cx="400.5" cy="630.2" r="2.1" fill="#000" fill-opacity="0.22"/><circle cx="391.7" cy="595.2" r="2.1" fill="#000" fill-opacity="0.35"/><circle cx="360.9" cy="531.2" r="2.1" fill="#000" fill-opacity="0.22"/><circle cx="337.3" cy="590.4" r="2.1" fill="#000" fill-opacity="0.28"/><circle cx="422.8" cy="682.5" r="2.1" fill="#000" fill-opacity="0.28"/><circle cx="354.1" cy="551.6" r="2.1" fill="#000" fill-opacity="0.22"/><circle cx="404.6" cy="652.9" r="2.1" fill="#000" fill-opacity="0.35"/><circle cx="294.2" cy="681.9" r="2.1" fill="#000" fill-opacity="0.28"/><circle cx="425.4" cy="679.5" r="2.1" fill="#000" fill-opacity="0.35"/><circle cx="282.6" cy="690.4" r="2.1" fill="#000" fill-opacity="0.28"/><circle cx="341.9" cy="574.9" r="2.1" fill="#000" fill-opacity="0.18"/><circle cx="376.2" cy="553.7" r="2.1" fill="#000" fill-opacity="0.28"/><circle cx="393.9" cy="617.6" r="2.1" fill="#000" fill-opacity="0.22"/><circle cx="371.3" cy="525.7" r="2.1" fill="#000" fill-opacity="0.18"/><circle cx="404.4" cy="654.1" r="2.1" fill="#000" fill-opacity="0.35"/><circle cx="365.3" cy="554.7" r="2.1" fill="#000" fill-opacity="0.28"/><circle cx="316.5" cy="617.2" r="2.1" fill="#000" fill-opacity="0.35"/><circle cx="291.9" cy="687.2" r="2.1" fill="#000" fill-opacity="0.35"/><circle cx="398.2" cy="634.6" r="2.1" fill="#000" fill-opacity="0.22"/><circle cx="281.4" cy="695" r="2.1" fill="#000" fill-opacity="0.28"/><circle cx="436.2" cy="691.3" r="2.1" fill="#000" fill-opacity="0.28"/><circle cx="326.3" cy="608.1" r="2.1" fill="#000" fill-opacity="0.35"/><circle cx="356.1" cy="558.2" r="2.1" fill="#000" fill-opacity="0.22"/><circle cx="387.5" cy="577.9" r="2.1" fill="#000" fill-opacity="0.18"/><circle cx="393.8" cy="614" r="2.1" fill="#000" fill-opacity="0.22"/><circle cx="378.5" cy="558.9" r="2.1" fill="#000" fill-opacity="0.28"/><circle cx="362" cy="568.8" r="2.1" fill="#000" fill-opacity="0.18"/><circle cx="376.8" cy="562.8" r="2.1" fill="#000" fill-opacity="0.18"/><circle cx="361.9" cy="554.6" r="2.1" fill="#000" fill-opacity="0.22"/><circle cx="334.4" cy="612.3" r="2.1" fill="#000" fill-opacity="0.35"/><circle cx="360.7" cy="551.4" r="2.1" fill="#000" fill-opacity="0.28"/><circle cx="358.1" cy="550.7" r="2.1" fill="#000" fill-opacity="0.28"/><circle cx="358.7" cy="552" r="2.1" fill="#000" fill-opacity="0.28"/><circle cx="274" cy="694.3" r="2.1" fill="#000" fill-opacity="0.18"/><circle cx="376" cy="564.7" r="2.1" fill="#000" fill-opacity="0.28"/><circle cx="395.4" cy="606.3" r="2.1" fill="#000" fill-opacity="0.18"/><circle cx="403.7" cy="644.5" r="2.1" fill="#000" fill-opacity="0.22"/><circle cx="277.1" cy="696.2" r="2.1" fill="#000" fill-opacity="0.22"/><circle cx="434.2" cy="697.1" r="2.1" fill="#000" fill-opacity="0.18"/><circle cx="278" cy="695.3" r="2.1" fill="#000" fill-opacity="0.28"/><circle cx="358.4" cy="529.3" r="2.1" fill="#000" fill-opacity="0.35"/><circle cx="370.6" cy="542.7" r="2.1" fill="#000" fill-opacity="0.35"/><circle cx="330.7" cy="590.1" r="2.1" fill="#000" fill-opacity="0.28"/><circle cx="393" cy="615.5" r="2.1" fill="#000" fill-opacity="0.28"/><circle cx="315.7" cy="612.8" r="2.1" fill="#000" fill-opacity="0.22"/><circle cx="376" cy="554" r="2.1" fill="#000" fill-opacity="0.22"/><circle cx="417.4" cy="676.2" r="2.1" fill="#000" fill-opacity="0.35"/><circle cx="274" cy="692.7" r="2.1" fill="#000" fill-opacity="0.18"/><circle cx="423.1" cy="683" r="2.1" fill="#000" fill-opacity="0.35"/><circle cx="350" cy="546" r="2.1" fill="#000" fill-opacity="0.18"/><circle cx="404.5" cy="645" r="2.1" fill="#000" fill-opacity="0.22"/><circle cx="344.3" cy="567.2" r="2.1" fill="#000" fill-opacity="0.22"/><circle cx="379.5" cy="561.2" r="2.1" fill="#000" fill-opacity="0.22"/><circle cx="341.5" cy="582" r="2.1" fill="#000" fill-opacity="0.18"/><circle cx="347.2" cy="571.5" r="2.1" fill="#000" fill-opacity="0.35"/><circle cx="406.7" cy="652.1" r="2.1" fill="#000" fill-opacity="0.18"/><circle cx="282.3" cy="692" r="2.1" fill="#000" fill-opacity="0.28"/><circle cx="352.7" cy="552.5" r="2.1" fill="#000" fill-opacity="0.22"/><circle cx="329.7" cy="607.5" r="2.1" fill="#000" fill-opacity="0.28"/><circle cx="422" cy="684.7" r="2.1" fill="#000" fill-opacity="0.28"/><circle cx="343.2" cy="568.8" r="2.1" fill="#000" fill-opacity="0.28"/><circle cx="346.6" cy="563.8" r="2.1" fill="#000" fill-opacity="0.22"/><circle cx="283.7" cy="685.5" r="2.1" fill="#000" fill-opacity="0.18"/><circle cx="330.6" cy="602.6" r="2.1" fill="#000" fill-opacity="0.28"/><circle cx="403.6" cy="658.4" r="2.1" fill="#000" fill-opacity="0.22"/><circle cx="284.6" cy="693.5" r="2.1" fill="#000" fill-opacity="0.28"/><circle cx="406.1" cy="654.7" r="2.1" fill="#000" fill-opacity="0.28"/><circle cx="432.1" cy="693.1" r="2.1" fill="#000" fill-opacity="0.28"/><circle cx="402.1" cy="643.2" r="2.1" fill="#000" fill-opacity="0.28"/><circle cx="283.8" cy="692" r="2.1" fill="#000" fill-opacity="0.22"/><circle cx="285.9" cy="690.3" r="2.1" fill="#000" fill-opacity="0.35"/><circle cx="398.3" cy="638.9" r="2.1" fill="#000" fill-opacity="0.35"/><circle cx="335.9" cy="604.1" r="2.1" fill="#000" fill-opacity="0.35"/><circle cx="351.6" cy="534.1" r="2.1" fill="#000" fill-opacity="0.18"/><circle cx="388.6" cy="593.6" r="2.1" fill="#000" fill-opacity="0.28"/><circle cx="413.1" cy="672.8" r="2.1" fill="#000" fill-opacity="0.18"/><circle cx="419" cy="675" r="2.1" fill="#000" fill-opacity="0.18"/><circle cx="404.5" cy="653.4" r="2.1" fill="#000" fill-opacity="0.35"/><circle cx="423.5" cy="684.6" r="2.1" fill="#000" fill-opacity="0.22"/><circle cx="323.5" cy="600.6" r="2.1" fill="#000" fill-opacity="0.28"/><circle cx="315.6" cy="610.7" r="2.1" fill="#000" fill-opacity="0.28"/><circle cx="378.5" cy="573" r="2.1" fill="#000" fill-opacity="0.22"/><circle cx="423" cy="684.1" r="2.1" fill="#000" fill-opacity="0.18"/><circle cx="322.1" cy="602.8" r="2.1" fill="#000" fill-opacity="0.35"/><circle cx="369.6" cy="533.1" r="2.1" fill="#000" fill-opacity="0.22"/><circle cx="422.7" cy="681.5" r="2.1" fill="#000" fill-opacity="0.35"/><circle cx="413.1" cy="674.6" r="2.1" fill="#000" fill-opacity="0.18"/><circle cx="350.7" cy="537.8" r="2.1" fill="#000" fill-opacity="0.35"/><circle cx="433.7" cy="689.1" r="2.1" fill="#000" fill-opacity="0.28"/><circle cx="402" cy="633.9" r="2.1" fill="#000" fill-opacity="0.35"/><circle cx="421.8" cy="680.3" r="2.1" fill="#000" fill-opacity="0.22"/><circle cx="389.5" cy="604.6" r="2.1" fill="#000" fill-opacity="0.28"/><circle cx="293.9" cy="677.2" r="2.1" fill="#000" fill-opacity="0.28"/><circle cx="356.3" cy="530.8" r="2.1" fill="#000" fill-opacity="0.22"/><circle cx="407.7" cy="651.7" r="2.1" fill="#000" fill-opacity="0.28"/><circle cx="373" cy="572.5" r="2.1" fill="#000" fill-opacity="0.18"/><circle cx="430.3" cy="690.6" r="2.1" fill="#000" fill-opacity="0.28"/><circle cx="272.7" cy="694" r="2.1" fill="#000" fill-opacity="0.35"/><circle cx="304.6" cy="650.4" r="2.1" fill="#000" fill-opacity="0.35"/><circle cx="296" cy="676.5" r="2.1" fill="#000" fill-opacity="0.18"/><circle cx="363.1" cy="526.3" r="2.1" fill="#000" fill-opacity="0.18"/><circle cx="385.1" cy="581.3" r="2.1" fill="#000" fill-opacity="0.18"/><circle cx="379.5" cy="555.2" r="2.1" fill="#000" fill-opacity="0.22"/><circle cx="318.9" cy="600.9" r="2.1" fill="#000" fill-opacity="0.22"/><circle cx="421.2" cy="687.5" r="2.1" fill="#000" fill-opacity="0.28"/><circle cx="430" cy="694.4" r="2.1" fill="#000" fill-opacity="0.18"/><circle cx="312.6" cy="614.9" r="2.1" fill="#000" fill-opacity="0.28"/><circle cx="364.2" cy="543.4" r="2.1" fill="#000" fill-opacity="0.18"/><circle cx="286.6" cy="693.6" r="2.1" fill="#000" fill-opacity="0.22"/><circle cx="383.5" cy="583.5" r="2.1" fill="#000" fill-opacity="0.35"/><circle cx="369.2" cy="551.3" r="2.1" fill="#000" fill-opacity="0.18"/><circle cx="342.5" cy="574" r="2.1" fill="#000" fill-opacity="0.28"/><circle cx="424.4" cy="688.8" r="2.1" fill="#000" fill-opacity="0.22"/><circle cx="407.7" cy="657.2" r="2.1" fill="#000" fill-opacity="0.28"/><circle cx="424.5" cy="689.2" r="2.1" fill="#000" fill-opacity="0.28"/><circle cx="434.7" cy="694.7" r="2.1" fill="#000" fill-opacity="0.18"/><circle cx="313.4" cy="620.3" r="2.1" fill="#000" fill-opacity="0.35"/><circle cx="304" cy="651.4" r="2.1" fill="#000" fill-opacity="0.22"/><circle cx="312.2" cy="623.1" r="2.1" fill="#000" fill-opacity="0.28"/><circle cx="361.7" cy="540.7" r="2.1" fill="#000" fill-opacity="0.22"/><circle cx="435.5" cy="696.3" r="2.1" fill="#000" fill-opacity="0.22"/><circle cx="365" cy="535.3" r="2.1" fill="#000" fill-opacity="0.22"/><circle cx="310.7" cy="639.6" r="2.1" fill="#000" fill-opacity="0.28"/><circle cx="324.9" cy="597.7" r="2.1" fill="#000" fill-opacity="0.18"/><circle cx="345.6" cy="574.3" r="2.1" fill="#000" fill-opacity="0.22"/><circle cx="421.6" cy="686.8" r="2.1" fill="#000" fill-opacity="0.28"/><circle cx="297.9" cy="675.7" r="2.1" fill="#000" fill-opacity="0.28"/><circle cx="370.7" cy="523.2" r="2.1" fill="#000" fill-opacity="0.28"/><circle cx="310" cy="639.8" r="2.1" fill="#000" fill-opacity="0.18"/><circle cx="345.9" cy="582.6" r="2.1" fill="#000" fill-opacity="0.22"/><circle cx="321.3" cy="599.7" r="2.1" fill="#000" fill-opacity="0.35"/><circle cx="373" cy="551.7" r="2.1" fill="#000" fill-opacity="0.35"/><circle cx="348.2" cy="558.1" r="2.1" fill="#000" fill-opacity="0.22"/><circle cx="326.1" cy="597.1" r="2.1" fill="#000" fill-opacity="0.18"/><circle cx="377.5" cy="539.8" r="2.1" fill="#000" fill-opacity="0.35"/><circle cx="370.5" cy="552.6" r="2.1" fill="#000" fill-opacity="0.35"/>
<path d="M269.5,694.8 C269.8,694.8 270.6,694.8 271.2,694.7 C271.7,694.7 272.3,694.7 272.9,694.6 C273.4,694.6 274,694.6 274.5,694.5 C275.1,694.5 275.7,694.4 276.2,694.3 C276.8,694.3 277.4,694.2 277.9,694.1 C278.5,694 279,693.9 279.6,693.8 C280.2,693.7 280.7,693.6 281.3,693.4 C281.8,693.3 282.4,693.1 283,692.9 C283.5,692.7 284.1,692.5 284.6,692.2 C285.2,691.9 285.8,691.6 286.3,691.3 C286.9,690.9 287.4,690.5 288,690.1 C288.6,689.6 289.1,689.1 289.7,688.5 C290.3,688 290.8,687.3 291.4,686.6 C291.9,685.9 292.5,685.1 293.1,684.2 C293.6,683.3 294.2,682.4 294.7,681.3 C295.3,680.2 295.9,679.1 296.4,677.8 C297,676.6 297.5,675.2 298.1,673.8 C298.7,672.3 299.2,670.8 299.8,669.1 C300.3,667.5 300.9,665.8 301.5,664 C302,662.2 302.6,660.2 303.1,658.3 C303.7,656.4 304.3,654.3 304.8,652.3 C305.4,650.3 306,648.2 306.5,646.1 C307.1,644 307.6,641.9 308.2,639.8 C308.8,637.8 309.3,635.7 309.9,633.7 C310.4,631.8 311,629.8 311.6,628 C312.1,626.1 312.7,624.3 313.2,622.7 C313.8,621 314.4,619.5 314.9,618 C315.5,616.6 316,615.2 316.6,614 C317.2,612.8 317.7,611.8 318.3,610.8 C318.9,609.9 319.4,609 320,608.3 C320.5,607.5 321.1,606.9 321.7,606.4 C322.2,605.8 322.8,605.4 323.3,604.9 C323.9,604.5 324.5,604.2 325,603.8 C325.6,603.5 326.1,603.2 326.7,602.9 C327.3,602.5 327.8,602.2 328.4,601.8 C328.9,601.5 329.5,601.1 330.1,600.6 C330.6,600.2 331.2,599.7 331.8,599.1 C332.3,598.5 332.9,597.9 333.4,597.2 C334,596.4 334.6,595.6 335.1,594.7 C335.7,593.8 336.2,592.9 336.8,591.8 C337.4,590.7 337.9,589.6 338.5,588.4 C339,587.2 339.6,585.9 340.2,584.6 C340.7,583.3 341.3,581.9 341.8,580.5 C342.4,579.1 343,577.6 343.5,576.2 C344.1,574.7 344.7,573.2 345.2,571.7 C345.8,570.2 346.3,568.7 346.9,567.3 C347.5,565.8 348,564.3 348.6,562.9 C349.1,561.5 349.7,560.1 350.3,558.8 C350.8,557.4 351.4,556.2 351.9,554.9 C352.5,553.7 353.1,552.6 353.6,551.5 C354.2,550.4 354.7,549.4 355.3,548.5 C355.9,547.6 356.4,546.7 357,546 C357.6,545.2 358.1,544.6 358.7,544 C359.2,543.5 359.8,543 360.4,542.7 C360.9,542.3 361.5,542.1 362,541.9 C362.6,541.8 363.2,541.8 363.7,541.8 C364.3,541.9 364.8,542.1 365.4,542.4 C366,542.6 366.5,543 367.1,543.5 C367.6,544 368.2,544.6 368.8,545.3 C369.3,546 369.9,546.8 370.4,547.7 C371,548.6 371.6,549.6 372.1,550.6 C372.7,551.7 373.3,552.9 373.8,554.1 C374.4,555.3 374.9,556.7 375.5,558.1 C376.1,559.5 376.6,560.9 377.2,562.5 C377.7,564 378.3,565.6 378.9,567.3 C379.4,568.9 380,570.7 380.5,572.4 C381.1,574.2 381.7,576 382.2,577.8 C382.8,579.7 383.3,581.6 383.9,583.5 C384.5,585.4 385,587.4 385.6,589.3 C386.2,591.3 386.7,593.3 387.3,595.3 C387.8,597.3 388.4,599.3 389,601.3 C389.5,603.3 390.1,605.3 390.6,607.3 C391.2,609.3 391.8,611.3 392.3,613.2 C392.9,615.2 393.4,617.2 394,619.1 C394.6,621.1 395.1,623 395.7,624.9 C396.2,626.8 396.8,628.6 397.4,630.5 C397.9,632.3 398.5,634.1 399.1,635.9 C399.6,637.6 400.2,639.3 400.7,641 C401.3,642.7 401.9,644.3 402.4,645.9 C403,647.5 403.5,649.1 404.1,650.6 C404.7,652.1 405.2,653.6 405.8,655 C406.3,656.4 406.9,657.8 407.5,659.1 C408,660.4 408.6,661.7 409.1,662.9 C409.7,664.1 410.3,665.3 410.8,666.4 C411.4,667.6 412,668.7 412.5,669.7 C413.1,670.7 413.6,671.7 414.2,672.7 C414.8,673.6 415.3,674.5 415.9,675.4 C416.4,676.2 417,677.1 417.6,677.8 C418.1,678.6 418.7,679.3 419.2,680 C419.8,680.7 420.4,681.4 420.9,682 C421.5,682.7 422,683.2 422.6,683.8 C423.2,684.4 423.7,684.9 424.3,685.4 C424.9,685.9 425.4,686.3 426,686.7 C426.5,687.2 427.1,687.6 427.7,688 C428.2,688.3 428.8,688.7 429.3,689 C429.9,689.4 430.5,689.7 431,690 C431.6,690.2 432.1,690.5 432.7,690.8 C433.3,691 433.8,691.2 434.4,691.4 C434.9,691.7 435.5,691.9 436.1,692 C436.6,692.2 437.5,692.5 437.8,692.5" fill="none" stroke="#0000ff" stroke-width="2.6" stroke-linecap="round"/>
<rect x="253.6" y="500.8" width="200.8" height="211.6" fill="none" stroke="#555" stroke-width="1.2"/>
<line x1="253.6" y1="695" x2="257.6" y2="695" stroke="#555" stroke-width="1.1"/>
<text x="248" y="700.6" font-size="16.5" text-anchor="end" font-family="Liberation Sans, sans-serif">0.0</text>
<line x1="253.6" y1="659.6" x2="257.6" y2="659.6" stroke="#555" stroke-width="1.1"/>
<text x="248" y="665.2" font-size="16.5" text-anchor="end" font-family="Liberation Sans, sans-serif">0.2</text>
<line x1="253.6" y1="624.2" x2="257.6" y2="624.2" stroke="#555" stroke-width="1.1"/>
<text x="248" y="629.8" font-size="16.5" text-anchor="end" font-family="Liberation Sans, sans-serif">0.4</text>
<line x1="253.6" y1="588.8" x2="257.6" y2="588.8" stroke="#555" stroke-width="1.1"/>
<text x="248" y="594.4" font-size="16.5" text-anchor="end" font-family="Liberation Sans, sans-serif">0.6</text>
<line x1="253.6" y1="553.4" x2="257.6" y2="553.4" stroke="#555" stroke-width="1.1"/>
<text x="248" y="559" font-size="16.5" text-anchor="end" font-family="Liberation Sans, sans-serif">0.8</text>
<line x1="253.6" y1="518" x2="257.6" y2="518" stroke="#555" stroke-width="1.1"/>
<text x="248" y="523.6" font-size="16.5" text-anchor="end" font-family="Liberation Sans, sans-serif">1.0</text>
<line x1="269.5" y1="712.4" x2="269.5" y2="708.4" stroke="#555" stroke-width="1.1"/>
<text x="269.5" y="729.9" font-size="16.5" text-anchor="middle" font-family="Liberation Sans, sans-serif">0</text>
<line x1="303.1" y1="712.4" x2="303.1" y2="708.4" stroke="#555" stroke-width="1.1"/>
<text x="303.1" y="729.9" font-size="16.5" text-anchor="middle" font-family="Liberation Sans, sans-serif">1</text>
<line x1="336.8" y1="712.4" x2="336.8" y2="708.4" stroke="#555" stroke-width="1.1"/>
<text x="336.8" y="729.9" font-size="16.5" text-anchor="middle" font-family="Liberation Sans, sans-serif">2</text>
<line x1="370.4" y1="712.4" x2="370.4" y2="708.4" stroke="#555" stroke-width="1.1"/>
<text x="370.4" y="729.9" font-size="16.5" text-anchor="middle" font-family="Liberation Sans, sans-serif">3</text>
<line x1="404.1" y1="712.4" x2="404.1" y2="708.4" stroke="#555" stroke-width="1.1"/>
<text x="404.1" y="729.9" font-size="16.5" text-anchor="middle" font-family="Liberation Sans, sans-serif">4</text>
<line x1="437.8" y1="712.4" x2="437.8" y2="708.4" stroke="#555" stroke-width="1.1"/>
<text x="437.8" y="729.9" font-size="16.5" text-anchor="middle" font-family="Liberation Sans, sans-serif">5</text>
<text x="349.9" y="754.2" font-size="17.2" text-anchor="middle" font-family="Liberation Sans, sans-serif">Axial position (μm)</text>
<text x="461.2" y="493.8" font-size="17.6" font-family="Liberation Sans, sans-serif">(i)</text>
<circle cx="645" cy="651.2" r="2.1" fill="#000" fill-opacity="0.28"/><circle cx="559.2" cy="614.9" r="2.1" fill="#000" fill-opacity="0.35"/><circle cx="489.1" cy="684" r="2.1" fill="#000" fill-opacity="0.35"/><circle cx="558.8" cy="621.3" r="2.1" fill="#000" fill-opacity="0.18"/><circle cx="521.9" cy="634.3" r="2.1" fill="#000" fill-opacity="0.22"/><circle cx="652.8" cy="670.2" r="2.1" fill="#000" fill-opacity="0.28"/><circle cx="652.5" cy="673.5" r="2.1" fill="#000" fill-opacity="0.35"/><circle cx="517.1" cy="641.4" r="2.1" fill="#000" fill-opacity="0.35"/><circle cx="602.4" cy="539.1" r="2.1" fill="#000" fill-opacity="0.22"/><circle cx="586.4" cy="571" r="2.1" fill="#000" fill-opacity="0.28"/><circle cx="627.2" cy="600.8" r="2.1" fill="#000" fill-opacity="0.28"/><circle cx="639.8" cy="646.9" r="2.1" fill="#000" fill-opacity="0.22"/><circle cx="530.9" cy="578.6" r="2.1" fill="#000" fill-opacity="0.35"/><circle cx="527.4" cy="599.8" r="2.1" fill="#000" fill-opacity="0.18"/><circle cx="648.5" cy="657.5" r="2.1" fill="#000" fill-opacity="0.35"/><circle cx="554" cy="583.3" r="2.1" fill="#000" fill-opacity="0.22"/><circle cx="624.5" cy="588.3" r="2.1" fill="#000" fill-opacity="0.18"/><circle cx="545.9" cy="564.7" r="2.1" fill="#000" fill-opacity="0.35"/><circle cx="570.7" cy="627.2" r="2.1" fill="#000" fill-opacity="0.35"/><circle cx="649.4" cy="665.7" r="2.1" fill="#000" fill-opacity="0.22"/><circle cx="604.9" cy="540" r="2.1" fill="#000" fill-opacity="0.22"/><circle cx="530" cy="608.5" r="2.1" fill="#000" fill-opacity="0.28"/><circle cx="599.1" cy="542.3" r="2.1" fill="#000" fill-opacity="0.22"/><circle cx="639.9" cy="652" r="2.1" fill="#000" fill-opacity="0.22"/><circle cx="580.1" cy="618.8" r="2.1" fill="#000" fill-opacity="0.28"/><circle cx="618.8" cy="585.8" r="2.1" fill="#000" fill-opacity="0.18"/><circle cx="491" cy="680.1" r="2.1" fill="#000" fill-opacity="0.35"/><circle cx="529.2" cy="600.8" r="2.1" fill="#000" fill-opacity="0.18"/><circle cx="544.5" cy="560.3" r="2.1" fill="#000" fill-opacity="0.35"/><circle cx="623.5" cy="597" r="2.1" fill="#000" fill-opacity="0.28"/><circle cx="487.4" cy="683.2" r="2.1" fill="#000" fill-opacity="0.35"/><circle cx="521.5" cy="638.1" r="2.1" fill="#000" fill-opacity="0.35"/><circle cx="650.1" cy="671.1" r="2.1" fill="#000" fill-opacity="0.28"/><circle cx="568.9" cy="634.6" r="2.1" fill="#000" fill-opacity="0.28"/><circle cx="532.1" cy="593" r="2.1" fill="#000" fill-opacity="0.22"/><circle cx="636.7" cy="637.3" r="2.1" fill="#000" fill-opacity="0.35"/><circle cx="590.3" cy="580.9" r="2.1" fill="#000" fill-opacity="0.28"/><circle cx="533.5" cy="570" r="2.1" fill="#000" fill-opacity="0.22"/><circle cx="553" cy="598.7" r="2.1" fill="#000" fill-opacity="0.28"/><circle cx="578.9" cy="610.2" r="2.1" fill="#000" fill-opacity="0.35"/><circle cx="523.9" cy="626.7" r="2.1" fill="#000" fill-opacity="0.18"/><circle cx="592.9" cy="549.9" r="2.1" fill="#000" fill-opacity="0.28"/><circle cx="583.6" cy="610" r="2.1" fill="#000" fill-opacity="0.18"/><circle cx="529.1" cy="587.5" r="2.1" fill="#000" fill-opacity="0.18"/><circle cx="533.9" cy="578.8" r="2.1" fill="#000" fill-opacity="0.18"/><circle cx="517.6" cy="650.2" r="2.1" fill="#000" fill-opacity="0.28"/><circle cx="536.9" cy="547.1" r="2.1" fill="#000" fill-opacity="0.22"/><circle cx="493.7" cy="676.2" r="2.1" fill="#000" fill-opacity="0.22"/><circle cx="591.3" cy="597.1" r="2.1" fill="#000" fill-opacity="0.28"/><circle cx="584.2" cy="606.4" r="2.1" fill="#000" fill-opacity="0.18"/><circle cx="589.9" cy="580.4" r="2.1" fill="#000" fill-opacity="0.18"/><circle cx="514.1" cy="660" r="2.1" fill="#000" fill-opacity="0.22"/><circle cx="578" cy="602.4" r="2.1" fill="#000" fill-opacity="0.35"/><circle cx="600.2" cy="557.2" r="2.1" fill="#000" fill-opacity="0.28"/><circle cx="564.8" cy="628.7" r="2.1" fill="#000" fill-opacity="0.22"/><circle cx="547.7" cy="557.9" r="2.1" fill="#000" fill-opacity="0.35"/><circle cx="554.3" cy="592" r="2.1" fill="#000" fill-opacity="0.22"/><circle cx="522.7" cy="632.2" r="2.1" fill="#000" fill-opacity="0.35"/><circle cx="567.6" cy="624.2" r="2.1" fill="#000" fill-opacity="0.28"/><circle cx="492.7" cy="672.9" r="2.1" fill="#000" fill-opacity="0.28"/><circle cx="585.2" cy="601.5" r="2.1" fill="#000" fill-opacity="0.35"/><circle cx="626" cy="594.6" r="2.1" fill="#000" fill-opacity="0.35"/><circle cx="654.6" cy="673.7" r="2.1" fill="#000" fill-opacity="0.28"/><circle cx="496.5" cy="677.5" r="2.1" fill="#000" fill-opacity="0.28"/><circle cx="609.8" cy="520.6" r="2.1" fill="#000" fill-opacity="0.35"/><circle cx="579.6" cy="610.3" r="2.1" fill="#000" fill-opacity="0.22"/><circle cx="654.3" cy="671.4" r="2.1" fill="#000" fill-opacity="0.18"/><circle cx="592.9" cy="567.3" r="2.1" fill="#000" fill-opacity="0.22"/><circle cx="632.5" cy="635.8" r="2.1" fill="#000" fill-opacity="0.28"/><circle cx="532.7" cy="583.1" r="2.1" fill="#000" fill-opacity="0.28"/><circle cx="544.6" cy="547.9" r="2.1" fill="#000" fill-opacity="0.22"/><circle cx="622" cy="597.2" r="2.1" fill="#000" fill-opacity="0.22"/><circle cx="600.9" cy="532.7" r="2.1" fill="#000" fill-opacity="0.18"/><circle cx="650.2" cy="663.3" r="2.1" fill="#000" fill-opacity="0.18"/><circle cx="651.3" cy="666.1" r="2.1" fill="#000" fill-opacity="0.18"/><circle cx="574.3" cy="614.6" r="2.1" fill="#000" fill-opacity="0.18"/><circle cx="636.6" cy="647.7" r="2.1" fill="#000" fill-opacity="0.18"/><circle cx="599.1" cy="562.8" r="2.1" fill="#000" fill-opacity="0.22"/><circle cx="531.2" cy="595.9" r="2.1" fill="#000" fill-opacity="0.35"/><circle cx="616.6" cy="579" r="2.1" fill="#000" fill-opacity="0.18"/><circle cx="510.6" cy="671.8" r="2.1" fill="#000" fill-opacity="0.28"/><circle cx="597.3" cy="544.4" r="2.1" fill="#000" fill-opacity="0.18"/><circle cx="632.8" cy="628.6" r="2.1" fill="#000" fill-opacity="0.18"/><circle cx="629.2" cy="603.9" r="2.1" fill="#000" fill-opacity="0.22"/><circle cx="513.7" cy="670.5" r="2.1" fill="#000" fill-opacity="0.18"/><circle cx="591.7" cy="580.5" r="2.1" fill="#000" fill-opacity="0.22"/><circle cx="630.3" cy="609.7" r="2.1" fill="#000" fill-opacity="0.22"/><circle cx="506.4" cy="678.9" r="2.1" fill="#000" fill-opacity="0.18"/><circle cx="521.8" cy="651.5" r="2.1" fill="#000" fill-opacity="0.18"/><circle cx="608.4" cy="543.6" r="2.1" fill="#000" fill-opacity="0.22"/><circle cx="514" cy="665.9" r="2.1" fill="#000" fill-opacity="0.22"/><circle cx="544.1" cy="572.9" r="2.1" fill="#000" fill-opacity="0.22"/><circle cx="612.7" cy="550.4" r="2.1" fill="#000" fill-opacity="0.18"/><circle cx="563.2" cy="614.8" r="2.1" fill="#000" fill-opacity="0.22"/><circle cx="566.2" cy="631.9" r="2.1" fill="#000" fill-opacity="0.28"/><circle cx="538.2" cy="555" r="2.1" fill="#000" fill-opacity="0.18"/><circle cx="555.8" cy="613.3" r="2.1" fill="#000" fill-opacity="0.35"/><circle cx="596.5" cy="545.3" r="2.1" fill="#000" fill-opacity="0.18"/><circle cx="490.8" cy="679.5" r="2.1" fill="#000" fill-opacity="0.28"/><circle cx="605.3" cy="534.8" r="2.1" fill="#000" fill-opacity="0.28"/><circle cx="648.8" cy="663.2" r="2.1" fill="#000" fill-opacity="0.22"/><circle cx="556.8" cy="598" r="2.1" fill="#000" fill-opacity="0.35"/><circle cx="602.3" cy="540.9" r="2.1" fill="#000" fill-opacity="0.22"/><circle cx="626.4" cy="593.4" r="2.1" fill="#000" fill-opacity="0.28"/><circle cx="580.6" cy="605.1" r="2.1" fill="#000" fill-opacity="0.18"/><circle cx="620.3" cy="587.6" r="2.1" fill="#000" fill-opacity="0.18"/><circle cx="533.7" cy="561.2" r="2.1" fill="#000" fill-opacity="0.28"/><circle cx="559.4" cy="606.4" r="2.1" fill="#000" fill-opacity="0.28"/><circle cx="530.5" cy="572.7" r="2.1" fill="#000" fill-opacity="0.22"/><circle cx="570.9" cy="637.9" r="2.1" fill="#000" fill-opacity="0.28"/><circle cx="579.7" cy="620.5" r="2.1" fill="#000" fill-opacity="0.18"/><circle cx="614.6" cy="552.3" r="2.1" fill="#000" fill-opacity="0.18"/><circle cx="497.3" cy="681.3" r="2.1" fill="#000" fill-opacity="0.22"/><circle cx="547.5" cy="555" r="2.1" fill="#000" fill-opacity="0.35"/><circle cx="643.7" cy="662.2" r="2.1" fill="#000" fill-opacity="0.22"/><circle cx="632.5" cy="626.6" r="2.1" fill="#000" fill-opacity="0.28"/><circle cx="656.3" cy="682" r="2.1" fill="#000" fill-opacity="0.18"/><circle cx="627.8" cy="613.7" r="2.1" fill="#000" fill-opacity="0.18"/><circle cx="508.3" cy="669.4" r="2.1" fill="#000" fill-opacity="0.35"/><circle cx="620.1" cy="579.7" r="2.1" fill="#000" fill-opacity="0.22"/><circle cx="599.2" cy="551" r="2.1" fill="#000" fill-opacity="0.22"/><circle cx="505.4" cy="674.8" r="2.1" fill="#000" fill-opacity="0.18"/><circle cx="624.7" cy="591.5" r="2.1" fill="#000" fill-opacity="0.35"/><circle cx="558.8" cy="606.9" r="2.1" fill="#000" fill-opacity="0.18"/><circle cx="635.4" cy="628.8" r="2.1" fill="#000" fill-opacity="0.28"/><circle cx="629.1" cy="619.8" r="2.1" fill="#000" fill-opacity="0.28"/><circle cx="574.7" cy="618" r="2.1" fill="#000" fill-opacity="0.22"/><circle cx="557.2" cy="597.5" r="2.1" fill="#000" fill-opacity="0.22"/><circle cx="498.9" cy="670.3" r="2.1" fill="#000" fill-opacity="0.18"/><circle cx="574.9" cy="624.6" r="2.1" fill="#000" fill-opacity="0.35"/><circle cx="636.7" cy="633.4" r="2.1" fill="#000" fill-opacity="0.18"/><circle cx="618.8" cy="571" r="2.1" fill="#000" fill-opacity="0.18"/><circle cx="657.7" cy="669" r="2.1" fill="#000" fill-opacity="0.35"/><circle cx="577.1" cy="625.2" r="2.1" fill="#000" fill-opacity="0.18"/><circle cx="635.8" cy="641.1" r="2.1" fill="#000" fill-opacity="0.35"/><circle cx="632.1" cy="620.1" r="2.1" fill="#000" fill-opacity="0.18"/><circle cx="543.5" cy="547.1" r="2.1" fill="#000" fill-opacity="0.22"/><circle cx="570.1" cy="632.8" r="2.1" fill="#000" fill-opacity="0.28"/><circle cx="595.7" cy="576.8" r="2.1" fill="#000" fill-opacity="0.28"/><circle cx="536.9" cy="564.5" r="2.1" fill="#000" fill-opacity="0.18"/><circle cx="496.1" cy="683" r="2.1" fill="#000" fill-opacity="0.35"/><circle cx="594.7" cy="568.7" r="2.1" fill="#000" fill-opacity="0.18"/><circle cx="640.4" cy="646.8" r="2.1" fill="#000" fill-opacity="0.18"/><circle cx="563.5" cy="616.1" r="2.1" fill="#000" fill-opacity="0.35"/><circle cx="532.3" cy="585.4" r="2.1" fill="#000" fill-opacity="0.22"/><circle cx="492.2" cy="678.9" r="2.1" fill="#000" fill-opacity="0.22"/><circle cx="578" cy="626.2" r="2.1" fill="#000" fill-opacity="0.28"/><circle cx="648.6" cy="662.2" r="2.1" fill="#000" fill-opacity="0.22"/><circle cx="626.6" cy="602.3" r="2.1" fill="#000" fill-opacity="0.35"/><circle cx="513.8" cy="662.8" r="2.1" fill="#000" fill-opacity="0.35"/><circle cx="526.6" cy="610.5" r="2.1" fill="#000" fill-opacity="0.18"/><circle cx="586.2" cy="583.7" r="2.1" fill="#000" fill-opacity="0.35"/><circle cx="518.9" cy="644.6" r="2.1" fill="#000" fill-opacity="0.35"/><circle cx="617.4" cy="584.9" r="2.1" fill="#000" fill-opacity="0.18"/><circle cx="565.2" cy="637.5" r="2.1" fill="#000" fill-opacity="0.28"/><circle cx="501.4" cy="684.5" r="2.1" fill="#000" fill-opacity="0.28"/><circle cx="543.1" cy="552.1" r="2.1" fill="#000" fill-opacity="0.18"/><circle cx="547.2" cy="567.9" r="2.1" fill="#000" fill-opacity="0.22"/><circle cx="521" cy="637.4" r="2.1" fill="#000" fill-opacity="0.28"/><circle cx="500.2" cy="676.5" r="2.1" fill="#000" fill-opacity="0.18"/><circle cx="545.5" cy="552.9" r="2.1" fill="#000" fill-opacity="0.28"/><circle cx="508.7" cy="673" r="2.1" fill="#000" fill-opacity="0.28"/><circle cx="504.9" cy="674.8" r="2.1" fill="#000" fill-opacity="0.22"/><circle cx="517.7" cy="652.7" r="2.1" fill="#000" fill-opacity="0.22"/><circle cx="589.9" cy="580.9" r="2.1" fill="#000" fill-opacity="0.35"/><circle cx="588.7" cy="587.4" r="2.1" fill="#000" fill-opacity="0.22"/><circle cx="553.8" cy="599.7" r="2.1" fill="#000" fill-opacity="0.18"/><circle cx="487.1" cy="679.3" r="2.1" fill="#000" fill-opacity="0.22"/><circle cx="490.3" cy="691.7" r="2.1" fill="#000" fill-opacity="0.35"/><circle cx="540.1" cy="543.3" r="2.1" fill="#000" fill-opacity="0.28"/><circle cx="618.6" cy="568.8" r="2.1" fill="#000" fill-opacity="0.35"/><circle cx="512.4" cy="668.6" r="2.1" fill="#000" fill-opacity="0.18"/><circle cx="607.3" cy="561.4" r="2.1" fill="#000" fill-opacity="0.35"/><circle cx="607.3" cy="540.4" r="2.1" fill="#000" fill-opacity="0.18"/><circle cx="651.9" cy="672.7" r="2.1" fill="#000" fill-opacity="0.22"/><circle cx="607.1" cy="564.8" r="2.1" fill="#000" fill-opacity="0.18"/><circle cx="512.1" cy="663.9" r="2.1" fill="#000" fill-opacity="0.28"/><circle cx="548.7" cy="563.2" r="2.1" fill="#000" fill-opacity="0.18"/><circle cx="571.7" cy="628.6" r="2.1" fill="#000" fill-opacity="0.18"/><circle cx="635.2" cy="642" r="2.1" fill="#000" fill-opacity="0.28"/><circle cx="572.2" cy="626.6" r="2.1" fill="#000" fill-opacity="0.22"/><circle cx="603.5" cy="544.3" r="2.1" fill="#000" fill-opacity="0.18"/><circle cx="616.4" cy="568.9" r="2.1" fill="#000" fill-opacity="0.18"/><circle cx="630.5" cy="625.3" r="2.1" fill="#000" fill-opacity="0.22"/><circle cx="646.3" cy="666.3" r="2.1" fill="#000" fill-opacity="0.28"/><circle cx="508.1" cy="668.9" r="2.1" fill="#000" fill-opacity="0.18"/><circle cx="526.5" cy="624.2" r="2.1" fill="#000" fill-opacity="0.35"/><circle cx="651.1" cy="668.2" r="2.1" fill="#000" fill-opacity="0.18"/><circle cx="575" cy="632.4" r="2.1" fill="#000" fill-opacity="0.22"/><circle cx="572.5" cy="631" r="2.1" fill="#000" fill-opacity="0.35"/><circle cx="537.3" cy="557.9" r="2.1" fill="#000" fill-opacity="0.18"/><circle cx="598.3" cy="558.4" r="2.1" fill="#000" fill-opacity="0.22"/><circle cx="521.1" cy="636.5" r="2.1" fill="#000" fill-opacity="0.28"/><circle cx="532.2" cy="581.2" r="2.1" fill="#000" fill-opacity="0.18"/><circle cx="503.9" cy="675.6" r="2.1" fill="#000" fill-opacity="0.28"/><circle cx="550.6" cy="581.5" r="2.1" fill="#000" fill-opacity="0.22"/><circle cx="628" cy="608.7" r="2.1" fill="#000" fill-opacity="0.35"/><circle cx="563.5" cy="625.4" r="2.1" fill="#000" fill-opacity="0.35"/><circle cx="557.1" cy="604.3" r="2.1" fill="#000" fill-opacity="0.35"/><circle cx="540.5" cy="570" r="2.1" fill="#000" fill-opacity="0.35"/><circle cx="501.8" cy="679.9" r="2.1" fill="#000" fill-opacity="0.35"/><circle cx="547.7" cy="562.8" r="2.1" fill="#000" fill-opacity="0.35"/><circle cx="487.3" cy="686.1" r="2.1" fill="#000" fill-opacity="0.18"/><circle cx="496" cy="683.3" r="2.1" fill="#000" fill-opacity="0.22"/><circle cx="527.2" cy="607.7" r="2.1" fill="#000" fill-opacity="0.28"/><circle cx="555.2" cy="591.8" r="2.1" fill="#000" fill-opacity="0.18"/><circle cx="618.5" cy="567.8" r="2.1" fill="#000" fill-opacity="0.18"/><circle cx="541.9" cy="548.7" r="2.1" fill="#000" fill-opacity="0.22"/><circle cx="638" cy="648.4" r="2.1" fill="#000" fill-opacity="0.22"/><circle cx="509.9" cy="672.2" r="2.1" fill="#000" fill-opacity="0.22"/><circle cx="556.3" cy="596.2" r="2.1" fill="#000" fill-opacity="0.28"/><circle cx="598.3" cy="558.8" r="2.1" fill="#000" fill-opacity="0.28"/><circle cx="649.3" cy="671.2" r="2.1" fill="#000" fill-opacity="0.22"/><circle cx="533.8" cy="573.4" r="2.1" fill="#000" fill-opacity="0.22"/><circle cx="571.1" cy="628.9" r="2.1" fill="#000" fill-opacity="0.35"/><circle cx="506.8" cy="678.3" r="2.1" fill="#000" fill-opacity="0.22"/><circle cx="490" cy="674.5" r="2.1" fill="#000" fill-opacity="0.35"/><circle cx="550" cy="580.3" r="2.1" fill="#000" fill-opacity="0.35"/><circle cx="557.3" cy="597.6" r="2.1" fill="#000" fill-opacity="0.28"/><circle cx="582.8" cy="601.1" r="2.1" fill="#000" fill-opacity="0.28"/><circle cx="534.8" cy="570.9" r="2.1" fill="#000" fill-opacity="0.18"/><circle cx="610.4" cy="545.7" r="2.1" fill="#000" fill-opacity="0.28"/><circle cx="541.5" cy="547.2" r="2.1" fill="#000" fill-opacity="0.28"/><circle cx="588.7" cy="593.6" r="2.1" fill="#000" fill-opacity="0.22"/><circle cx="515.7" cy="659.5" r="2.1" fill="#000" fill-opacity="0.28"/><circle cx="631.3" cy="626.2" r="2.1" fill="#000" fill-opacity="0.35"/><circle cx="554.5" cy="593.1" r="2.1" fill="#000" fill-opacity="0.22"/><circle cx="493.6" cy="683.9" r="2.1" fill="#000" fill-opacity="0.18"/><circle cx="494.4" cy="671.5" r="2.1" fill="#000" fill-opacity="0.35"/><circle cx="562" cy="630.1" r="2.1" fill="#000" fill-opacity="0.18"/>
<path d="M486.7,680.1 C487,680.1 487.8,680.1 488.4,680 C488.9,680 489.5,680 490.1,680 C490.6,680 491.2,679.9 491.7,679.9 C492.3,679.9 492.9,679.8 493.4,679.8 C494,679.8 494.5,679.7 495.1,679.6 C495.6,679.6 496.2,679.5 496.8,679.4 C497.3,679.3 497.9,679.2 498.4,679.1 C499,678.9 499.6,678.8 500.1,678.6 C500.7,678.4 501.2,678.2 501.8,678 C502.4,677.7 502.9,677.4 503.5,677.1 C504,676.8 504.6,676.4 505.2,676 C505.7,675.5 506.3,675.1 506.8,674.5 C507.4,673.9 508,673.3 508.5,672.6 C509.1,671.9 509.6,671.1 510.2,670.2 C510.8,669.4 511.3,668.4 511.9,667.3 C512.4,666.2 513,665.1 513.5,663.7 C514.1,662.4 514.7,661 515.2,659.5 C515.8,657.9 516.3,656.3 516.9,654.5 C517.5,652.7 518,650.7 518.6,648.7 C519.1,646.6 519.7,644.5 520.3,642.2 C520.8,639.9 521.4,637.4 521.9,634.9 C522.5,632.4 523.1,629.7 523.6,627 C524.2,624.3 524.7,621.5 525.3,618.6 C525.9,615.8 526.4,612.8 527,609.9 C527.5,607 528.1,604 528.6,601.1 C529.2,598.2 529.8,595.2 530.3,592.4 C530.9,589.6 531.4,586.8 532,584.1 C532.6,581.5 533.1,578.9 533.7,576.5 C534.2,574.1 534.8,571.9 535.4,569.8 C535.9,567.8 536.5,566 537,564.4 C537.6,562.8 538.2,561.4 538.7,560.3 C539.3,559.2 539.8,558.4 540.4,557.8 C541,557.2 541.5,556.9 542.1,556.9 C542.6,556.9 543.2,557.2 543.8,557.7 C544.3,558.2 544.9,559 545.4,560 C546,561.1 546.5,562.4 547.1,563.9 C547.7,565.3 548.2,567.1 548.8,568.9 C549.3,570.8 549.9,572.9 550.5,575 C551,577.2 551.6,579.5 552.1,581.8 C552.7,584.2 553.3,586.7 553.8,589.1 C554.4,591.5 554.9,594 555.5,596.5 C556.1,598.9 556.6,601.3 557.2,603.7 C557.7,606 558.3,608.3 558.9,610.4 C559.4,612.6 560,614.6 560.5,616.5 C561.1,618.4 561.7,620.2 562.2,621.7 C562.8,623.3 563.3,624.7 563.9,626 C564.4,627.2 565,628.2 565.6,629.1 C566.1,630 566.7,630.6 567.2,631.1 C567.8,631.6 568.4,631.8 568.9,631.9 C569.5,632 570,631.9 570.6,631.6 C571.2,631.3 571.7,630.9 572.3,630.3 C572.8,629.6 573.4,628.8 574,627.9 C574.5,627 575.1,625.8 575.6,624.6 C576.2,623.4 576.8,622 577.3,620.6 C577.9,619.1 578.4,617.5 579,615.8 C579.5,614.2 580.1,612.4 580.7,610.6 C581.2,608.7 581.8,606.8 582.3,604.8 C582.9,602.9 583.5,600.9 584,598.8 C584.6,596.8 585.1,594.7 585.7,592.7 C586.3,590.6 586.8,588.5 587.4,586.5 C587.9,584.4 588.5,582.4 589.1,580.4 C589.6,578.4 590.2,576.4 590.7,574.5 C591.3,572.6 591.9,570.7 592.4,568.9 C593,567.1 593.5,565.4 594.1,563.8 C594.7,562.2 595.2,560.7 595.8,559.2 C596.3,557.8 596.9,556.5 597.4,555.3 C598,554.1 598.6,553.1 599.1,552.1 C599.7,551.2 600.2,550.4 600.8,549.7 C601.4,549.1 601.9,548.5 602.5,548.2 C603,547.8 603.6,547.6 604.2,547.5 C604.7,547.4 605.3,547.5 605.8,547.7 C606.4,547.9 607,548.2 607.5,548.7 C608.1,549.2 608.6,549.9 609.2,550.7 C609.8,551.5 610.3,552.4 610.9,553.5 C611.4,554.5 612,555.7 612.5,557 C613.1,558.3 613.7,559.7 614.2,561.2 C614.8,562.8 615.3,564.4 615.9,566.1 C616.5,567.8 617,569.6 617.6,571.5 C618.1,573.4 618.7,575.3 619.3,577.3 C619.8,579.3 620.4,581.4 620.9,583.5 C621.5,585.6 622.1,587.8 622.6,589.9 C623.2,592.1 623.7,594.3 624.3,596.5 C624.9,598.7 625.4,600.9 626,603.1 C626.5,605.3 627.1,607.5 627.7,609.6 C628.2,611.8 628.8,614 629.3,616.1 C629.9,618.2 630.4,620.3 631,622.3 C631.6,624.3 632.1,626.3 632.7,628.3 C633.2,630.2 633.8,632.1 634.4,633.9 C634.9,635.8 635.5,637.5 636,639.3 C636.6,641 637.2,642.6 637.7,644.2 C638.3,645.8 638.8,647.3 639.4,648.8 C640,650.2 640.5,651.6 641.1,653 C641.6,654.3 642.2,655.5 642.8,656.7 C643.3,657.9 643.9,659 644.4,660.1 C645,661.2 645.6,662.2 646.1,663.1 C646.7,664.1 647.2,664.9 647.8,665.8 C648.3,666.6 648.9,667.4 649.5,668.1 C650,668.8 650.6,669.5 651.1,670.1 C651.7,670.7 652.3,671.3 652.8,671.8 C653.4,672.4 653.9,672.9 654.5,673.3 C655.1,673.8 655.6,674.2 656.2,674.6 C656.7,675 657.6,675.5 657.9,675.6" fill="none" stroke="#ff0000" stroke-width="2.6" stroke-linecap="round"/>
<rect x="470.3" y="500.6" width="200.9" height="211" fill="none" stroke="#555" stroke-width="1.2"/>
<line x1="470.3" y1="694.3" x2="474.3" y2="694.3" stroke="#555" stroke-width="1.1"/>
<line x1="470.3" y1="659.1" x2="474.3" y2="659.1" stroke="#555" stroke-width="1.1"/>
<line x1="470.3" y1="623.9" x2="474.3" y2="623.9" stroke="#555" stroke-width="1.1"/>
<line x1="470.3" y1="588.8" x2="474.3" y2="588.8" stroke="#555" stroke-width="1.1"/>
<line x1="470.3" y1="553.6" x2="474.3" y2="553.6" stroke="#555" stroke-width="1.1"/>
<line x1="470.3" y1="518.4" x2="474.3" y2="518.4" stroke="#555" stroke-width="1.1"/>
<line x1="486.7" y1="711.6" x2="486.7" y2="707.6" stroke="#555" stroke-width="1.1"/>
<text x="486.7" y="729.9" font-size="16.5" text-anchor="middle" font-family="Liberation Sans, sans-serif">0</text>
<line x1="520.3" y1="711.6" x2="520.3" y2="707.6" stroke="#555" stroke-width="1.1"/>
<text x="520.3" y="729.9" font-size="16.5" text-anchor="middle" font-family="Liberation Sans, sans-serif">1</text>
<line x1="553.8" y1="711.6" x2="553.8" y2="707.6" stroke="#555" stroke-width="1.1"/>
<text x="553.8" y="729.9" font-size="16.5" text-anchor="middle" font-family="Liberation Sans, sans-serif">2</text>
<line x1="587.4" y1="711.6" x2="587.4" y2="707.6" stroke="#555" stroke-width="1.1"/>
<text x="587.4" y="729.9" font-size="16.5" text-anchor="middle" font-family="Liberation Sans, sans-serif">3</text>
<line x1="620.9" y1="711.6" x2="620.9" y2="707.6" stroke="#555" stroke-width="1.1"/>
<text x="620.9" y="729.9" font-size="16.5" text-anchor="middle" font-family="Liberation Sans, sans-serif">4</text>
<line x1="654.5" y1="711.6" x2="654.5" y2="707.6" stroke="#555" stroke-width="1.1"/>
<text x="654.5" y="729.9" font-size="16.5" text-anchor="middle" font-family="Liberation Sans, sans-serif">5</text>
<text x="570.4" y="754.2" font-size="17.2" text-anchor="middle" font-family="Liberation Sans, sans-serif">Axial position (μm)</text>
<text transform="translate(211.7,607.2) rotate(-90)" font-size="19.7" text-anchor="middle" font-family="Liberation Sans, sans-serif">Norm. Intensity (a.u.)</text></svg></body></html>
